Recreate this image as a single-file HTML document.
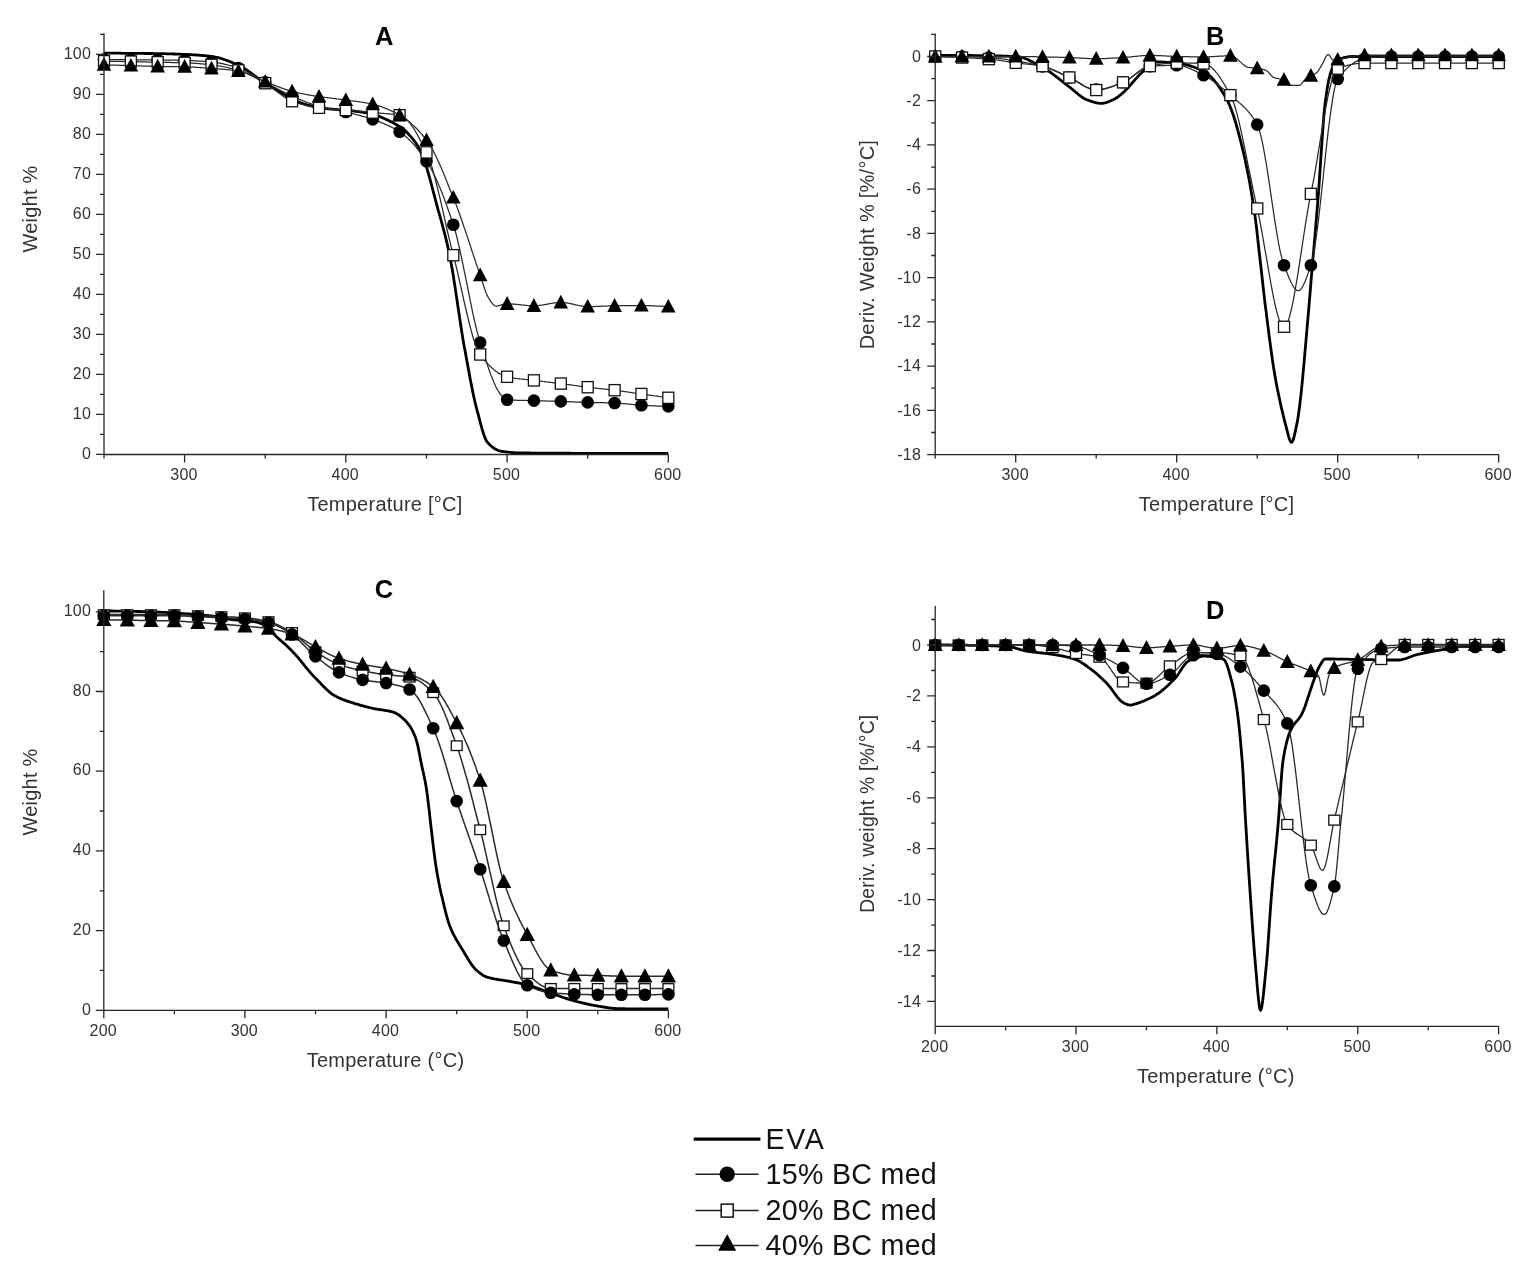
<!DOCTYPE html>
<html><head><meta charset="utf-8"><title>TGA / DTG curves</title>
<style>
html,body{margin:0;padding:0;background:#fff;}
body{width:1532px;height:1276px;overflow:hidden;}
svg{display:block;font-family:"Liberation Sans", Arial, sans-serif;}
.eva{fill:none;stroke:#000;stroke-width:2.8;stroke-linejoin:round;}
.ln{fill:none;stroke:#2a2a2a;stroke-linejoin:round;}
.mc{fill:#000;}
.ms rect{fill:#fff;stroke:#111;stroke-width:1.3;}
.mt{fill:#000;}
.ax{fill:none;stroke:#262626;stroke-width:1.3;}
.tl{font-size:16px;fill:#333;letter-spacing:0.2px;}
.tt{font-size:20px;fill:#333;letter-spacing:0.25px;}
.pl{font-size:25.5px;font-weight:bold;fill:#000;}
</style></head>
<body>
<svg width="1532" height="1276" viewBox="0 0 1532 1276">
<rect width="1532" height="1276" fill="#fff"/>
<path class="eva" d="M104 53.2L104.8 53.2L105.6 53.2L106.4 53.2L107.2 53.2L108 53.2L108.8 53.2L109.6 53.2L110.4 53.2L111.3 53.2L112.1 53.2L112.9 53.2L113.7 53.2L114.5 53.2L115.3 53.2L116.1 53.2L116.9 53.2L117.7 53.2L118.5 53.2L119.3 53.2L120.1 53.2L120.9 53.2L121.7 53.3L122.5 53.3L123.3 53.3L124.2 53.3L125 53.3L125.8 53.3L126.6 53.3L127.4 53.3L128.2 53.3L129 53.3L129.8 53.3L130.6 53.3L131.4 53.3L132.2 53.3L133 53.3L133.8 53.3L134.6 53.3L135.4 53.4L136.2 53.4L137.1 53.4L137.9 53.4L138.7 53.4L139.5 53.4L140.3 53.4L141.1 53.4L141.9 53.4L142.7 53.4L143.5 53.4L144.3 53.4L145.1 53.5L145.9 53.5L146.7 53.5L147.5 53.5L148.3 53.5L149.1 53.5L150 53.5L150.8 53.5L151.6 53.5L152.4 53.5L153.2 53.5L154 53.6L154.8 53.6L155.6 53.6L156.4 53.6L157.2 53.6L158 53.6L158.8 53.6L159.6 53.6L160.4 53.6L161.2 53.7L162 53.7L162.8 53.7L163.7 53.7L164.5 53.7L165.3 53.7L166.1 53.8L166.9 53.8L167.7 53.8L168.5 53.8L169.3 53.9L170.1 53.9L170.9 53.9L171.7 53.9L172.5 53.9L173.3 54L174.1 54L174.9 54L175.7 54.1L176.6 54.1L177.4 54.1L178.2 54.1L179 54.2L179.8 54.2L180.6 54.2L181.4 54.3L182.2 54.3L183 54.3L183.8 54.4L184.6 54.4L185.4 54.4L186.2 54.5L187 54.5L187.8 54.5L188.6 54.6L189.5 54.6L190.3 54.7L191.1 54.7L191.9 54.7L192.7 54.8L193.5 54.8L194.3 54.9L195.1 54.9L195.9 55L196.7 55L197.5 55.1L198.3 55.2L199.1 55.2L199.9 55.3L200.7 55.3L201.5 55.4L202.3 55.5L203.2 55.5L204 55.6L204.8 55.7L205.6 55.8L206.4 55.8L207.2 55.9L208 56L208.8 56.1L209.6 56.2L210.4 56.3L211.2 56.4L212 56.5L212.8 56.6L213.6 56.7L214.4 56.8L215.2 57L216.1 57.2L216.9 57.3L217.7 57.5L218.5 57.7L219.3 58L220.1 58.2L220.9 58.4L221.7 58.7L222.5 58.9L223.3 59.2L224.1 59.5L224.9 59.7L225.7 60L226.5 60.3L227.3 60.6L228.1 60.9L229 61.2L229.8 61.6L230.6 61.9L231.4 62.2L232.2 62.6L233 62.9L233.8 63.2L234.6 63.6L235.4 63.9L236.2 64.3L237 64.6L237.8 65L238.6 65.3L239.4 65.7L240.2 66.1L241 66.5L241.9 67L242.7 67.4L243.5 67.9L244.3 68.4L245.1 68.9L245.9 69.4L246.7 70L247.5 70.5L248.3 71.1L249.1 71.6L249.9 72.2L250.7 72.8L251.5 73.4L252.3 74L253.1 74.6L253.9 75.2L254.7 75.8L255.6 76.4L256.4 77L257.2 77.6L258 78.2L258.8 78.7L259.6 79.3L260.4 79.9L261.2 80.5L262 81L262.8 81.6L263.6 82.1L264.4 82.6L265.2 83.1L266 83.6L266.8 84.1L267.6 84.6L268.5 85.1L269.3 85.6L270.1 86.1L270.9 86.6L271.7 87.1L272.5 87.6L273.3 88.1L274.1 88.6L274.9 89.1L275.7 89.6L276.5 90L277.3 90.5L278.1 91L278.9 91.5L279.7 91.9L280.5 92.4L281.4 92.8L282.2 93.3L283 93.7L283.8 94.2L284.6 94.6L285.4 95L286.2 95.5L287 95.9L287.8 96.3L288.6 96.7L289.4 97.2L290.2 97.6L291 98L291.8 98.5L292.6 98.9L293.4 99.3L294.2 99.7L295.1 100.1L295.9 100.5L296.7 100.9L297.5 101.3L298.3 101.7L299.1 102.1L299.9 102.4L300.7 102.8L301.5 103.1L302.3 103.4L303.1 103.7L303.9 104L304.7 104.2L305.5 104.4L306.3 104.7L307.1 104.9L308 105.1L308.8 105.3L309.6 105.5L310.4 105.7L311.2 105.9L312 106.1L312.8 106.3L313.6 106.5L314.4 106.6L315.2 106.8L316 107L316.8 107.1L317.6 107.3L318.4 107.4L319.2 107.6L320 107.7L320.9 107.8L321.7 107.9L322.5 108.1L323.3 108.2L324.1 108.3L324.9 108.4L325.7 108.5L326.5 108.6L327.3 108.7L328.1 108.8L328.9 108.9L329.7 108.9L330.5 109L331.3 109.1L332.1 109.2L332.9 109.2L333.8 109.3L334.6 109.4L335.4 109.4L336.2 109.5L337 109.6L337.8 109.6L338.6 109.7L339.4 109.8L340.2 109.8L341 109.9L341.8 110L342.6 110L343.4 110.1L344.2 110.1L345 110.2L345.8 110.3L346.6 110.4L347.5 110.4L348.3 110.5L349.1 110.6L349.9 110.7L350.7 110.8L351.5 110.9L352.3 110.9L353.1 111L353.9 111.1L354.7 111.2L355.5 111.3L356.3 111.4L357.1 111.5L357.9 111.6L358.7 111.7L359.5 111.8L360.4 111.9L361.2 112L362 112.1L362.8 112.2L363.6 112.4L364.4 112.5L365.2 112.6L366 112.7L366.8 112.9L367.6 113L368.4 113.2L369.2 113.3L370 113.5L370.8 113.7L371.6 113.9L372.4 114.1L373.3 114.3L374.1 114.5L374.9 114.8L375.7 115L376.5 115.3L377.3 115.6L378.1 115.9L378.9 116.2L379.7 116.6L380.5 116.9L381.3 117.2L382.1 117.6L382.9 117.9L383.7 118.3L384.5 118.7L385.3 119L386.1 119.4L387 119.8L387.8 120.1L388.6 120.5L389.4 120.9L390.2 121.3L391 121.7L391.8 122.1L392.6 122.5L393.4 122.9L394.2 123.4L395 123.8L395.8 124.3L396.6 124.7L397.4 125.2L398.2 125.7L399 126.2L399.9 126.8L400.7 127.3L401.5 127.9L402.3 128.5L403.1 129.1L403.9 129.7L404.7 130.4L405.5 131.1L406.3 131.8L407.1 132.6L407.9 133.4L408.7 134.2L409.5 135.1L410.3 136L411.1 137L411.9 137.9L412.8 138.9L413.6 140L414.4 141.1L415.2 142.2L416 143.4L416.8 144.6L417.6 145.9L418.4 147.3L419.2 148.8L420 150.5L420.8 152.2L421.6 153.9L422.4 155.8L423.2 157.8L424 159.9L424.8 162.2L425.7 164.6L426.5 167.1L427.3 169.7L428.1 172.5L428.9 175.3L429.7 178.1L430.5 181.1L431.3 184.1L432.1 187.1L432.9 190.2L433.7 193.2L434.5 196.3L435.3 199.4L436.1 202.4L436.9 205.4L437.7 208.4L438.5 211.3L439.4 214.2L440.2 217.1L441 220L441.8 222.9L442.6 225.8L443.4 228.8L444.2 231.9L445 235L445.8 238.2L446.6 241.6L447.4 245L448.2 248.6L449 252.4L449.8 256.3L450.6 260.6L451.4 265.1L452.3 269.8L453.1 274.6L453.9 279.7L454.7 284.8L455.5 290.1L456.3 295.4L457.1 300.8L457.9 306.2L458.7 311.6L459.5 316.9L460.3 322.2L461.1 327.5L461.9 332.6L462.7 337.6L463.5 342.4L464.3 347L465.2 351.5L466 355.9L466.8 360.4L467.6 364.8L468.4 369.2L469.2 373.6L470 377.9L470.8 382.1L471.6 386.1L472.4 390.1L473.2 394L474 397.7L474.8 401.2L475.6 404.5L476.4 407.6L477.2 410.8L478.1 414L478.9 417.1L479.7 420.2L480.5 423.3L481.3 426.2L482.1 429.1L482.9 431.7L483.7 434.2L484.5 436.4L485.3 438.4L486.1 440.1L486.9 441.5L487.7 442.6L488.5 443.5L489.3 444.3L490.1 445.1L490.9 445.8L491.8 446.5L492.6 447.2L493.4 447.8L494.2 448.3L495 448.9L495.8 449.3L496.6 449.8L497.4 450.1L498.2 450.5L499 450.7L499.8 451L500.6 451.1L501.4 451.3L502.2 451.4L503 451.5L503.8 451.6L504.7 451.7L505.5 451.8L506.3 451.9L507.1 452L507.9 452.1L508.7 452.2L509.5 452.3L510.3 452.4L511.1 452.4L511.9 452.5L512.7 452.6L513.5 452.6L514.3 452.7L515.1 452.7L515.9 452.8L516.7 452.8L517.6 452.9L518.4 452.9L519.2 452.9L520 452.9L520.8 453L521.6 453L522.4 453L523.2 453L524 453L524.8 453L525.6 453L526.4 453L527.2 453L528 453L528.8 453L529.6 453L530.4 453L531.3 453.1L532.1 453.1L532.9 453.1L533.7 453.1L534.5 453.1L535.3 453.1L536.1 453.1L536.9 453.1L537.7 453.1L538.5 453.1L539.3 453.1L540.1 453.1L540.9 453.1L541.7 453.1L542.5 453.1L543.3 453.1L544.2 453.1L545 453.1L545.8 453.1L546.6 453.1L547.4 453.1L548.2 453.1L549 453.2L549.8 453.2L550.6 453.2L551.4 453.2L552.2 453.2L553 453.2L553.8 453.2L554.6 453.2L555.4 453.2L556.2 453.2L557.1 453.2L557.9 453.2L558.7 453.2L559.5 453.2L560.3 453.2L561.1 453.2L561.9 453.2L562.7 453.2L563.5 453.2L564.3 453.2L565.1 453.2L565.9 453.2L566.7 453.2L567.5 453.2L568.3 453.2L569.1 453.2L570 453.2L570.8 453.2L571.6 453.3L572.4 453.3L573.2 453.3L574 453.3L574.8 453.3L575.6 453.3L576.4 453.3L577.2 453.3L578 453.3L578.8 453.3L579.6 453.3L580.4 453.3L581.2 453.3L582 453.3L582.8 453.3L583.7 453.3L584.5 453.3L585.3 453.3L586.1 453.3L586.9 453.3L587.7 453.3L588.5 453.3L589.3 453.3L590.1 453.3L590.9 453.3L591.7 453.3L592.5 453.3L593.3 453.3L594.1 453.3L594.9 453.3L595.7 453.3L596.6 453.3L597.4 453.3L598.2 453.3L599 453.3L599.8 453.3L600.6 453.3L601.4 453.3L602.2 453.3L603 453.3L603.8 453.3L604.6 453.3L605.4 453.3L606.2 453.3L607 453.3L607.8 453.4L608.6 453.4L609.5 453.4L610.3 453.4L611.1 453.4L611.9 453.4L612.7 453.4L613.5 453.4L614.3 453.4L615.1 453.4L615.9 453.4L616.7 453.4L617.5 453.4L618.3 453.4L619.1 453.4L619.9 453.4L620.7 453.4L621.5 453.4L622.3 453.4L623.2 453.4L624 453.4L624.8 453.4L625.6 453.4L626.4 453.4L627.2 453.4L628 453.4L628.8 453.4L629.6 453.4L630.4 453.4L631.2 453.4L632 453.4L632.8 453.4L633.6 453.4L634.4 453.4L635.2 453.4L636.1 453.4L636.9 453.4L637.7 453.4L638.5 453.4L639.3 453.4L640.1 453.4L640.9 453.4L641.7 453.4L642.5 453.4L643.3 453.4L644.1 453.4L644.9 453.4L645.7 453.4L646.5 453.4L647.3 453.4L648.1 453.4L649 453.4L649.8 453.4L650.6 453.4L651.4 453.4L652.2 453.4L653 453.4L653.8 453.4L654.6 453.4L655.4 453.4L656.2 453.4L657 453.4L657.8 453.4L658.6 453.4L659.4 453.4L660.2 453.4L661 453.4L661.9 453.4L662.7 453.4L663.5 453.4L664.3 453.4L665.1 453.4L665.9 453.4L666.7 453.4L667.5 453.4L668.3 453.4"/>
<path class="ln" stroke-width="1.25" d="M104 59.6L104.8 59.6L105.6 59.6L106.4 59.6L107.2 59.6L108 59.6L108.8 59.6L109.6 59.6L110.4 59.6L111.3 59.7L112.1 59.7L112.9 59.7L113.7 59.7L114.5 59.7L115.3 59.7L116.1 59.7L116.9 59.7L117.7 59.7L118.5 59.7L119.3 59.7L120.1 59.7L120.9 59.7L121.7 59.7L122.5 59.7L123.3 59.7L124.2 59.7L125 59.8L125.8 59.8L126.6 59.8L127.4 59.8L128.2 59.8L129 59.8L129.8 59.8L130.6 59.8L131.4 59.8L132.2 59.8L133 59.8L133.8 59.8L134.6 59.8L135.4 59.8L136.2 59.8L137.1 59.8L137.9 59.8L138.7 59.9L139.5 59.9L140.3 59.9L141.1 59.9L141.9 59.9L142.7 59.9L143.5 59.9L144.3 59.9L145.1 59.9L145.9 59.9L146.7 59.9L147.5 59.9L148.3 59.9L149.1 59.9L150 59.9L150.8 59.9L151.6 59.9L152.4 60L153.2 60L154 60L154.8 60L155.6 60L156.4 60L157.2 60L158 60L158.8 60L159.6 60L160.4 60L161.2 60L162 60L162.8 60.1L163.7 60.1L164.5 60.1L165.3 60.1L166.1 60.1L166.9 60.1L167.7 60.1L168.5 60.1L169.3 60.1L170.1 60.1L170.9 60.1L171.7 60.2L172.5 60.2L173.3 60.2L174.1 60.2L174.9 60.2L175.7 60.2L176.6 60.2L177.4 60.3L178.2 60.3L179 60.3L179.8 60.3L180.6 60.3L181.4 60.3L182.2 60.3L183 60.4L183.8 60.4L184.6 60.4L185.4 60.4L186.2 60.4L187 60.5L187.8 60.5L188.6 60.5L189.5 60.5L190.3 60.6L191.1 60.6L191.9 60.6L192.7 60.7L193.5 60.7L194.3 60.8L195.1 60.8L195.9 60.8L196.7 60.9L197.5 60.9L198.3 61L199.1 61L199.9 61.1L200.7 61.1L201.5 61.2L202.3 61.2L203.2 61.3L204 61.4L204.8 61.4L205.6 61.5L206.4 61.6L207.2 61.6L208 61.7L208.8 61.8L209.6 61.8L210.4 61.9L211.2 62L212 62.1L212.8 62.1L213.6 62.2L214.4 62.3L215.2 62.4L216.1 62.6L216.9 62.7L217.7 62.8L218.5 62.9L219.3 63.1L220.1 63.2L220.9 63.4L221.7 63.6L222.5 63.7L223.3 63.9L224.1 64.1L224.9 64.3L225.7 64.4L226.5 64.6L227.3 64.8L228.1 65L229 65.3L229.8 65.5L230.6 65.7L231.4 65.9L232.2 66.1L233 66.4L233.8 66.6L234.6 66.8L235.4 67.1L236.2 67.3L237 67.6L237.8 67.8L238.6 68.1L239.4 68.4L240.2 68.7L241 69L241.9 69.3L242.7 69.6L243.5 70L244.3 70.4L245.1 70.8L245.9 71.2L246.7 71.6L247.5 72L248.3 72.5L249.1 72.9L249.9 73.4L250.7 73.9L251.5 74.4L252.3 74.8L253.1 75.3L253.9 75.8L254.7 76.3L255.6 76.8L256.4 77.3L257.2 77.8L258 78.3L258.8 78.7L259.6 79.2L260.4 79.7L261.2 80.2L262 80.6L262.8 81.1L263.6 81.5L264.4 82L265.2 82.4L266 82.8L266.8 83.2L267.6 83.7L268.5 84.1L269.3 84.5L270.1 84.9L270.9 85.4L271.7 85.8L272.5 86.2L273.3 86.7L274.1 87.1L274.9 87.5L275.7 87.9L276.5 88.4L277.3 88.8L278.1 89.2L278.9 89.6L279.7 90L280.5 90.4L281.4 90.9L282.2 91.3L283 91.7L283.8 92.1L284.6 92.5L285.4 92.9L286.2 93.3L287 93.7L287.8 94L288.6 94.4L289.4 94.8L290.2 95.2L291 95.5L291.8 95.9L292.6 96.2L293.4 96.6L294.2 96.9L295.1 97.3L295.9 97.7L296.7 98L297.5 98.4L298.3 98.7L299.1 99.1L299.9 99.4L300.7 99.8L301.5 100.1L302.3 100.4L303.1 100.8L303.9 101.1L304.7 101.4L305.5 101.8L306.3 102.1L307.1 102.4L308 102.7L308.8 103L309.6 103.3L310.4 103.6L311.2 103.9L312 104.2L312.8 104.5L313.6 104.8L314.4 105L315.2 105.3L316 105.5L316.8 105.8L317.6 106L318.4 106.3L319.2 106.5L320 106.7L320.9 106.9L321.7 107.1L322.5 107.3L323.3 107.5L324.1 107.7L324.9 107.8L325.7 108L326.5 108.2L327.3 108.3L328.1 108.5L328.9 108.7L329.7 108.8L330.5 109L331.3 109.1L332.1 109.3L332.9 109.4L333.8 109.6L334.6 109.7L335.4 109.9L336.2 110L337 110.2L337.8 110.3L338.6 110.5L339.4 110.6L340.2 110.8L341 110.9L341.8 111.1L342.6 111.3L343.4 111.5L344.2 111.6L345 111.8L345.8 112L346.6 112.2L347.5 112.4L348.3 112.6L349.1 112.8L349.9 113L350.7 113.2L351.5 113.4L352.3 113.6L353.1 113.8L353.9 114L354.7 114.2L355.5 114.4L356.3 114.6L357.1 114.8L357.9 115L358.7 115.2L359.5 115.4L360.4 115.6L361.2 115.8L362 116.1L362.8 116.3L363.6 116.5L364.4 116.8L365.2 117L366 117.2L366.8 117.5L367.6 117.7L368.4 118L369.2 118.2L370 118.5L370.8 118.8L371.6 119L372.4 119.3L373.3 119.6L374.1 119.9L374.9 120.2L375.7 120.4L376.5 120.7L377.3 121L378.1 121.3L378.9 121.6L379.7 121.9L380.5 122.2L381.3 122.6L382.1 122.9L382.9 123.2L383.7 123.5L384.5 123.9L385.3 124.2L386.1 124.6L387 124.9L387.8 125.3L388.6 125.7L389.4 126.1L390.2 126.5L391 126.9L391.8 127.3L392.6 127.7L393.4 128.1L394.2 128.6L395 129L395.8 129.5L396.6 130L397.4 130.4L398.2 130.9L399 131.5L399.9 132L400.7 132.5L401.5 133.1L402.3 133.7L403.1 134.3L403.9 134.9L404.7 135.6L405.5 136.3L406.3 137L407.1 137.7L407.9 138.4L408.7 139.2L409.5 140L410.3 140.8L411.1 141.6L411.9 142.5L412.8 143.4L413.6 144.3L414.4 145.2L415.2 146.1L416 147.1L416.8 148L417.6 149L418.4 150L419.2 151.1L420 152.1L420.8 153.2L421.6 154.3L422.4 155.4L423.2 156.5L424 157.7L424.8 158.8L425.7 160L426.5 161.2L427.3 162.4L428.1 163.7L428.9 165L429.7 166.4L430.5 167.8L431.3 169.3L432.1 170.8L432.9 172.4L433.7 174L434.5 175.6L435.3 177.3L436.1 179.1L436.9 180.8L437.7 182.7L438.5 184.5L439.4 186.4L440.2 188.4L441 190.3L441.8 192.3L442.6 194.4L443.4 196.5L444.2 198.6L445 200.7L445.8 202.9L446.6 205.1L447.4 207.4L448.2 209.7L449 212L449.8 214.3L450.6 216.7L451.4 219.1L452.3 221.5L453.1 224L453.9 226.5L454.7 229.2L455.5 232L456.3 235L457.1 238.2L457.9 241.5L458.7 244.9L459.5 248.4L460.3 252L461.1 255.8L461.9 259.5L462.7 263.4L463.5 267.3L464.3 271.3L465.2 275.3L466 279.3L466.8 283.4L467.6 287.4L468.4 291.4L469.2 295.4L470 299.4L470.8 303.4L471.6 307.2L472.4 311.1L473.2 314.8L474 318.5L474.8 322L475.6 325.5L476.4 328.8L477.2 332L478.1 335.1L478.9 338L479.7 340.8L480.5 343.4L481.3 345.9L482.1 348.5L482.9 351L483.7 353.6L484.5 356.1L485.3 358.6L486.1 361L486.9 363.5L487.7 365.9L488.5 368.2L489.3 370.5L490.1 372.8L490.9 374.9L491.8 377.1L492.6 379.1L493.4 381.1L494.2 383L495 384.8L495.8 386.5L496.6 388.1L497.4 389.6L498.2 391L499 392.2L499.8 393.4L500.6 394.4L501.4 395.3L502.2 396.3L503 397.1L503.8 398L504.7 398.7L505.5 399.2L506.3 399.6L507.1 399.8L507.9 399.9L508.7 399.9L509.5 400L510.3 400L511.1 400L511.9 400.1L512.7 400.1L513.5 400.1L514.3 400.2L515.1 400.2L515.9 400.2L516.7 400.3L517.6 400.3L518.4 400.3L519.2 400.3L520 400.3L520.8 400.3L521.6 400.4L522.4 400.4L523.2 400.4L524 400.4L524.8 400.4L525.6 400.4L526.4 400.4L527.2 400.5L528 400.5L528.8 400.5L529.6 400.5L530.4 400.5L531.3 400.5L532.1 400.5L532.9 400.6L533.7 400.6L534.5 400.6L535.3 400.6L536.1 400.7L536.9 400.7L537.7 400.7L538.5 400.7L539.3 400.8L540.1 400.8L540.9 400.8L541.7 400.8L542.5 400.8L543.3 400.9L544.2 400.9L545 400.9L545.8 400.9L546.6 401L547.4 401L548.2 401L549 401L549.8 401.1L550.6 401.1L551.4 401.1L552.2 401.1L553 401.2L553.8 401.2L554.6 401.2L555.4 401.2L556.2 401.3L557.1 401.3L557.9 401.3L558.7 401.3L559.5 401.4L560.3 401.4L561.1 401.4L561.9 401.4L562.7 401.5L563.5 401.5L564.3 401.5L565.1 401.6L565.9 401.6L566.7 401.6L567.5 401.6L568.3 401.7L569.1 401.7L570 401.7L570.8 401.8L571.6 401.8L572.4 401.8L573.2 401.9L574 401.9L574.8 401.9L575.6 402L576.4 402L577.2 402L578 402.1L578.8 402.1L579.6 402.1L580.4 402.2L581.2 402.2L582 402.2L582.8 402.2L583.7 402.3L584.5 402.3L585.3 402.3L586.1 402.4L586.9 402.4L587.7 402.4L588.5 402.4L589.3 402.4L590.1 402.5L590.9 402.5L591.7 402.5L592.5 402.5L593.3 402.5L594.1 402.5L594.9 402.6L595.7 402.6L596.6 402.6L597.4 402.6L598.2 402.6L599 402.6L599.8 402.7L600.6 402.7L601.4 402.7L602.2 402.7L603 402.7L603.8 402.7L604.6 402.7L605.4 402.8L606.2 402.8L607 402.8L607.8 402.8L608.6 402.8L609.5 402.8L610.3 402.9L611.1 402.9L611.9 402.9L612.7 402.9L613.5 403L614.3 403L615.1 403L615.9 403.1L616.7 403.1L617.5 403.1L618.3 403.2L619.1 403.2L619.9 403.3L620.7 403.4L621.5 403.4L622.3 403.5L623.2 403.6L624 403.6L624.8 403.7L625.6 403.8L626.4 403.9L627.2 403.9L628 404L628.8 404.1L629.6 404.2L630.4 404.3L631.2 404.3L632 404.4L632.8 404.5L633.6 404.6L634.4 404.7L635.2 404.7L636.1 404.8L636.9 404.9L637.7 404.9L638.5 405L639.3 405.1L640.1 405.1L640.9 405.2L641.7 405.2L642.5 405.3L643.3 405.3L644.1 405.4L644.9 405.4L645.7 405.4L646.5 405.5L647.3 405.5L648.1 405.6L649 405.6L649.8 405.7L650.6 405.7L651.4 405.7L652.2 405.8L653 405.8L653.8 405.9L654.6 405.9L655.4 405.9L656.2 406L657 406L657.8 406L658.6 406.1L659.4 406.1L660.2 406.1L661 406.2L661.9 406.2L662.7 406.2L663.5 406.3L664.3 406.3L665.1 406.3L665.9 406.3L666.7 406.4L667.5 406.4L668.3 406.4"/>
<g class="mc"><circle cx="104" cy="59.6" r="6.3"/><circle cx="130.9" cy="59.8" r="6.3"/><circle cx="157.7" cy="60" r="6.3"/><circle cx="184.6" cy="60.4" r="6.3"/><circle cx="211.5" cy="62" r="6.3"/><circle cx="238.4" cy="68" r="6.3"/><circle cx="265.2" cy="82.4" r="6.3"/><circle cx="292.1" cy="96" r="6.3"/><circle cx="319" cy="106.4" r="6.3"/><circle cx="345.8" cy="112" r="6.3"/><circle cx="372.7" cy="119.4" r="6.3"/><circle cx="399.6" cy="131.8" r="6.3"/><circle cx="426.5" cy="161.2" r="6.3"/><circle cx="453.3" cy="224.8" r="6.3"/><circle cx="480.2" cy="342.5" r="6.3"/><circle cx="507.1" cy="399.8" r="6.3"/><circle cx="533.9" cy="400.6" r="6.3"/><circle cx="560.8" cy="401.4" r="6.3"/><circle cx="587.7" cy="402.4" r="6.3"/><circle cx="614.6" cy="403" r="6.3"/><circle cx="641.4" cy="405.2" r="6.3"/><circle cx="668.3" cy="406.4" r="6.3"/></g>
<path class="ln" stroke-width="1.25" d="M104 61.2L104.8 61.2L105.6 61.2L106.4 61.2L107.2 61.2L108 61.2L108.8 61.3L109.6 61.3L110.4 61.3L111.3 61.3L112.1 61.3L112.9 61.3L113.7 61.3L114.5 61.3L115.3 61.3L116.1 61.4L116.9 61.4L117.7 61.4L118.5 61.4L119.3 61.4L120.1 61.4L120.9 61.4L121.7 61.4L122.5 61.5L123.3 61.5L124.2 61.5L125 61.5L125.8 61.5L126.6 61.5L127.4 61.5L128.2 61.6L129 61.6L129.8 61.6L130.6 61.6L131.4 61.6L132.2 61.6L133 61.6L133.8 61.7L134.6 61.7L135.4 61.7L136.2 61.7L137.1 61.7L137.9 61.7L138.7 61.8L139.5 61.8L140.3 61.8L141.1 61.8L141.9 61.8L142.7 61.8L143.5 61.9L144.3 61.9L145.1 61.9L145.9 61.9L146.7 61.9L147.5 62L148.3 62L149.1 62L150 62L150.8 62L151.6 62.1L152.4 62.1L153.2 62.1L154 62.1L154.8 62.1L155.6 62.2L156.4 62.2L157.2 62.2L158 62.2L158.8 62.2L159.6 62.2L160.4 62.3L161.2 62.3L162 62.3L162.8 62.3L163.7 62.3L164.5 62.3L165.3 62.3L166.1 62.4L166.9 62.4L167.7 62.4L168.5 62.4L169.3 62.4L170.1 62.4L170.9 62.5L171.7 62.5L172.5 62.5L173.3 62.5L174.1 62.5L174.9 62.5L175.7 62.6L176.6 62.6L177.4 62.6L178.2 62.6L179 62.6L179.8 62.7L180.6 62.7L181.4 62.7L182.2 62.7L183 62.7L183.8 62.8L184.6 62.8L185.4 62.8L186.2 62.9L187 62.9L187.8 62.9L188.6 63L189.5 63L190.3 63L191.1 63.1L191.9 63.1L192.7 63.2L193.5 63.2L194.3 63.3L195.1 63.3L195.9 63.4L196.7 63.4L197.5 63.5L198.3 63.6L199.1 63.6L199.9 63.7L200.7 63.8L201.5 63.8L202.3 63.9L203.2 64L204 64L204.8 64.1L205.6 64.2L206.4 64.3L207.2 64.3L208 64.4L208.8 64.5L209.6 64.6L210.4 64.7L211.2 64.8L212 64.9L212.8 65L213.6 65.1L214.4 65.2L215.2 65.3L216.1 65.4L216.9 65.5L217.7 65.6L218.5 65.8L219.3 65.9L220.1 66L220.9 66.2L221.7 66.3L222.5 66.5L223.3 66.7L224.1 66.8L224.9 67L225.7 67.2L226.5 67.3L227.3 67.5L228.1 67.7L229 67.9L229.8 68.1L230.6 68.3L231.4 68.5L232.2 68.7L233 68.9L233.8 69.1L234.6 69.3L235.4 69.6L236.2 69.8L237 70L237.8 70.2L238.6 70.5L239.4 70.7L240.2 71L241 71.3L241.9 71.5L242.7 71.8L243.5 72.1L244.3 72.5L245.1 72.8L245.9 73.1L246.7 73.5L247.5 73.8L248.3 74.2L249.1 74.6L249.9 75L250.7 75.4L251.5 75.8L252.3 76.2L253.1 76.6L253.9 77L254.7 77.4L255.6 77.9L256.4 78.3L257.2 78.7L258 79.2L258.8 79.6L259.6 80.1L260.4 80.5L261.2 81L262 81.4L262.8 81.9L263.6 82.3L264.4 82.8L265.2 83.2L266 83.7L266.8 84.1L267.6 84.7L268.5 85.2L269.3 85.7L270.1 86.3L270.9 86.9L271.7 87.5L272.5 88.1L273.3 88.7L274.1 89.3L274.9 89.9L275.7 90.6L276.5 91.2L277.3 91.8L278.1 92.4L278.9 93.1L279.7 93.7L280.5 94.3L281.4 94.9L282.2 95.5L283 96.1L283.8 96.6L284.6 97.2L285.4 97.7L286.2 98.2L287 98.7L287.8 99.2L288.6 99.6L289.4 100L290.2 100.4L291 100.8L291.8 101.1L292.6 101.4L293.4 101.7L294.2 102L295.1 102.2L295.9 102.5L296.7 102.8L297.5 103L298.3 103.3L299.1 103.5L299.9 103.8L300.7 104L301.5 104.2L302.3 104.5L303.1 104.7L303.9 104.9L304.7 105.1L305.5 105.3L306.3 105.5L307.1 105.7L308 105.9L308.8 106L309.6 106.2L310.4 106.4L311.2 106.6L312 106.7L312.8 106.9L313.6 107L314.4 107.1L315.2 107.3L316 107.4L316.8 107.5L317.6 107.6L318.4 107.7L319.2 107.8L320 107.9L320.9 108L321.7 108.1L322.5 108.2L323.3 108.3L324.1 108.3L324.9 108.4L325.7 108.5L326.5 108.6L327.3 108.6L328.1 108.7L328.9 108.8L329.7 108.8L330.5 108.9L331.3 108.9L332.1 109L332.9 109.1L333.8 109.1L334.6 109.2L335.4 109.2L336.2 109.3L337 109.3L337.8 109.4L338.6 109.4L339.4 109.5L340.2 109.6L341 109.6L341.8 109.7L342.6 109.7L343.4 109.8L344.2 109.9L345 109.9L345.8 110L346.6 110.1L347.5 110.1L348.3 110.2L349.1 110.3L349.9 110.4L350.7 110.4L351.5 110.5L352.3 110.6L353.1 110.7L353.9 110.7L354.7 110.8L355.5 110.9L356.3 111L357.1 111.1L357.9 111.1L358.7 111.2L359.5 111.3L360.4 111.4L361.2 111.5L362 111.5L362.8 111.6L363.6 111.7L364.4 111.8L365.2 111.9L366 111.9L366.8 112L367.6 112.1L368.4 112.2L369.2 112.3L370 112.3L370.8 112.4L371.6 112.5L372.4 112.6L373.3 112.7L374.1 112.7L374.9 112.8L375.7 112.9L376.5 112.9L377.3 113L378.1 113L378.9 113.1L379.7 113.2L380.5 113.2L381.3 113.3L382.1 113.3L382.9 113.4L383.7 113.4L384.5 113.5L385.3 113.6L386.1 113.6L387 113.7L387.8 113.7L388.6 113.8L389.4 113.9L390.2 114L391 114L391.8 114.1L392.6 114.2L393.4 114.3L394.2 114.4L395 114.5L395.8 114.6L396.6 114.7L397.4 114.8L398.2 115L399 115.1L399.9 115.3L400.7 115.5L401.5 115.8L402.3 116.1L403.1 116.6L403.9 117.1L404.7 117.7L405.5 118.4L406.3 119.1L407.1 119.9L407.9 120.8L408.7 121.7L409.5 122.7L410.3 123.7L411.1 124.8L411.9 126L412.8 127.2L413.6 128.4L414.4 129.7L415.2 131L416 132.4L416.8 133.8L417.6 135.2L418.4 136.6L419.2 138.1L420 139.6L420.8 141.2L421.6 142.7L422.4 144.3L423.2 145.9L424 147.5L424.8 149.1L425.7 150.8L426.5 152.4L427.3 154.1L428.1 156L428.9 158.1L429.7 160.3L430.5 162.6L431.3 165.1L432.1 167.7L432.9 170.5L433.7 173.3L434.5 176.3L435.3 179.3L436.1 182.5L436.9 185.7L437.7 189L438.5 192.3L439.4 195.7L440.2 199.2L441 202.6L441.8 206.2L442.6 209.7L443.4 213.3L444.2 216.8L445 220.4L445.8 224L446.6 227.5L447.4 231L448.2 234.5L449 237.9L449.8 241.3L450.6 244.6L451.4 247.9L452.3 251.1L453.1 254.2L453.9 257.2L454.7 260.4L455.5 263.6L456.3 267L457.1 270.3L457.9 273.8L458.7 277.3L459.5 280.8L460.3 284.4L461.1 288L461.9 291.6L462.7 295.2L463.5 298.8L464.3 302.4L465.2 306L466 309.5L466.8 312.9L467.6 316.3L468.4 319.7L469.2 322.9L470 326.1L470.8 329.2L471.6 332.2L472.4 335L473.2 337.7L474 340.3L474.8 342.8L475.6 345L476.4 347.2L477.2 349.1L478.1 350.8L478.9 352.4L479.7 353.7L480.5 354.9L481.3 356L482.1 357L482.9 358L483.7 359L484.5 360L485.3 361L486.1 361.9L486.9 362.8L487.7 363.7L488.5 364.6L489.3 365.4L490.1 366.2L490.9 367L491.8 367.8L492.6 368.5L493.4 369.2L494.2 369.9L495 370.5L495.8 371.2L496.6 371.8L497.4 372.3L498.2 372.9L499 373.4L499.8 373.8L500.6 374.3L501.4 374.7L502.2 375.1L503 375.5L503.8 375.8L504.7 376.1L505.5 376.4L506.3 376.6L507.1 376.8L507.9 377L508.7 377.2L509.5 377.3L510.3 377.5L511.1 377.6L511.9 377.8L512.7 377.9L513.5 378L514.3 378.2L515.1 378.3L515.9 378.4L516.7 378.5L517.6 378.6L518.4 378.7L519.2 378.8L520 378.9L520.8 379L521.6 379.1L522.4 379.2L523.2 379.2L524 379.3L524.8 379.4L525.6 379.5L526.4 379.6L527.2 379.7L528 379.7L528.8 379.8L529.6 379.9L530.4 380L531.3 380.1L532.1 380.2L532.9 380.3L533.7 380.4L534.5 380.5L535.3 380.6L536.1 380.7L536.9 380.8L537.7 380.9L538.5 381L539.3 381.1L540.1 381.2L540.9 381.2L541.7 381.3L542.5 381.4L543.3 381.5L544.2 381.6L545 381.7L545.8 381.8L546.6 381.9L547.4 382L548.2 382.1L549 382.2L549.8 382.3L550.6 382.4L551.4 382.5L552.2 382.6L553 382.7L553.8 382.8L554.6 382.8L555.4 382.9L556.2 383L557.1 383.1L557.9 383.2L558.7 383.3L559.5 383.4L560.3 383.5L561.1 383.6L561.9 383.7L562.7 383.8L563.5 383.9L564.3 384.1L565.1 384.2L565.9 384.3L566.7 384.4L567.5 384.5L568.3 384.6L569.1 384.7L570 384.8L570.8 384.9L571.6 385L572.4 385.2L573.2 385.3L574 385.4L574.8 385.5L575.6 385.6L576.4 385.7L577.2 385.8L578 385.9L578.8 386L579.6 386.2L580.4 386.3L581.2 386.4L582 386.5L582.8 386.6L583.7 386.7L584.5 386.8L585.3 386.9L586.1 387L586.9 387.1L587.7 387.2L588.5 387.3L589.3 387.4L590.1 387.5L590.9 387.6L591.7 387.7L592.5 387.8L593.3 387.9L594.1 387.9L594.9 388L595.7 388.1L596.6 388.2L597.4 388.3L598.2 388.4L599 388.5L599.8 388.5L600.6 388.6L601.4 388.7L602.2 388.8L603 388.9L603.8 389L604.6 389.1L605.4 389.1L606.2 389.2L607 389.3L607.8 389.4L608.6 389.5L609.5 389.6L610.3 389.7L611.1 389.8L611.9 389.9L612.7 390L613.5 390.1L614.3 390.2L615.1 390.3L615.9 390.4L616.7 390.5L617.5 390.6L618.3 390.7L619.1 390.8L619.9 390.9L620.7 391L621.5 391.1L622.3 391.2L623.2 391.3L624 391.5L624.8 391.6L625.6 391.7L626.4 391.8L627.2 391.9L628 392L628.8 392.2L629.6 392.3L630.4 392.4L631.2 392.5L632 392.6L632.8 392.8L633.6 392.9L634.4 393L635.2 393.1L636.1 393.2L636.9 393.3L637.7 393.5L638.5 393.6L639.3 393.7L640.1 393.8L640.9 393.9L641.7 394L642.5 394.2L643.3 394.3L644.1 394.4L644.9 394.5L645.7 394.6L646.5 394.7L647.3 394.8L648.1 394.9L649 395.1L649.8 395.2L650.6 395.3L651.4 395.4L652.2 395.5L653 395.6L653.8 395.7L654.6 395.9L655.4 396L656.2 396.1L657 396.2L657.8 396.3L658.6 396.4L659.4 396.5L660.2 396.7L661 396.8L661.9 396.9L662.7 397L663.5 397.1L664.3 397.2L665.1 397.3L665.9 397.5L666.7 397.6L667.5 397.7L668.3 397.8"/>
<g class="ms"><rect x="98.5" y="55.6" width="11" height="11.2"/><rect x="125.4" y="56" width="11" height="11.2"/><rect x="152.2" y="56.6" width="11" height="11.2"/><rect x="179.1" y="57.2" width="11" height="11.2"/><rect x="206" y="59.2" width="11" height="11.2"/><rect x="232.9" y="64.8" width="11" height="11.2"/><rect x="259.7" y="77.6" width="11" height="11.2"/><rect x="286.6" y="95.6" width="11" height="11.2"/><rect x="313.5" y="102.2" width="11" height="11.2"/><rect x="340.3" y="104.4" width="11" height="11.2"/><rect x="367.2" y="107" width="11" height="11.2"/><rect x="394.1" y="109.6" width="11" height="11.2"/><rect x="421" y="146.8" width="11" height="11.2"/><rect x="447.8" y="249.6" width="11" height="11.2"/><rect x="474.7" y="348.9" width="11" height="11.2"/><rect x="501.6" y="371.2" width="11" height="11.2"/><rect x="528.4" y="374.8" width="11" height="11.2"/><rect x="555.3" y="378" width="11" height="11.2"/><rect x="582.2" y="381.6" width="11" height="11.2"/><rect x="609.1" y="384.6" width="11" height="11.2"/><rect x="635.9" y="388.4" width="11" height="11.2"/><rect x="662.8" y="392.2" width="11" height="11.2"/></g>
<path class="ln" stroke-width="1.25" d="M104 64.8L104.8 64.8L105.6 64.8L106.4 64.9L107.2 64.9L108 64.9L108.8 64.9L109.6 65L110.4 65L111.3 65L112.1 65L112.9 65.1L113.7 65.1L114.5 65.1L115.3 65.1L116.1 65.2L116.9 65.2L117.7 65.2L118.5 65.2L119.3 65.3L120.1 65.3L120.9 65.3L121.7 65.3L122.5 65.4L123.3 65.4L124.2 65.4L125 65.4L125.8 65.4L126.6 65.5L127.4 65.5L128.2 65.5L129 65.5L129.8 65.6L130.6 65.6L131.4 65.6L132.2 65.6L133 65.7L133.8 65.7L134.6 65.7L135.4 65.7L136.2 65.8L137.1 65.8L137.9 65.8L138.7 65.8L139.5 65.9L140.3 65.9L141.1 65.9L141.9 66L142.7 66L143.5 66L144.3 66L145.1 66.1L145.9 66.1L146.7 66.1L147.5 66.1L148.3 66.2L149.1 66.2L150 66.2L150.8 66.2L151.6 66.3L152.4 66.3L153.2 66.3L154 66.3L154.8 66.3L155.6 66.4L156.4 66.4L157.2 66.4L158 66.4L158.8 66.4L159.6 66.4L160.4 66.4L161.2 66.5L162 66.5L162.8 66.5L163.7 66.5L164.5 66.5L165.3 66.5L166.1 66.5L166.9 66.5L167.7 66.5L168.5 66.6L169.3 66.6L170.1 66.6L170.9 66.6L171.7 66.6L172.5 66.6L173.3 66.6L174.1 66.6L174.9 66.6L175.7 66.6L176.6 66.7L177.4 66.7L178.2 66.7L179 66.7L179.8 66.7L180.6 66.7L181.4 66.7L182.2 66.7L183 66.8L183.8 66.8L184.6 66.8L185.4 66.8L186.2 66.8L187 66.9L187.8 66.9L188.6 66.9L189.5 67L190.3 67L191.1 67L191.9 67.1L192.7 67.1L193.5 67.2L194.3 67.2L195.1 67.2L195.9 67.3L196.7 67.3L197.5 67.4L198.3 67.4L199.1 67.5L199.9 67.6L200.7 67.6L201.5 67.7L202.3 67.7L203.2 67.8L204 67.8L204.8 67.9L205.6 68L206.4 68L207.2 68.1L208 68.1L208.8 68.2L209.6 68.3L210.4 68.3L211.2 68.4L212 68.4L212.8 68.5L213.6 68.6L214.4 68.6L215.2 68.7L216.1 68.7L216.9 68.8L217.7 68.8L218.5 68.9L219.3 69L220.1 69L220.9 69.1L221.7 69.2L222.5 69.2L223.3 69.3L224.1 69.4L224.9 69.4L225.7 69.5L226.5 69.6L227.3 69.6L228.1 69.7L229 69.8L229.8 69.9L230.6 70L231.4 70.1L232.2 70.2L233 70.3L233.8 70.4L234.6 70.5L235.4 70.6L236.2 70.7L237 70.8L237.8 70.9L238.6 71L239.4 71.2L240.2 71.4L241 71.5L241.9 71.8L242.7 72L243.5 72.2L244.3 72.5L245.1 72.8L245.9 73.1L246.7 73.4L247.5 73.7L248.3 74L249.1 74.4L249.9 74.7L250.7 75.1L251.5 75.4L252.3 75.8L253.1 76.2L253.9 76.5L254.7 76.9L255.6 77.3L256.4 77.7L257.2 78.1L258 78.5L258.8 78.8L259.6 79.2L260.4 79.6L261.2 79.9L262 80.3L262.8 80.6L263.6 81L264.4 81.3L265.2 81.6L266 81.9L266.8 82.2L267.6 82.5L268.5 82.8L269.3 83.2L270.1 83.5L270.9 83.8L271.7 84.1L272.5 84.5L273.3 84.8L274.1 85.1L274.9 85.4L275.7 85.8L276.5 86.1L277.3 86.4L278.1 86.7L278.9 87L279.7 87.3L280.5 87.6L281.4 87.9L282.2 88.2L283 88.5L283.8 88.8L284.6 89.1L285.4 89.4L286.2 89.7L287 89.9L287.8 90.2L288.6 90.4L289.4 90.7L290.2 90.9L291 91.1L291.8 91.3L292.6 91.5L293.4 91.7L294.2 91.9L295.1 92.1L295.9 92.3L296.7 92.5L297.5 92.7L298.3 92.9L299.1 93L299.9 93.2L300.7 93.4L301.5 93.5L302.3 93.7L303.1 93.9L303.9 94L304.7 94.2L305.5 94.3L306.3 94.5L307.1 94.6L308 94.8L308.8 94.9L309.6 95.1L310.4 95.2L311.2 95.3L312 95.5L312.8 95.6L313.6 95.8L314.4 95.9L315.2 96L316 96.1L316.8 96.3L317.6 96.4L318.4 96.5L319.2 96.6L320 96.8L320.9 96.9L321.7 97L322.5 97.1L323.3 97.2L324.1 97.3L324.9 97.4L325.7 97.5L326.5 97.6L327.3 97.7L328.1 97.8L328.9 97.9L329.7 98L330.5 98.1L331.3 98.2L332.1 98.3L332.9 98.4L333.8 98.5L334.6 98.6L335.4 98.7L336.2 98.8L337 98.9L337.8 99L338.6 99.1L339.4 99.2L340.2 99.3L341 99.4L341.8 99.5L342.6 99.6L343.4 99.7L344.2 99.8L345 99.9L345.8 100L346.6 100.1L347.5 100.2L348.3 100.3L349.1 100.4L349.9 100.5L350.7 100.7L351.5 100.8L352.3 100.9L353.1 101L353.9 101.1L354.7 101.2L355.5 101.3L356.3 101.4L357.1 101.5L357.9 101.6L358.7 101.7L359.5 101.8L360.4 102L361.2 102.1L362 102.2L362.8 102.3L363.6 102.5L364.4 102.6L365.2 102.7L366 102.9L366.8 103L367.6 103.2L368.4 103.3L369.2 103.5L370 103.6L370.8 103.8L371.6 104L372.4 104.1L373.3 104.3L374.1 104.5L374.9 104.7L375.7 104.9L376.5 105.2L377.3 105.4L378.1 105.6L378.9 105.9L379.7 106.1L380.5 106.4L381.3 106.7L382.1 107L382.9 107.3L383.7 107.6L384.5 107.9L385.3 108.2L386.1 108.6L387 108.9L387.8 109.2L388.6 109.6L389.4 110L390.2 110.3L391 110.7L391.8 111.1L392.6 111.5L393.4 111.9L394.2 112.3L395 112.7L395.8 113.1L396.6 113.6L397.4 114L398.2 114.4L399 114.9L399.9 115.4L400.7 115.8L401.5 116.3L402.3 116.8L403.1 117.3L403.9 117.9L404.7 118.4L405.5 119L406.3 119.6L407.1 120.2L407.9 120.8L408.7 121.5L409.5 122.1L410.3 122.8L411.1 123.5L411.9 124.2L412.8 124.9L413.6 125.7L414.4 126.4L415.2 127.2L416 128L416.8 128.8L417.6 129.7L418.4 130.5L419.2 131.4L420 132.3L420.8 133.2L421.6 134.1L422.4 135L423.2 136L424 137L424.8 138L425.7 139L426.5 140L427.3 141.1L428.1 142.2L428.9 143.4L429.7 144.7L430.5 146L431.3 147.4L432.1 148.8L432.9 150.3L433.7 151.8L434.5 153.4L435.3 155L436.1 156.6L436.9 158.3L437.7 160.1L438.5 161.8L439.4 163.7L440.2 165.5L441 167.3L441.8 169.2L442.6 171.1L443.4 173.1L444.2 175L445 177L445.8 178.9L446.6 180.9L447.4 182.9L448.2 184.9L449 186.9L449.8 188.9L450.6 190.9L451.4 192.9L452.3 194.9L453.1 196.9L453.9 198.9L454.7 201L455.5 203L456.3 205.1L457.1 207.3L457.9 209.5L458.7 211.7L459.5 213.9L460.3 216.2L461.1 218.5L461.9 220.8L462.7 223.2L463.5 225.5L464.3 227.9L465.2 230.3L466 232.7L466.8 235.1L467.6 237.5L468.4 240L469.2 242.4L470 244.8L470.8 247.3L471.6 249.7L472.4 252.2L473.2 254.6L474 257L474.8 259.5L475.6 261.9L476.4 264.3L477.2 266.6L478.1 269L478.9 271.3L479.7 273.7L480.5 276L481.3 278.4L482.1 280.9L482.9 283.5L483.7 286.1L484.5 288.6L485.3 290.9L486.1 293L486.9 294.9L487.7 296.4L488.5 297.7L489.3 299.1L490.1 300.4L490.9 301.7L491.8 302.8L492.6 303.8L493.4 304.7L494.2 305.4L495 305.8L495.8 306L496.6 306L497.4 305.9L498.2 305.8L499 305.6L499.8 305.4L500.6 305.2L501.4 304.9L502.2 304.7L503 304.5L503.8 304.2L504.7 304.1L505.5 303.9L506.3 303.8L507.1 303.8L507.9 303.8L508.7 303.8L509.5 303.8L510.3 303.9L511.1 303.9L511.9 304L512.7 304L513.5 304.1L514.3 304.2L515.1 304.2L515.9 304.3L516.7 304.4L517.6 304.5L518.4 304.6L519.2 304.7L520 304.7L520.8 304.8L521.6 304.9L522.4 305L523.2 305.1L524 305.2L524.8 305.3L525.6 305.3L526.4 305.4L527.2 305.5L528 305.6L528.8 305.6L529.6 305.7L530.4 305.7L531.3 305.7L532.1 305.8L532.9 305.8L533.7 305.8L534.5 305.8L535.3 305.8L536.1 305.7L536.9 305.7L537.7 305.6L538.5 305.5L539.3 305.4L540.1 305.3L540.9 305.2L541.7 305.1L542.5 305L543.3 304.8L544.2 304.7L545 304.6L545.8 304.4L546.6 304.3L547.4 304.1L548.2 303.9L549 303.8L549.8 303.6L550.6 303.5L551.4 303.4L552.2 303.2L553 303.1L553.8 303L554.6 302.9L555.4 302.8L556.2 302.7L557.1 302.6L557.9 302.5L558.7 302.5L559.5 302.4L560.3 302.4L561.1 302.4L561.9 302.4L562.7 302.5L563.5 302.5L564.3 302.6L565.1 302.7L565.9 302.8L566.7 302.9L567.5 303.1L568.3 303.2L569.1 303.4L570 303.5L570.8 303.7L571.6 303.9L572.4 304.1L573.2 304.2L574 304.4L574.8 304.6L575.6 304.8L576.4 305L577.2 305.2L578 305.4L578.8 305.5L579.6 305.7L580.4 305.8L581.2 306L582 306.1L582.8 306.2L583.7 306.3L584.5 306.4L585.3 306.5L586.1 306.6L586.9 306.6L587.7 306.6L588.5 306.6L589.3 306.6L590.1 306.6L590.9 306.6L591.7 306.6L592.5 306.5L593.3 306.5L594.1 306.5L594.9 306.5L595.7 306.4L596.6 306.4L597.4 306.4L598.2 306.4L599 306.3L599.8 306.3L600.6 306.3L601.4 306.2L602.2 306.2L603 306.2L603.8 306.1L604.6 306.1L605.4 306.1L606.2 306L607 306L607.8 306L608.6 305.9L609.5 305.9L610.3 305.9L611.1 305.9L611.9 305.8L612.7 305.8L613.5 305.8L614.3 305.8L615.1 305.8L615.9 305.8L616.7 305.8L617.5 305.8L618.3 305.8L619.1 305.7L619.9 305.7L620.7 305.7L621.5 305.7L622.3 305.7L623.2 305.7L624 305.7L624.8 305.7L625.6 305.7L626.4 305.7L627.2 305.7L628 305.7L628.8 305.7L629.6 305.6L630.4 305.6L631.2 305.6L632 305.6L632.8 305.6L633.6 305.6L634.4 305.6L635.2 305.6L636.1 305.6L636.9 305.6L637.7 305.6L638.5 305.6L639.3 305.6L640.1 305.6L640.9 305.6L641.7 305.6L642.5 305.6L643.3 305.6L644.1 305.6L644.9 305.6L645.7 305.6L646.5 305.6L647.3 305.7L648.1 305.7L649 305.7L649.8 305.7L650.6 305.7L651.4 305.8L652.2 305.8L653 305.8L653.8 305.9L654.6 305.9L655.4 305.9L656.2 306L657 306L657.8 306L658.6 306.1L659.4 306.1L660.2 306.1L661 306.2L661.9 306.2L662.7 306.3L663.5 306.3L664.3 306.4L665.1 306.4L665.9 306.5L666.7 306.5L667.5 306.6L668.3 306.6"/>
<g class="mt"><path d="M104 57.1L111.3 70.8L96.7 70.8Z"/><path d="M130.9 57.9L138.2 71.6L123.6 71.6Z"/><path d="M157.7 58.8L165 72.5L150.4 72.5Z"/><path d="M184.6 59.1L191.9 72.8L177.3 72.8Z"/><path d="M211.5 60.8L218.8 74.5L204.2 74.5Z"/><path d="M238.4 63.4L245.7 77.1L231.1 77.1Z"/><path d="M265.2 74L272.5 87.6L257.9 87.6Z"/><path d="M292.1 83.8L299.4 97.5L284.8 97.5Z"/><path d="M319 89L326.3 102.6L311.7 102.6Z"/><path d="M345.8 92.4L353.1 106.1L338.5 106.1Z"/><path d="M372.7 96.6L380 110.3L365.4 110.3Z"/><path d="M399.6 107.6L406.9 121.3L392.3 121.3Z"/><path d="M426.5 132.4L433.8 146.1L419.2 146.1Z"/><path d="M453.3 189.9L460.6 203.6L446 203.6Z"/><path d="M480.2 267.5L487.5 281.2L472.9 281.2Z"/><path d="M507.1 296.1L514.4 309.9L499.8 309.9Z"/><path d="M533.9 298.1L541.2 311.9L526.6 311.9Z"/><path d="M560.8 294.7L568.1 308.4L553.5 308.4Z"/><path d="M587.7 298.9L595 312.6L580.4 312.6Z"/><path d="M614.6 298.1L621.9 311.9L607.3 311.9Z"/><path d="M641.4 297.9L648.7 311.6L634.1 311.6Z"/><path d="M668.3 298.9L675.6 312.6L661 312.6Z"/></g>
<path class="ax" d="M104 33.3V454.5M104 454.5H668.3M96 454.4H104M96 414.4H104M96 374.4H104M96 334.4H104M96 294.4H104M96 254.4H104M96 214.4H104M96 174.4H104M96 134.4H104M96 94.4H104M96 54.4H104M100 434.4H104M100 394.4H104M100 354.4H104M100 314.4H104M100 274.4H104M100 234.4H104M100 194.4H104M100 154.4H104M100 114.4H104M100 74.4H104M100 34.4H104M184.6 454.5V462.5M345.8 454.5V462.5M507.1 454.5V462.5M668.3 454.5V462.5M104 454.5V458.5M265.2 454.5V458.5M426.5 454.5V458.5M587.7 454.5V458.5"/>
<g class="tl"><text x="91" y="459.2" text-anchor="end">0</text><text x="91" y="419.2" text-anchor="end">10</text><text x="91" y="379.2" text-anchor="end">20</text><text x="91" y="339.2" text-anchor="end">30</text><text x="91" y="299.2" text-anchor="end">40</text><text x="91" y="259.2" text-anchor="end">50</text><text x="91" y="219.2" text-anchor="end">60</text><text x="91" y="179.2" text-anchor="end">70</text><text x="91" y="139.2" text-anchor="end">80</text><text x="91" y="99.2" text-anchor="end">90</text><text x="91" y="59.2" text-anchor="end">100</text><text x="184" y="480.3" text-anchor="middle">300</text><text x="345.2" y="480.3" text-anchor="middle">400</text><text x="506.5" y="480.3" text-anchor="middle">500</text><text x="667.7" y="480.3" text-anchor="middle">600</text></g>
<path class="eva" d="M935.2 55.3L936 55.3L936.8 55.3L937.6 55.3L938.4 55.3L939.2 55.3L940 55.3L940.8 55.3L941.6 55.3L942.4 55.4L943.2 55.4L944.1 55.4L944.9 55.4L945.7 55.4L946.5 55.4L947.3 55.4L948.1 55.4L948.9 55.4L949.7 55.4L950.5 55.4L951.3 55.4L952.1 55.4L952.9 55.4L953.7 55.4L954.5 55.4L955.3 55.4L956.1 55.4L956.9 55.4L957.7 55.4L958.5 55.4L959.4 55.4L960.2 55.4L961 55.4L961.8 55.4L962.6 55.4L963.4 55.5L964.2 55.5L965 55.5L965.8 55.5L966.6 55.5L967.4 55.5L968.2 55.5L969 55.5L969.8 55.5L970.6 55.5L971.4 55.5L972.2 55.5L973 55.6L973.8 55.6L974.6 55.6L975.5 55.6L976.3 55.6L977.1 55.6L977.9 55.6L978.7 55.6L979.5 55.6L980.3 55.6L981.1 55.7L981.9 55.7L982.7 55.7L983.5 55.7L984.3 55.7L985.1 55.7L985.9 55.7L986.7 55.7L987.5 55.8L988.3 55.8L989.1 55.8L989.9 55.8L990.7 55.8L991.6 55.8L992.4 55.9L993.2 55.9L994 55.9L994.8 55.9L995.6 55.9L996.4 55.9L997.2 56L998 56L998.8 56L999.6 56L1000.4 56L1001.2 56L1002 56.1L1002.8 56.1L1003.6 56.1L1004.4 56.1L1005.2 56.1L1006 56.2L1006.8 56.2L1007.7 56.2L1008.5 56.2L1009.3 56.3L1010.1 56.3L1010.9 56.3L1011.7 56.3L1012.5 56.4L1013.3 56.4L1014.1 56.4L1014.9 56.4L1015.7 56.5L1016.5 56.5L1017.3 56.6L1018.1 56.7L1018.9 56.8L1019.7 56.9L1020.5 57.1L1021.3 57.3L1022.1 57.5L1022.9 57.8L1023.8 58L1024.6 58.3L1025.4 58.6L1026.2 59L1027 59.3L1027.8 59.6L1028.6 60L1029.4 60.4L1030.2 60.8L1031 61.2L1031.8 61.6L1032.6 62L1033.4 62.4L1034.2 62.9L1035 63.3L1035.8 63.7L1036.6 64.2L1037.4 64.6L1038.2 65L1039 65.5L1039.9 65.9L1040.7 66.4L1041.5 66.8L1042.3 67.2L1043.1 67.6L1043.9 68.1L1044.7 68.5L1045.5 69L1046.3 69.5L1047.1 70L1047.9 70.6L1048.7 71.1L1049.5 71.6L1050.3 72.2L1051.1 72.8L1051.9 73.4L1052.7 74L1053.5 74.6L1054.3 75.2L1055.1 75.8L1056 76.4L1056.8 77.1L1057.6 77.7L1058.4 78.3L1059.2 79L1060 79.6L1060.8 80.3L1061.6 80.9L1062.4 81.5L1063.2 82.2L1064 82.8L1064.8 83.5L1065.6 84.1L1066.4 84.7L1067.2 85.3L1068 85.9L1068.8 86.5L1069.6 87.1L1070.4 87.7L1071.2 88.4L1072 89L1072.9 89.7L1073.7 90.4L1074.5 91.1L1075.3 91.8L1076.1 92.4L1076.9 93.1L1077.7 93.8L1078.5 94.5L1079.3 95.1L1080.1 95.7L1080.9 96.3L1081.7 96.9L1082.5 97.5L1083.3 98L1084.1 98.4L1084.9 98.9L1085.7 99.3L1086.5 99.6L1087.3 99.9L1088.2 100.2L1089 100.5L1089.8 100.8L1090.6 101.1L1091.4 101.4L1092.2 101.6L1093 101.9L1093.8 102.1L1094.6 102.4L1095.4 102.6L1096.2 102.8L1097 102.9L1097.8 103.1L1098.6 103.2L1099.4 103.3L1100.2 103.3L1101 103.3L1101.8 103.3L1102.6 103.3L1103.4 103.1L1104.2 103L1105.1 102.8L1105.9 102.6L1106.7 102.4L1107.5 102.1L1108.3 101.8L1109.1 101.5L1109.9 101.1L1110.7 100.8L1111.5 100.4L1112.3 100L1113.1 99.7L1113.9 99.3L1114.7 98.9L1115.5 98.5L1116.3 98L1117.1 97.5L1117.9 97L1118.7 96.3L1119.5 95.7L1120.4 95L1121.2 94.3L1122 93.6L1122.8 92.9L1123.6 92.2L1124.4 91.4L1125.2 90.6L1126 89.8L1126.8 89L1127.6 88.2L1128.4 87.3L1129.2 86.4L1130 85.5L1130.8 84.6L1131.6 83.7L1132.4 82.7L1133.2 81.8L1134 80.9L1134.8 79.9L1135.6 79L1136.5 78.1L1137.3 77.2L1138.1 76.3L1138.9 75.4L1139.7 74.6L1140.5 73.7L1141.3 72.9L1142.1 72.2L1142.9 71.4L1143.7 70.7L1144.5 70L1145.3 69.4L1146.1 68.8L1146.9 68.1L1147.7 67.5L1148.5 66.8L1149.3 66.1L1150.1 65.5L1150.9 64.9L1151.7 64.3L1152.5 63.7L1153.4 63.2L1154.2 62.8L1155 62.5L1155.8 62.2L1156.6 62L1157.4 62L1158.2 62L1159 62L1159.8 62L1160.6 62L1161.4 62L1162.2 62.1L1163 62.1L1163.8 62.1L1164.6 62.2L1165.4 62.2L1166.2 62.3L1167 62.3L1167.8 62.4L1168.7 62.4L1169.5 62.5L1170.3 62.5L1171.1 62.6L1171.9 62.7L1172.7 62.7L1173.5 62.8L1174.3 62.9L1175.1 62.9L1175.9 63L1176.7 63.1L1177.5 63.2L1178.3 63.3L1179.1 63.4L1179.9 63.5L1180.7 63.6L1181.5 63.7L1182.3 63.9L1183.1 64L1183.9 64.2L1184.8 64.4L1185.6 64.6L1186.4 64.8L1187.2 65L1188 65.2L1188.8 65.4L1189.6 65.7L1190.4 65.9L1191.2 66.2L1192 66.5L1192.8 66.7L1193.6 67L1194.4 67.3L1195.2 67.6L1196 68L1196.8 68.3L1197.6 68.6L1198.4 69L1199.2 69.3L1200 69.7L1200.8 70L1201.7 70.4L1202.5 70.8L1203.3 71.2L1204.1 71.6L1204.9 72.1L1205.7 72.6L1206.5 73.1L1207.3 73.7L1208.1 74.3L1208.9 75L1209.7 75.7L1210.5 76.5L1211.3 77.3L1212.1 78.1L1212.9 79L1213.7 79.9L1214.5 80.8L1215.3 81.8L1216.1 82.8L1217 83.9L1217.8 85L1218.6 86.1L1219.4 87.2L1220.2 88.4L1221 89.6L1221.8 90.9L1222.6 92.2L1223.4 93.5L1224.2 94.8L1225 96.2L1225.8 97.6L1226.6 99L1227.4 100.5L1228.2 102.1L1229 103.8L1229.8 105.7L1230.6 107.7L1231.4 109.9L1232.2 112.1L1233.1 114.5L1233.9 117L1234.7 119.5L1235.5 122.2L1236.3 124.9L1237.1 127.8L1237.9 130.7L1238.7 133.7L1239.5 136.7L1240.3 139.8L1241.1 142.9L1241.9 146.1L1242.7 149.4L1243.5 152.7L1244.3 156.1L1245.1 159.7L1245.9 163.5L1246.7 167.4L1247.5 171.4L1248.3 175.6L1249.2 180L1250 184.5L1250.8 189.1L1251.6 193.9L1252.4 198.8L1253.2 203.9L1254 209.2L1254.8 214.6L1255.6 220.4L1256.4 226.9L1257.2 233.9L1258 241.2L1258.8 248.5L1259.6 255.5L1260.4 262.5L1261.2 269.5L1262 276.6L1262.8 283.8L1263.6 290.8L1264.4 297.9L1265.2 304.8L1266.1 311.5L1266.9 318.1L1267.7 324.4L1268.5 330.7L1269.3 336.9L1270.1 343L1270.9 349L1271.7 354.8L1272.5 360.4L1273.3 365.8L1274.1 370.8L1274.9 375.6L1275.7 380.1L1276.5 384.4L1277.3 388.5L1278.1 392.4L1278.9 396.3L1279.7 400L1280.5 403.7L1281.3 407.4L1282.2 411L1283 414.5L1283.8 417.9L1284.6 421.1L1285.4 424.1L1286.2 427L1287 430.1L1287.8 433.2L1288.6 436.3L1289.4 439L1290.2 441L1291 442.2L1291.8 442.3L1292.6 441.2L1293.4 439.1L1294.2 436.2L1295 432.7L1295.8 428.9L1296.6 425.1L1297.5 420.9L1298.3 415.8L1299.1 410L1299.9 403.7L1300.7 397L1301.5 389.6L1302.3 381.6L1303.1 373.2L1303.9 364.4L1304.7 355.4L1305.5 346.2L1306.3 337L1307.1 327.8L1307.9 318.7L1308.7 309.4L1309.5 299.9L1310.3 290.2L1311.1 280.4L1311.9 270.7L1312.7 261.1L1313.6 251.6L1314.4 242.2L1315.2 232.8L1316 223.3L1316.8 213.7L1317.6 204L1318.4 193.8L1319.2 182.7L1320 170.9L1320.8 158.7L1321.6 146.7L1322.4 135L1323.2 124.1L1324 114.3L1324.8 106L1325.6 99.5L1326.4 94L1327.2 88.8L1328 84.1L1328.8 79.9L1329.7 76.3L1330.5 73.2L1331.3 70.8L1332.1 68.8L1332.9 66.9L1333.7 65.1L1334.5 63.5L1335.3 62.2L1336.1 61.1L1336.9 60.3L1337.7 59.8L1338.5 59.4L1339.3 59.1L1340.1 58.8L1340.9 58.6L1341.7 58.3L1342.5 58.1L1343.3 57.8L1344.1 57.6L1344.9 57.4L1345.8 57.3L1346.6 57.1L1347.4 57L1348.2 56.9L1349 56.7L1349.8 56.7L1350.6 56.6L1351.4 56.5L1352.2 56.5L1353 56.5L1353.8 56.5L1354.6 56.5L1355.4 56.5L1356.2 56.5L1357 56.5L1357.8 56.5L1358.6 56.5L1359.4 56.5L1360.2 56.5L1361 56.5L1361.8 56.5L1362.7 56.5L1363.5 56.5L1364.3 56.5L1365.1 56.5L1365.9 56.5L1366.7 56.5L1367.5 56.5L1368.3 56.5L1369.1 56.5L1369.9 56.5L1370.7 56.5L1371.5 56.5L1372.3 56.5L1373.1 56.5L1373.9 56.5L1374.7 56.5L1375.5 56.5L1376.3 56.5L1377.1 56.5L1378 56.5L1378.8 56.5L1379.6 56.5L1380.4 56.5L1381.2 56.5L1382 56.5L1382.8 56.5L1383.6 56.5L1384.4 56.5L1385.2 56.5L1386 56.5L1386.8 56.5L1387.6 56.5L1388.4 56.5L1389.2 56.5L1390 56.5L1390.8 56.5L1391.6 56.5L1392.4 56.5L1393.2 56.5L1394.1 56.5L1394.9 56.5L1395.7 56.5L1396.5 56.5L1397.3 56.5L1398.1 56.5L1398.9 56.5L1399.7 56.5L1400.5 56.5L1401.3 56.5L1402.1 56.5L1402.9 56.5L1403.7 56.5L1404.5 56.5L1405.3 56.5L1406.1 56.5L1406.9 56.5L1407.7 56.5L1408.5 56.5L1409.3 56.5L1410.2 56.5L1411 56.5L1411.8 56.5L1412.6 56.5L1413.4 56.5L1414.2 56.5L1415 56.5L1415.8 56.5L1416.6 56.5L1417.4 56.5L1418.2 56.5L1419 56.5L1419.8 56.5L1420.6 56.5L1421.4 56.5L1422.2 56.5L1423 56.5L1423.8 56.5L1424.6 56.5L1425.4 56.5L1426.2 56.5L1427.1 56.5L1427.9 56.5L1428.7 56.5L1429.5 56.5L1430.3 56.5L1431.1 56.5L1431.9 56.5L1432.7 56.5L1433.5 56.5L1434.3 56.5L1435.1 56.5L1435.9 56.5L1436.7 56.5L1437.5 56.5L1438.3 56.5L1439.1 56.5L1439.9 56.5L1440.7 56.5L1441.5 56.5L1442.3 56.5L1443.2 56.5L1444 56.5L1444.8 56.5L1445.6 56.5L1446.4 56.5L1447.2 56.5L1448 56.5L1448.8 56.5L1449.6 56.5L1450.4 56.5L1451.2 56.5L1452 56.5L1452.8 56.5L1453.6 56.5L1454.4 56.5L1455.2 56.5L1456 56.5L1456.8 56.5L1457.6 56.5L1458.5 56.5L1459.3 56.5L1460.1 56.5L1460.9 56.5L1461.7 56.5L1462.5 56.5L1463.3 56.5L1464.1 56.5L1464.9 56.5L1465.7 56.5L1466.5 56.5L1467.3 56.5L1468.1 56.5L1468.9 56.5L1469.7 56.5L1470.5 56.5L1471.3 56.5L1472.1 56.5L1472.9 56.5L1473.7 56.5L1474.6 56.5L1475.4 56.5L1476.2 56.5L1477 56.5L1477.8 56.5L1478.6 56.5L1479.4 56.5L1480.2 56.5L1481 56.5L1481.8 56.5L1482.6 56.5L1483.4 56.5L1484.2 56.5L1485 56.5L1485.8 56.5L1486.6 56.5L1487.4 56.5L1488.2 56.5L1489 56.5L1489.8 56.5L1490.7 56.5L1491.5 56.5L1492.3 56.5L1493.1 56.5L1493.9 56.5L1494.7 56.5L1495.5 56.5L1496.3 56.5L1497.1 56.5L1497.9 56.5L1498.7 56.5"/>
<path class="ln" stroke-width="1.25" d="M935.2 56.5L936 56.5L936.8 56.5L937.6 56.5L938.4 56.5L939.2 56.5L940 56.5L940.8 56.5L941.6 56.5L942.4 56.5L943.2 56.5L944.1 56.5L944.9 56.5L945.7 56.5L946.5 56.5L947.3 56.5L948.1 56.5L948.9 56.5L949.7 56.5L950.5 56.5L951.3 56.5L952.1 56.5L952.9 56.5L953.7 56.5L954.5 56.5L955.3 56.5L956.1 56.5L956.9 56.5L957.7 56.5L958.5 56.5L959.4 56.5L960.2 56.5L961 56.5L961.8 56.5L962.6 56.5L963.4 56.5L964.2 56.5L965 56.5L965.8 56.5L966.6 56.5L967.4 56.5L968.2 56.5L969 56.6L969.8 56.6L970.6 56.6L971.4 56.6L972.2 56.7L973 56.7L973.8 56.7L974.6 56.8L975.5 56.8L976.3 56.8L977.1 56.9L977.9 56.9L978.7 57L979.5 57L980.3 57L981.1 57.1L981.9 57.1L982.7 57.2L983.5 57.2L984.3 57.3L985.1 57.3L985.9 57.4L986.7 57.4L987.5 57.5L988.3 57.5L989.1 57.6L989.9 57.6L990.7 57.7L991.6 57.7L992.4 57.8L993.2 57.9L994 58L994.8 58L995.6 58.1L996.4 58.2L997.2 58.3L998 58.4L998.8 58.5L999.6 58.6L1000.4 58.7L1001.2 58.8L1002 58.9L1002.8 59L1003.6 59.1L1004.4 59.2L1005.2 59.3L1006 59.4L1006.8 59.5L1007.7 59.7L1008.5 59.8L1009.3 59.9L1010.1 60L1010.9 60.1L1011.7 60.3L1012.5 60.4L1013.3 60.5L1014.1 60.6L1014.9 60.7L1015.7 60.9L1016.5 61L1017.3 61.1L1018.1 61.3L1018.9 61.4L1019.7 61.5L1020.5 61.7L1021.3 61.8L1022.1 61.9L1022.9 62.1L1023.8 62.2L1024.6 62.4L1025.4 62.5L1026.2 62.7L1027 62.8L1027.8 63L1028.6 63.1L1029.4 63.3L1030.2 63.5L1031 63.6L1031.8 63.8L1032.6 64L1033.4 64.1L1034.2 64.3L1035 64.5L1035.8 64.7L1036.6 64.9L1037.4 65.1L1038.2 65.3L1039 65.5L1039.9 65.7L1040.7 65.9L1041.5 66.1L1042.3 66.3L1043.1 66.6L1043.9 66.8L1044.7 67L1045.5 67.3L1046.3 67.6L1047.1 67.8L1047.9 68.1L1048.7 68.4L1049.5 68.7L1050.3 69L1051.1 69.4L1051.9 69.7L1052.7 70L1053.5 70.4L1054.3 70.7L1055.1 71.1L1056 71.4L1056.8 71.8L1057.6 72.1L1058.4 72.5L1059.2 72.9L1060 73.2L1060.8 73.6L1061.6 74L1062.4 74.3L1063.2 74.7L1064 75.1L1064.8 75.4L1065.6 75.8L1066.4 76.2L1067.2 76.5L1068 76.9L1068.8 77.2L1069.6 77.6L1070.4 77.9L1071.2 78.3L1072 78.7L1072.9 79.2L1073.7 79.6L1074.5 80.1L1075.3 80.5L1076.1 81L1076.9 81.5L1077.7 82L1078.5 82.4L1079.3 82.9L1080.1 83.4L1080.9 83.9L1081.7 84.4L1082.5 84.8L1083.3 85.3L1084.1 85.7L1084.9 86.2L1085.7 86.6L1086.5 87L1087.3 87.4L1088.2 87.7L1089 88.1L1089.8 88.4L1090.6 88.6L1091.4 88.9L1092.2 89.1L1093 89.3L1093.8 89.4L1094.6 89.5L1095.4 89.6L1096.2 89.6L1097 89.6L1097.8 89.6L1098.6 89.5L1099.4 89.5L1100.2 89.4L1101 89.3L1101.8 89.1L1102.6 89L1103.4 88.9L1104.2 88.7L1105.1 88.5L1105.9 88.3L1106.7 88.1L1107.5 87.9L1108.3 87.6L1109.1 87.4L1109.9 87.2L1110.7 86.9L1111.5 86.6L1112.3 86.3L1113.1 86.1L1113.9 85.8L1114.7 85.5L1115.5 85.2L1116.3 84.9L1117.1 84.6L1117.9 84.3L1118.7 84L1119.5 83.7L1120.4 83.3L1121.2 83L1122 82.7L1122.8 82.4L1123.6 82.1L1124.4 81.8L1125.2 81.4L1126 80.9L1126.8 80.5L1127.6 80L1128.4 79.4L1129.2 78.9L1130 78.3L1130.8 77.7L1131.6 77.1L1132.4 76.4L1133.2 75.8L1134 75.1L1134.8 74.5L1135.6 73.9L1136.5 73.2L1137.3 72.6L1138.1 72L1138.9 71.3L1139.7 70.8L1140.5 70.2L1141.3 69.6L1142.1 69.1L1142.9 68.6L1143.7 68.2L1144.5 67.8L1145.3 67.4L1146.1 67L1146.9 66.8L1147.7 66.5L1148.5 66.4L1149.3 66.2L1150.1 66.2L1150.9 66.1L1151.7 66.1L1152.5 66L1153.4 66L1154.2 65.9L1155 65.9L1155.8 65.8L1156.6 65.8L1157.4 65.8L1158.2 65.7L1159 65.7L1159.8 65.7L1160.6 65.6L1161.4 65.6L1162.2 65.6L1163 65.5L1163.8 65.5L1164.6 65.5L1165.4 65.5L1166.2 65.4L1167 65.4L1167.8 65.4L1168.7 65.4L1169.5 65.4L1170.3 65.4L1171.1 65.3L1171.9 65.3L1172.7 65.3L1173.5 65.3L1174.3 65.3L1175.1 65.3L1175.9 65.3L1176.7 65.3L1177.5 65.3L1178.3 65.4L1179.1 65.4L1179.9 65.5L1180.7 65.6L1181.5 65.8L1182.3 66L1183.1 66.2L1183.9 66.4L1184.8 66.6L1185.6 66.9L1186.4 67.1L1187.2 67.4L1188 67.7L1188.8 68.1L1189.6 68.4L1190.4 68.7L1191.2 69.1L1192 69.5L1192.8 69.8L1193.6 70.2L1194.4 70.6L1195.2 71L1196 71.4L1196.8 71.8L1197.6 72.2L1198.4 72.7L1199.2 73.1L1200 73.5L1200.8 73.9L1201.7 74.3L1202.5 74.7L1203.3 75.1L1204.1 75.5L1204.9 75.9L1205.7 76.4L1206.5 76.8L1207.3 77.3L1208.1 77.8L1208.9 78.3L1209.7 78.8L1210.5 79.3L1211.3 79.8L1212.1 80.4L1212.9 80.9L1213.7 81.5L1214.5 82.1L1215.3 82.7L1216.1 83.3L1217 83.9L1217.8 84.5L1218.6 85.2L1219.4 85.8L1220.2 86.4L1221 87.1L1221.8 87.8L1222.6 88.4L1223.4 89.1L1224.2 89.8L1225 90.5L1225.8 91.2L1226.6 91.9L1227.4 92.6L1228.2 93.3L1229 94L1229.8 94.7L1230.6 95.4L1231.4 96.1L1232.2 96.8L1233.1 97.5L1233.9 98.1L1234.7 98.8L1235.5 99.5L1236.3 100.1L1237.1 100.8L1237.9 101.5L1238.7 102.2L1239.5 102.9L1240.3 103.6L1241.1 104.3L1241.9 105L1242.7 105.7L1243.5 106.5L1244.3 107.3L1245.1 108.1L1245.9 108.9L1246.7 109.8L1247.5 110.7L1248.3 111.6L1249.2 112.6L1250 113.6L1250.8 114.6L1251.6 115.7L1252.4 116.8L1253.2 118L1254 119.2L1254.8 120.5L1255.6 121.8L1256.4 123.1L1257.2 124.6L1258 126.3L1258.8 128.4L1259.6 130.9L1260.4 133.8L1261.2 137.1L1262 140.7L1262.8 144.6L1263.6 148.8L1264.4 153.2L1265.2 157.8L1266.1 162.7L1266.9 167.7L1267.7 172.8L1268.5 178.1L1269.3 183.4L1270.1 188.9L1270.9 194.3L1271.7 199.8L1272.5 205.2L1273.3 210.6L1274.1 215.9L1274.9 221.2L1275.7 226.3L1276.5 231.2L1277.3 236L1278.1 240.5L1278.9 244.9L1279.7 249L1280.5 252.8L1281.3 256.2L1282.2 259.4L1283 262.2L1283.8 264.6L1284.6 266.6L1285.4 268.7L1286.2 270.8L1287 272.8L1287.8 274.8L1288.6 276.8L1289.4 278.7L1290.2 280.5L1291 282.2L1291.8 283.8L1292.6 285.3L1293.4 286.6L1294.2 287.8L1295 288.8L1295.8 289.6L1296.6 290.2L1297.5 290.6L1298.3 290.7L1299.1 290.5L1299.9 290.1L1300.7 289.4L1301.5 288.4L1302.3 287.1L1303.1 285.7L1303.9 284.1L1304.7 282.3L1305.5 280.4L1306.3 278.3L1307.1 276.1L1307.9 273.9L1308.7 271.6L1309.5 269.2L1310.3 266.8L1311.1 264.4L1311.9 261.5L1312.7 258.1L1313.6 254L1314.4 249.4L1315.2 244.4L1316 238.9L1316.8 233L1317.6 226.8L1318.4 220.3L1319.2 213.5L1320 206.5L1320.8 199.2L1321.6 191.9L1322.4 184.4L1323.2 176.9L1324 169.4L1324.8 161.9L1325.6 154.4L1326.4 147.1L1327.2 139.9L1328 132.9L1328.8 126.2L1329.7 119.7L1330.5 113.5L1331.3 107.7L1332.1 102.3L1332.9 97.3L1333.7 92.8L1334.5 88.8L1335.3 85.4L1336.1 82.6L1336.9 80.5L1337.7 79L1338.5 77.9L1339.3 76.9L1340.1 75.8L1340.9 74.8L1341.7 73.9L1342.5 72.9L1343.3 72L1344.1 71.1L1344.9 70.3L1345.8 69.5L1346.6 68.7L1347.4 67.9L1348.2 67.2L1349 66.5L1349.8 65.8L1350.6 65.2L1351.4 64.5L1352.2 64L1353 63.4L1353.8 62.9L1354.6 62.4L1355.4 61.9L1356.2 61.5L1357 61.1L1357.8 60.7L1358.6 60.3L1359.4 60L1360.2 59.7L1361 59.5L1361.8 59.2L1362.7 59L1363.5 58.8L1364.3 58.7L1365.1 58.6L1365.9 58.5L1366.7 58.4L1367.5 58.2L1368.3 58.1L1369.1 58L1369.9 57.9L1370.7 57.8L1371.5 57.7L1372.3 57.6L1373.1 57.5L1373.9 57.4L1374.7 57.4L1375.5 57.3L1376.3 57.2L1377.1 57.1L1378 57.1L1378.8 57L1379.6 56.9L1380.4 56.9L1381.2 56.8L1382 56.8L1382.8 56.7L1383.6 56.7L1384.4 56.6L1385.2 56.6L1386 56.6L1386.8 56.5L1387.6 56.5L1388.4 56.5L1389.2 56.5L1390 56.5L1390.8 56.5L1391.6 56.5L1392.4 56.5L1393.2 56.5L1394.1 56.5L1394.9 56.5L1395.7 56.5L1396.5 56.5L1397.3 56.5L1398.1 56.5L1398.9 56.5L1399.7 56.5L1400.5 56.5L1401.3 56.5L1402.1 56.5L1402.9 56.5L1403.7 56.5L1404.5 56.5L1405.3 56.5L1406.1 56.5L1406.9 56.5L1407.7 56.5L1408.5 56.5L1409.3 56.5L1410.2 56.5L1411 56.5L1411.8 56.5L1412.6 56.5L1413.4 56.5L1414.2 56.5L1415 56.5L1415.8 56.5L1416.6 56.5L1417.4 56.5L1418.2 56.5L1419 56.5L1419.8 56.5L1420.6 56.5L1421.4 56.5L1422.2 56.5L1423 56.5L1423.8 56.5L1424.6 56.5L1425.4 56.5L1426.2 56.5L1427.1 56.5L1427.9 56.5L1428.7 56.5L1429.5 56.5L1430.3 56.5L1431.1 56.5L1431.9 56.5L1432.7 56.5L1433.5 56.5L1434.3 56.5L1435.1 56.5L1435.9 56.5L1436.7 56.5L1437.5 56.5L1438.3 56.5L1439.1 56.5L1439.9 56.5L1440.7 56.5L1441.5 56.5L1442.3 56.5L1443.2 56.5L1444 56.5L1444.8 56.5L1445.6 56.5L1446.4 56.5L1447.2 56.5L1448 56.5L1448.8 56.5L1449.6 56.5L1450.4 56.5L1451.2 56.5L1452 56.5L1452.8 56.5L1453.6 56.5L1454.4 56.5L1455.2 56.5L1456 56.5L1456.8 56.5L1457.6 56.5L1458.5 56.5L1459.3 56.5L1460.1 56.5L1460.9 56.5L1461.7 56.5L1462.5 56.5L1463.3 56.5L1464.1 56.5L1464.9 56.5L1465.7 56.5L1466.5 56.5L1467.3 56.5L1468.1 56.5L1468.9 56.5L1469.7 56.5L1470.5 56.5L1471.3 56.5L1472.1 56.5L1472.9 56.5L1473.7 56.5L1474.6 56.5L1475.4 56.5L1476.2 56.5L1477 56.5L1477.8 56.5L1478.6 56.5L1479.4 56.5L1480.2 56.5L1481 56.5L1481.8 56.5L1482.6 56.5L1483.4 56.5L1484.2 56.5L1485 56.5L1485.8 56.5L1486.6 56.5L1487.4 56.5L1488.2 56.5L1489 56.5L1489.8 56.5L1490.7 56.5L1491.5 56.5L1492.3 56.5L1493.1 56.5L1493.9 56.5L1494.7 56.5L1495.5 56.5L1496.3 56.5L1497.1 56.5L1497.9 56.5L1498.7 56.5"/>
<g class="mc"><circle cx="935.2" cy="56.5" r="6.3"/><circle cx="962" cy="56.5" r="6.3"/><circle cx="988.9" cy="57.6" r="6.3"/><circle cx="1015.7" cy="60.9" r="6.3"/><circle cx="1042.5" cy="66.4" r="6.3"/><circle cx="1069.4" cy="77.5" r="6.3"/><circle cx="1096.2" cy="89.6" r="6.3"/><circle cx="1123" cy="82.3" r="6.3"/><circle cx="1149.9" cy="66.2" r="6.3"/><circle cx="1176.7" cy="65.3" r="6.3"/><circle cx="1203.5" cy="75.3" r="6.3"/><circle cx="1230.4" cy="95.2" r="6.3"/><circle cx="1257.2" cy="124.6" r="6.3"/><circle cx="1284" cy="265.3" r="6.3"/><circle cx="1310.9" cy="265.3" r="6.3"/><circle cx="1337.7" cy="79" r="6.3"/><circle cx="1364.5" cy="58.7" r="6.3"/><circle cx="1391.4" cy="56.5" r="6.3"/><circle cx="1418.2" cy="56.5" r="6.3"/><circle cx="1445" cy="56.5" r="6.3"/><circle cx="1471.9" cy="56.5" r="6.3"/><circle cx="1498.7" cy="56.5" r="6.3"/></g>
<path class="ln" stroke-width="1.25" d="M935.2 56.5L936 56.5L936.8 56.5L937.6 56.5L938.4 56.6L939.2 56.6L940 56.6L940.8 56.6L941.6 56.7L942.4 56.7L943.2 56.7L944.1 56.8L944.9 56.8L945.7 56.8L946.5 56.9L947.3 56.9L948.1 56.9L948.9 57L949.7 57L950.5 57L951.3 57.1L952.1 57.1L952.9 57.1L953.7 57.2L954.5 57.2L955.3 57.2L956.1 57.3L956.9 57.3L957.7 57.4L958.5 57.4L959.4 57.4L960.2 57.5L961 57.5L961.8 57.5L962.6 57.6L963.4 57.6L964.2 57.7L965 57.7L965.8 57.7L966.6 57.8L967.4 57.8L968.2 57.9L969 57.9L969.8 57.9L970.6 58L971.4 58L972.2 58L973 58.1L973.8 58.1L974.6 58.2L975.5 58.2L976.3 58.3L977.1 58.3L977.9 58.4L978.7 58.4L979.5 58.4L980.3 58.5L981.1 58.5L981.9 58.6L982.7 58.6L983.5 58.7L984.3 58.8L985.1 58.8L985.9 58.9L986.7 58.9L987.5 59L988.3 59.1L989.1 59.1L989.9 59.2L990.7 59.3L991.6 59.4L992.4 59.4L993.2 59.5L994 59.6L994.8 59.7L995.6 59.8L996.4 59.9L997.2 60.1L998 60.2L998.8 60.3L999.6 60.4L1000.4 60.5L1001.2 60.7L1002 60.8L1002.8 60.9L1003.6 61L1004.4 61.2L1005.2 61.3L1006 61.4L1006.8 61.5L1007.7 61.7L1008.5 61.8L1009.3 61.9L1010.1 62.1L1010.9 62.2L1011.7 62.3L1012.5 62.4L1013.3 62.5L1014.1 62.6L1014.9 62.8L1015.7 62.9L1016.5 63L1017.3 63.1L1018.1 63.2L1018.9 63.3L1019.7 63.4L1020.5 63.4L1021.3 63.5L1022.1 63.6L1022.9 63.7L1023.8 63.8L1024.6 63.9L1025.4 63.9L1026.2 64L1027 64.1L1027.8 64.2L1028.6 64.3L1029.4 64.4L1030.2 64.4L1031 64.5L1031.8 64.6L1032.6 64.7L1033.4 64.8L1034.2 64.9L1035 65L1035.8 65.1L1036.6 65.2L1037.4 65.3L1038.2 65.5L1039 65.6L1039.9 65.7L1040.7 65.8L1041.5 66L1042.3 66.1L1043.1 66.3L1043.9 66.5L1044.7 66.7L1045.5 66.9L1046.3 67.1L1047.1 67.4L1047.9 67.6L1048.7 67.9L1049.5 68.2L1050.3 68.5L1051.1 68.8L1051.9 69.2L1052.7 69.5L1053.5 69.9L1054.3 70.2L1055.1 70.6L1056 71L1056.8 71.4L1057.6 71.7L1058.4 72.1L1059.2 72.5L1060 72.9L1060.8 73.3L1061.6 73.7L1062.4 74.1L1063.2 74.5L1064 74.9L1064.8 75.3L1065.6 75.7L1066.4 76.1L1067.2 76.5L1068 76.9L1068.8 77.2L1069.6 77.6L1070.4 78L1071.2 78.4L1072 78.8L1072.9 79.2L1073.7 79.7L1074.5 80.1L1075.3 80.6L1076.1 81.1L1076.9 81.6L1077.7 82.1L1078.5 82.6L1079.3 83.1L1080.1 83.6L1080.9 84.1L1081.7 84.6L1082.5 85.1L1083.3 85.6L1084.1 86L1084.9 86.5L1085.7 86.9L1086.5 87.3L1087.3 87.7L1088.2 88.1L1089 88.4L1089.8 88.8L1090.6 89.1L1091.4 89.3L1092.2 89.5L1093 89.7L1093.8 89.9L1094.6 90L1095.4 90L1096.2 90.1L1097 90.1L1097.8 90L1098.6 90L1099.4 89.9L1100.2 89.8L1101 89.7L1101.8 89.6L1102.6 89.4L1103.4 89.2L1104.2 89.1L1105.1 88.9L1105.9 88.7L1106.7 88.4L1107.5 88.2L1108.3 87.9L1109.1 87.7L1109.9 87.4L1110.7 87.1L1111.5 86.9L1112.3 86.6L1113.1 86.3L1113.9 86L1114.7 85.6L1115.5 85.3L1116.3 85L1117.1 84.7L1117.9 84.4L1118.7 84L1119.5 83.7L1120.4 83.4L1121.2 83.1L1122 82.8L1122.8 82.4L1123.6 82.1L1124.4 81.8L1125.2 81.4L1126 80.9L1126.8 80.5L1127.6 80L1128.4 79.5L1129.2 79L1130 78.4L1130.8 77.8L1131.6 77.3L1132.4 76.7L1133.2 76.1L1134 75.5L1134.8 74.9L1135.6 74.2L1136.5 73.6L1137.3 73L1138.1 72.4L1138.9 71.8L1139.7 71.3L1140.5 70.7L1141.3 70.2L1142.1 69.6L1142.9 69.2L1143.7 68.7L1144.5 68.2L1145.3 67.8L1146.1 67.4L1146.9 67.1L1147.7 66.8L1148.5 66.5L1149.3 66.3L1150.1 66.1L1150.9 66L1151.7 65.8L1152.5 65.6L1153.4 65.5L1154.2 65.3L1155 65.2L1155.8 65L1156.6 64.9L1157.4 64.7L1158.2 64.6L1159 64.5L1159.8 64.3L1160.6 64.2L1161.4 64.1L1162.2 64L1163 63.9L1163.8 63.8L1164.6 63.7L1165.4 63.6L1166.2 63.5L1167 63.4L1167.8 63.3L1168.7 63.2L1169.5 63.2L1170.3 63.1L1171.1 63.1L1171.9 63L1172.7 63L1173.5 62.9L1174.3 62.9L1175.1 62.9L1175.9 62.9L1176.7 62.9L1177.5 62.9L1178.3 62.9L1179.1 62.9L1179.9 62.9L1180.7 62.9L1181.5 62.9L1182.3 62.9L1183.1 62.9L1183.9 62.9L1184.8 62.9L1185.6 62.9L1186.4 63L1187.2 63L1188 63L1188.8 63L1189.6 63L1190.4 63L1191.2 63.1L1192 63.1L1192.8 63.1L1193.6 63.1L1194.4 63.2L1195.2 63.2L1196 63.2L1196.8 63.2L1197.6 63.3L1198.4 63.3L1199.2 63.3L1200 63.4L1200.8 63.4L1201.7 63.4L1202.5 63.5L1203.3 63.5L1204.1 63.6L1204.9 63.7L1205.7 63.9L1206.5 64.2L1207.3 64.5L1208.1 64.9L1208.9 65.4L1209.7 65.9L1210.5 66.5L1211.3 67.2L1212.1 67.9L1212.9 68.7L1213.7 69.5L1214.5 70.4L1215.3 71.3L1216.1 72.3L1217 73.3L1217.8 74.4L1218.6 75.5L1219.4 76.6L1220.2 77.8L1221 79L1221.8 80.3L1222.6 81.6L1223.4 82.9L1224.2 84.2L1225 85.6L1225.8 87L1226.6 88.4L1227.4 89.8L1228.2 91.2L1229 92.7L1229.8 94.2L1230.6 95.7L1231.4 97.3L1232.2 99.2L1233.1 101.3L1233.9 103.6L1234.7 106L1235.5 108.7L1236.3 111.4L1237.1 114.4L1237.9 117.5L1238.7 120.7L1239.5 124L1240.3 127.5L1241.1 131L1241.9 134.7L1242.7 138.4L1243.5 142.2L1244.3 146.1L1245.1 150L1245.9 154L1246.7 158L1247.5 162L1248.3 166L1249.2 170.1L1250 174.1L1250.8 178.1L1251.6 182.1L1252.4 186L1253.2 189.9L1254 193.8L1254.8 197.6L1255.6 201.3L1256.4 204.9L1257.2 208.4L1258 212L1258.8 215.8L1259.6 219.7L1260.4 223.9L1261.2 228.1L1262 232.5L1262.8 237L1263.6 241.6L1264.4 246.3L1265.2 251L1266.1 255.7L1266.9 260.4L1267.7 265.2L1268.5 269.9L1269.3 274.5L1270.1 279.1L1270.9 283.5L1271.7 287.9L1272.5 292.1L1273.3 296.2L1274.1 300.1L1274.9 303.8L1275.7 307.4L1276.5 310.7L1277.3 313.7L1278.1 316.5L1278.9 318.9L1279.7 321.1L1280.5 323L1281.3 324.5L1282.2 325.6L1283 326.4L1283.8 326.7L1284.6 326.6L1285.4 326.1L1286.2 325.1L1287 323.7L1287.8 321.8L1288.6 319.6L1289.4 317.1L1290.2 314.1L1291 310.9L1291.8 307.4L1292.6 303.6L1293.4 299.6L1294.2 295.3L1295 290.8L1295.8 286.2L1296.6 281.4L1297.5 276.4L1298.3 271.3L1299.1 266.2L1299.9 260.9L1300.7 255.7L1301.5 250.3L1302.3 245L1303.1 239.7L1303.9 234.5L1304.7 229.3L1305.5 224.1L1306.3 219.1L1307.1 214.3L1307.9 209.5L1308.7 205L1309.5 200.6L1310.3 196.4L1311.1 192.5L1311.9 188.5L1312.7 184.3L1313.6 180L1314.4 175.5L1315.2 170.9L1316 166.2L1316.8 161.4L1317.6 156.6L1318.4 151.7L1319.2 146.8L1320 141.9L1320.8 137.1L1321.6 132.2L1322.4 127.4L1323.2 122.6L1324 118L1324.8 113.4L1325.6 108.9L1326.4 104.6L1327.2 100.5L1328 96.5L1328.8 92.7L1329.7 89.1L1330.5 85.7L1331.3 82.6L1332.1 79.8L1332.9 77.2L1333.7 74.9L1334.5 72.9L1335.3 71.3L1336.1 70L1336.9 69.1L1337.7 68.6L1338.5 68.3L1339.3 68L1340.1 67.7L1340.9 67.4L1341.7 67.1L1342.5 66.9L1343.3 66.6L1344.1 66.3L1344.9 66.1L1345.8 65.9L1346.6 65.6L1347.4 65.4L1348.2 65.2L1349 65L1349.8 64.8L1350.6 64.6L1351.4 64.5L1352.2 64.3L1353 64.2L1353.8 64L1354.6 63.9L1355.4 63.8L1356.2 63.6L1357 63.5L1357.8 63.5L1358.6 63.4L1359.4 63.3L1360.2 63.2L1361 63.2L1361.8 63.1L1362.7 63.1L1363.5 63.1L1364.3 63.1L1365.1 63.1L1365.9 63.1L1366.7 63.1L1367.5 63.1L1368.3 63.1L1369.1 63.1L1369.9 63.1L1370.7 63.1L1371.5 63.1L1372.3 63.1L1373.1 63.1L1373.9 63.1L1374.7 63.1L1375.5 63.1L1376.3 63.1L1377.1 63.1L1378 63.1L1378.8 63.1L1379.6 63.1L1380.4 63.1L1381.2 63.1L1382 63.1L1382.8 63.1L1383.6 63.1L1384.4 63.1L1385.2 63.1L1386 63.1L1386.8 63.1L1387.6 63.1L1388.4 63.1L1389.2 63.1L1390 63.1L1390.8 63.1L1391.6 63.1L1392.4 63.1L1393.2 63.1L1394.1 63.1L1394.9 63.1L1395.7 63.1L1396.5 63.1L1397.3 63.1L1398.1 63.1L1398.9 63.1L1399.7 63.1L1400.5 63.1L1401.3 63.1L1402.1 63.1L1402.9 63.1L1403.7 63.1L1404.5 63.1L1405.3 63.1L1406.1 63.1L1406.9 63.1L1407.7 63.1L1408.5 63.1L1409.3 63.1L1410.2 63.1L1411 63.1L1411.8 63.1L1412.6 63.1L1413.4 63.1L1414.2 63.1L1415 63.1L1415.8 63.1L1416.6 63.1L1417.4 63.1L1418.2 63.1L1419 63.1L1419.8 63.1L1420.6 63.1L1421.4 63.1L1422.2 63.1L1423 63.1L1423.8 63.1L1424.6 63.1L1425.4 63.1L1426.2 63.1L1427.1 63.1L1427.9 63.1L1428.7 63.1L1429.5 63.1L1430.3 63.1L1431.1 63.1L1431.9 63.1L1432.7 63.1L1433.5 63.1L1434.3 63.1L1435.1 63.1L1435.9 63.1L1436.7 63.1L1437.5 63.1L1438.3 63.1L1439.1 63.1L1439.9 63.1L1440.7 63.1L1441.5 63.1L1442.3 63.1L1443.2 63.1L1444 63.1L1444.8 63.1L1445.6 63.1L1446.4 63.1L1447.2 63.1L1448 63.1L1448.8 63.1L1449.6 63.1L1450.4 63.1L1451.2 63.1L1452 63.1L1452.8 63.1L1453.6 63.1L1454.4 63.1L1455.2 63.1L1456 63.1L1456.8 63.1L1457.6 63.1L1458.5 63.1L1459.3 63.1L1460.1 63.1L1460.9 63.1L1461.7 63.1L1462.5 63.1L1463.3 63.1L1464.1 63.1L1464.9 63.1L1465.7 63.1L1466.5 63.1L1467.3 63.1L1468.1 63.1L1468.9 63.1L1469.7 63.1L1470.5 63.1L1471.3 63.1L1472.1 63.1L1472.9 63.1L1473.7 63.1L1474.6 63.1L1475.4 63.1L1476.2 63.1L1477 63.1L1477.8 63.1L1478.6 63.1L1479.4 63.1L1480.2 63.1L1481 63.1L1481.8 63.1L1482.6 63.1L1483.4 63.1L1484.2 63.1L1485 63.1L1485.8 63.1L1486.6 63.1L1487.4 63.1L1488.2 63.1L1489 63.1L1489.8 63.1L1490.7 63.1L1491.5 63.1L1492.3 63.1L1493.1 63.1L1493.9 63.1L1494.7 63.1L1495.5 63.1L1496.3 63.1L1497.1 63.1L1497.9 63.1L1498.7 63.1"/>
<g class="ms"><rect x="929.7" y="50.9" width="11.1" height="11.1"/><rect x="956.5" y="52" width="11.1" height="11.1"/><rect x="983.3" y="53.6" width="11.1" height="11.1"/><rect x="1010.2" y="57.3" width="11.1" height="11.1"/><rect x="1037" y="60.6" width="11.1" height="11.1"/><rect x="1063.8" y="71.9" width="11.1" height="11.1"/><rect x="1090.7" y="84.5" width="11.1" height="11.1"/><rect x="1117.5" y="76.8" width="11.1" height="11.1"/><rect x="1144.3" y="60.6" width="11.1" height="11.1"/><rect x="1171.2" y="57.3" width="11.1" height="11.1"/><rect x="1198" y="58" width="11.1" height="11.1"/><rect x="1224.8" y="89.6" width="11.1" height="11.1"/><rect x="1251.7" y="202.9" width="11.1" height="11.1"/><rect x="1278.5" y="321.2" width="11.1" height="11.1"/><rect x="1305.3" y="188.3" width="11.1" height="11.1"/><rect x="1332.2" y="63.1" width="11.1" height="11.1"/><rect x="1359" y="57.5" width="11.1" height="11.1"/><rect x="1385.8" y="57.5" width="11.1" height="11.1"/><rect x="1412.7" y="57.5" width="11.1" height="11.1"/><rect x="1439.5" y="57.5" width="11.1" height="11.1"/><rect x="1466.3" y="57.5" width="11.1" height="11.1"/><rect x="1493.2" y="57.5" width="11.1" height="11.1"/></g>
<path class="ln" stroke-width="1.25" d="M935.2 56.5L936 56.5L936.8 56.5L937.6 56.5L938.4 56.5L939.2 56.5L940 56.5L940.8 56.5L941.6 56.5L942.4 56.5L943.2 56.5L944.1 56.5L944.9 56.5L945.7 56.5L946.5 56.5L947.3 56.5L948.1 56.5L948.9 56.5L949.7 56.5L950.5 56.5L951.3 56.5L952.1 56.5L952.9 56.5L953.7 56.5L954.5 56.5L955.3 56.5L956.1 56.5L956.9 56.5L957.7 56.5L958.5 56.5L959.4 56.5L960.2 56.5L961 56.5L961.8 56.5L962.6 56.5L963.4 56.5L964.2 56.5L965 56.5L965.8 56.5L966.6 56.5L967.4 56.5L968.2 56.5L969 56.5L969.8 56.5L970.6 56.5L971.4 56.5L972.2 56.5L973 56.5L973.8 56.5L974.6 56.5L975.5 56.5L976.3 56.5L977.1 56.5L977.9 56.5L978.7 56.5L979.5 56.5L980.3 56.5L981.1 56.5L981.9 56.5L982.7 56.5L983.5 56.5L984.3 56.5L985.1 56.5L985.9 56.5L986.7 56.5L987.5 56.5L988.3 56.5L989.1 56.5L989.9 56.5L990.7 56.5L991.6 56.5L992.4 56.5L993.2 56.5L994 56.5L994.8 56.5L995.6 56.5L996.4 56.5L997.2 56.5L998 56.5L998.8 56.5L999.6 56.5L1000.4 56.5L1001.2 56.5L1002 56.5L1002.8 56.5L1003.6 56.5L1004.4 56.5L1005.2 56.5L1006 56.5L1006.8 56.5L1007.7 56.5L1008.5 56.5L1009.3 56.5L1010.1 56.5L1010.9 56.5L1011.7 56.5L1012.5 56.5L1013.3 56.5L1014.1 56.5L1014.9 56.5L1015.7 56.5L1016.5 56.5L1017.3 56.5L1018.1 56.5L1018.9 56.5L1019.7 56.5L1020.5 56.5L1021.3 56.5L1022.1 56.5L1022.9 56.5L1023.8 56.5L1024.6 56.5L1025.4 56.5L1026.2 56.6L1027 56.6L1027.8 56.6L1028.6 56.6L1029.4 56.6L1030.2 56.6L1031 56.6L1031.8 56.7L1032.6 56.7L1033.4 56.7L1034.2 56.7L1035 56.7L1035.8 56.7L1036.6 56.8L1037.4 56.8L1038.2 56.8L1039 56.8L1039.9 56.8L1040.7 56.9L1041.5 56.9L1042.3 56.9L1043.1 56.9L1043.9 56.9L1044.7 56.9L1045.5 57L1046.3 57L1047.1 57L1047.9 57L1048.7 57L1049.5 57L1050.3 57.1L1051.1 57.1L1051.9 57.1L1052.7 57.1L1053.5 57.1L1054.3 57.1L1055.1 57.2L1056 57.2L1056.8 57.2L1057.6 57.2L1058.4 57.2L1059.2 57.3L1060 57.3L1060.8 57.3L1061.6 57.3L1062.4 57.4L1063.2 57.4L1064 57.4L1064.8 57.4L1065.6 57.4L1066.4 57.5L1067.2 57.5L1068 57.5L1068.8 57.5L1069.6 57.6L1070.4 57.6L1071.2 57.6L1072 57.7L1072.9 57.7L1073.7 57.7L1074.5 57.8L1075.3 57.8L1076.1 57.8L1076.9 57.9L1077.7 57.9L1078.5 58L1079.3 58L1080.1 58.1L1080.9 58.1L1081.7 58.2L1082.5 58.2L1083.3 58.2L1084.1 58.3L1084.9 58.3L1085.7 58.4L1086.5 58.4L1087.3 58.4L1088.2 58.5L1089 58.5L1089.8 58.5L1090.6 58.6L1091.4 58.6L1092.2 58.6L1093 58.6L1093.8 58.6L1094.6 58.7L1095.4 58.7L1096.2 58.7L1097 58.7L1097.8 58.7L1098.6 58.6L1099.4 58.6L1100.2 58.6L1101 58.6L1101.8 58.6L1102.6 58.6L1103.4 58.5L1104.2 58.5L1105.1 58.5L1105.9 58.5L1106.7 58.4L1107.5 58.4L1108.3 58.4L1109.1 58.3L1109.9 58.3L1110.7 58.2L1111.5 58.2L1112.3 58.2L1113.1 58.1L1113.9 58.1L1114.7 58L1115.5 58L1116.3 57.9L1117.1 57.9L1117.9 57.8L1118.7 57.8L1119.5 57.8L1120.4 57.7L1121.2 57.7L1122 57.6L1122.8 57.6L1123.6 57.5L1124.4 57.5L1125.2 57.4L1126 57.4L1126.8 57.3L1127.6 57.2L1128.4 57.1L1129.2 57.1L1130 57L1130.8 56.9L1131.6 56.8L1132.4 56.7L1133.2 56.6L1134 56.5L1134.8 56.4L1135.6 56.4L1136.5 56.3L1137.3 56.2L1138.1 56.1L1138.9 56L1139.7 55.9L1140.5 55.8L1141.3 55.8L1142.1 55.7L1142.9 55.6L1143.7 55.6L1144.5 55.5L1145.3 55.5L1146.1 55.4L1146.9 55.4L1147.7 55.4L1148.5 55.4L1149.3 55.3L1150.1 55.3L1150.9 55.3L1151.7 55.4L1152.5 55.4L1153.4 55.4L1154.2 55.4L1155 55.4L1155.8 55.5L1156.6 55.5L1157.4 55.5L1158.2 55.6L1159 55.6L1159.8 55.6L1160.6 55.7L1161.4 55.7L1162.2 55.8L1163 55.8L1163.8 55.8L1164.6 55.9L1165.4 55.9L1166.2 56L1167 56L1167.8 56.1L1168.7 56.1L1169.5 56.2L1170.3 56.2L1171.1 56.2L1171.9 56.3L1172.7 56.3L1173.5 56.3L1174.3 56.4L1175.1 56.4L1175.9 56.4L1176.7 56.5L1177.5 56.5L1178.3 56.5L1179.1 56.5L1179.9 56.5L1180.7 56.5L1181.5 56.6L1182.3 56.6L1183.1 56.6L1183.9 56.6L1184.8 56.6L1185.6 56.7L1186.4 56.7L1187.2 56.7L1188 56.7L1188.8 56.7L1189.6 56.7L1190.4 56.8L1191.2 56.8L1192 56.8L1192.8 56.8L1193.6 56.8L1194.4 56.8L1195.2 56.8L1196 56.8L1196.8 56.9L1197.6 56.9L1198.4 56.9L1199.2 56.9L1200 56.9L1200.8 56.9L1201.7 56.9L1202.5 56.9L1203.3 56.9L1204.1 56.9L1204.9 56.9L1205.7 56.9L1206.5 56.9L1207.3 56.8L1208.1 56.8L1208.9 56.8L1209.7 56.7L1210.5 56.7L1211.3 56.7L1212.1 56.6L1212.9 56.6L1213.7 56.5L1214.5 56.5L1215.3 56.4L1216.1 56.4L1217 56.3L1217.8 56.3L1218.6 56.2L1219.4 56.2L1220.2 56.1L1221 56.1L1221.8 56.1L1222.6 56L1223.4 56L1224.2 55.9L1225 55.9L1225.8 55.9L1226.6 55.8L1227.4 55.8L1228.2 55.8L1229 55.8L1229.8 55.8L1230.6 55.8L1231.4 55.9L1232.2 56.1L1233.1 56.4L1233.9 56.8L1234.7 57.3L1235.5 57.8L1236.3 58.4L1237.1 59.1L1237.9 59.7L1238.7 60.4L1239.5 61.2L1240.3 61.9L1241.1 62.6L1241.9 63.4L1242.7 64.1L1243.5 64.7L1244.3 65.3L1245.1 65.9L1245.9 66.4L1246.7 66.8L1247.5 67.1L1248.3 67.4L1249.2 67.5L1250 67.6L1250.8 67.7L1251.6 67.8L1252.4 67.8L1253.2 67.9L1254 67.9L1254.8 68L1255.6 68L1256.4 68.1L1257.2 68.2L1258 68.3L1258.8 68.4L1259.6 68.6L1260.4 68.7L1261.2 68.9L1262 69.1L1262.8 69.4L1263.6 69.6L1264.4 69.9L1265.2 70.2L1266.1 70.5L1266.9 71L1267.7 71.6L1268.5 72.4L1269.3 73.3L1270.1 74.2L1270.9 75.2L1271.7 76L1272.5 76.8L1273.3 77.4L1274.1 77.7L1274.9 78L1275.7 78.2L1276.5 78.3L1277.3 78.4L1278.1 78.5L1278.9 78.7L1279.7 78.8L1280.5 78.9L1281.3 79L1282.2 79.2L1283 79.3L1283.8 79.6L1284.6 80L1285.4 80.8L1286.2 81.8L1287 83L1287.8 84L1288.6 84.9L1289.4 85.4L1290.2 85.4L1291 85.4L1291.8 85.4L1292.6 85.4L1293.4 85.4L1294.2 85.4L1295 85.4L1295.8 85.4L1296.6 85.4L1297.5 85.4L1298.3 85.4L1299.1 85.4L1299.9 85.2L1300.7 84.7L1301.5 83.8L1302.3 82.8L1303.1 81.8L1303.9 80.7L1304.7 79.8L1305.5 79.1L1306.3 78.5L1307.1 78L1307.9 77.4L1308.7 76.9L1309.5 76.5L1310.3 76L1311.1 75.5L1311.9 75.1L1312.7 74.8L1313.6 74.4L1314.4 74.1L1315.2 73.7L1316 73.2L1316.8 72.5L1317.6 71.7L1318.4 70.6L1319.2 69.3L1320 68L1320.8 66.6L1321.6 65.1L1322.4 63.8L1323.2 62.4L1324 60.7L1324.8 58.9L1325.6 57.3L1326.4 55.8L1327.2 54.8L1328 54.5L1328.8 54.8L1329.7 55.6L1330.5 56.8L1331.3 58.1L1332.1 59.2L1332.9 60.1L1333.7 60.4L1334.5 60.4L1335.3 60.2L1336.1 60L1336.9 59.7L1337.7 59.5L1338.5 59.4L1339.3 59.2L1340.1 59.1L1340.9 58.9L1341.7 58.7L1342.5 58.5L1343.3 58.4L1344.1 58.2L1344.9 58L1345.8 57.8L1346.6 57.6L1347.4 57.5L1348.2 57.3L1349 57.1L1349.8 57L1350.6 56.8L1351.4 56.6L1352.2 56.5L1353 56.3L1353.8 56.2L1354.6 56L1355.4 55.9L1356.2 55.8L1357 55.7L1357.8 55.6L1358.6 55.5L1359.4 55.4L1360.2 55.3L1361 55.3L1361.8 55.2L1362.7 55.2L1363.5 55.1L1364.3 55.1L1365.1 55.1L1365.9 55.1L1366.7 55.1L1367.5 55.1L1368.3 55.1L1369.1 55.1L1369.9 55.1L1370.7 55.1L1371.5 55.1L1372.3 55.1L1373.1 55.1L1373.9 55.1L1374.7 55.1L1375.5 55.1L1376.3 55.1L1377.1 55.1L1378 55.1L1378.8 55.1L1379.6 55.1L1380.4 55.1L1381.2 55.1L1382 55.1L1382.8 55.1L1383.6 55.1L1384.4 55.1L1385.2 55.1L1386 55.1L1386.8 55.1L1387.6 55.1L1388.4 55.1L1389.2 55.1L1390 55.1L1390.8 55.1L1391.6 55.1L1392.4 55.1L1393.2 55.1L1394.1 55.1L1394.9 55.1L1395.7 55.1L1396.5 55.1L1397.3 55.1L1398.1 55.1L1398.9 55.1L1399.7 55.1L1400.5 55.1L1401.3 55.1L1402.1 55.1L1402.9 55.1L1403.7 55.1L1404.5 55.1L1405.3 55.1L1406.1 55.1L1406.9 55.1L1407.7 55.1L1408.5 55.1L1409.3 55.1L1410.2 55.1L1411 55.1L1411.8 55.1L1412.6 55.1L1413.4 55.1L1414.2 55.1L1415 55.1L1415.8 55.1L1416.6 55.1L1417.4 55.1L1418.2 55.1L1419 55.1L1419.8 55.1L1420.6 55.1L1421.4 55.1L1422.2 55.1L1423 55.1L1423.8 55.1L1424.6 55.1L1425.4 55.1L1426.2 55.1L1427.1 55.1L1427.9 55.1L1428.7 55.1L1429.5 55.1L1430.3 55.1L1431.1 55.1L1431.9 55.1L1432.7 55.1L1433.5 55.1L1434.3 55.1L1435.1 55.1L1435.9 55.1L1436.7 55.1L1437.5 55.1L1438.3 55.1L1439.1 55.1L1439.9 55.1L1440.7 55.1L1441.5 55.1L1442.3 55.1L1443.2 55.1L1444 55.1L1444.8 55.1L1445.6 55.1L1446.4 55.1L1447.2 55.1L1448 55.1L1448.8 55.1L1449.6 55.1L1450.4 55.1L1451.2 55.1L1452 55.1L1452.8 55.1L1453.6 55.1L1454.4 55.1L1455.2 55.1L1456 55.1L1456.8 55.1L1457.6 55.1L1458.5 55.1L1459.3 55.1L1460.1 55.1L1460.9 55.1L1461.7 55.1L1462.5 55.1L1463.3 55.1L1464.1 55.1L1464.9 55.1L1465.7 55.1L1466.5 55.1L1467.3 55.1L1468.1 55.1L1468.9 55.1L1469.7 55.1L1470.5 55.1L1471.3 55.1L1472.1 55.1L1472.9 55.1L1473.7 55.1L1474.6 55.1L1475.4 55.1L1476.2 55.1L1477 55.1L1477.8 55.1L1478.6 55.1L1479.4 55.1L1480.2 55.1L1481 55.1L1481.8 55.1L1482.6 55.1L1483.4 55.1L1484.2 55.1L1485 55.1L1485.8 55.1L1486.6 55.1L1487.4 55.1L1488.2 55.1L1489 55.1L1489.8 55.1L1490.7 55.1L1491.5 55.1L1492.3 55.1L1493.1 55.1L1493.9 55.1L1494.7 55.1L1495.5 55.1L1496.3 55.1L1497.1 55.1L1497.9 55.1L1498.7 55.1"/>
<g class="mt"><path d="M935.2 48.8L942.5 62.5L927.9 62.5Z"/><path d="M962 48.8L969.3 62.5L954.7 62.5Z"/><path d="M988.9 48.8L996.2 62.5L981.6 62.5Z"/><path d="M1015.7 48.8L1023 62.5L1008.4 62.5Z"/><path d="M1042.5 49.2L1049.8 62.9L1035.2 62.9Z"/><path d="M1069.4 49.9L1076.7 63.6L1062.1 63.6Z"/><path d="M1096.2 51L1103.5 64.7L1088.9 64.7Z"/><path d="M1123 49.9L1130.3 63.6L1115.7 63.6Z"/><path d="M1149.9 47.7L1157.2 61.4L1142.6 61.4Z"/><path d="M1176.7 48.8L1184 62.5L1169.4 62.5Z"/><path d="M1203.5 49.2L1210.8 62.9L1196.2 62.9Z"/><path d="M1230.4 48.1L1237.7 61.8L1223.1 61.8Z"/><path d="M1257.2 60.5L1264.5 74.2L1249.9 74.2Z"/><path d="M1284 72L1291.3 85.7L1276.7 85.7Z"/><path d="M1310.9 68L1318.2 81.7L1303.6 81.7Z"/><path d="M1337.7 51.9L1345 65.6L1330.4 65.6Z"/><path d="M1364.5 47.5L1371.8 61.2L1357.2 61.2Z"/><path d="M1391.4 47.5L1398.7 61.2L1384.1 61.2Z"/><path d="M1418.2 47.5L1425.5 61.2L1410.9 61.2Z"/><path d="M1445 47.5L1452.3 61.2L1437.7 61.2Z"/><path d="M1471.9 47.5L1479.2 61.2L1464.6 61.2Z"/><path d="M1498.7 47.5L1506 61.2L1491.4 61.2Z"/></g>
<path class="ax" d="M935.2 33.4V454.6M935.2 454.6H1498.7M927.2 454.6H935.2M927.2 410.4H935.2M927.2 366.1H935.2M927.2 321.9H935.2M927.2 277.7H935.2M927.2 233.4H935.2M927.2 189.2H935.2M927.2 144.9H935.2M927.2 100.7H935.2M927.2 56.5H935.2M931.2 432.5H935.2M931.2 388.2H935.2M931.2 344H935.2M931.2 299.8H935.2M931.2 255.5H935.2M931.2 211.3H935.2M931.2 167.1H935.2M931.2 122.8H935.2M931.2 78.6H935.2M931.2 34.3H935.2M1015.7 454.6V462.6M1176.7 454.6V462.6M1337.7 454.6V462.6M1498.7 454.6V462.6M935.2 454.6V458.6M1096.2 454.6V458.6M1257.2 454.6V458.6M1418.2 454.6V458.6"/>
<g class="tl"><text x="921" y="459.7" text-anchor="end">-18</text><text x="921" y="415.5" text-anchor="end">-16</text><text x="921" y="371.2" text-anchor="end">-14</text><text x="921" y="327" text-anchor="end">-12</text><text x="921" y="282.8" text-anchor="end">-10</text><text x="921" y="238.5" text-anchor="end">-8</text><text x="921" y="194.3" text-anchor="end">-6</text><text x="921" y="150" text-anchor="end">-4</text><text x="921" y="105.8" text-anchor="end">-2</text><text x="921" y="61.6" text-anchor="end">0</text><text x="1015.1" y="480.4" text-anchor="middle">300</text><text x="1176.1" y="480.4" text-anchor="middle">400</text><text x="1337.1" y="480.4" text-anchor="middle">500</text><text x="1498.1" y="480.4" text-anchor="middle">600</text></g>
<path class="eva" d="M103.8 611L104.5 611L105.2 611L105.9 611L106.6 611L107.3 611L108 611L108.7 611L109.4 611L110.2 611L110.9 611L111.6 611L112.3 611L113 611L113.7 611.1L114.4 611.1L115.1 611.1L115.8 611.1L116.5 611.1L117.2 611.1L117.9 611.1L118.6 611.1L119.3 611.1L120 611.1L120.7 611.1L121.4 611.1L122.1 611.2L122.9 611.2L123.6 611.2L124.3 611.2L125 611.2L125.7 611.2L126.4 611.2L127.1 611.2L127.8 611.3L128.5 611.3L129.2 611.3L129.9 611.3L130.6 611.3L131.3 611.3L132 611.3L132.7 611.4L133.4 611.4L134.1 611.4L134.9 611.4L135.6 611.4L136.3 611.4L137 611.5L137.7 611.5L138.4 611.5L139.1 611.5L139.8 611.5L140.5 611.5L141.2 611.6L141.9 611.6L142.6 611.6L143.3 611.6L144 611.6L144.7 611.7L145.4 611.7L146.1 611.7L146.9 611.7L147.6 611.7L148.3 611.7L149 611.8L149.7 611.8L150.4 611.8L151.1 611.8L151.8 611.8L152.5 611.9L153.2 611.9L153.9 611.9L154.6 611.9L155.3 612L156 612L156.7 612L157.4 612.1L158.1 612.1L158.8 612.1L159.6 612.1L160.3 612.2L161 612.2L161.7 612.3L162.4 612.3L163.1 612.3L163.8 612.4L164.5 612.4L165.2 612.4L165.9 612.5L166.6 612.5L167.3 612.6L168 612.6L168.7 612.7L169.4 612.7L170.1 612.7L170.8 612.8L171.6 612.8L172.3 612.9L173 612.9L173.7 613L174.4 613L175.1 613.1L175.8 613.1L176.5 613.2L177.2 613.2L177.9 613.3L178.6 613.3L179.3 613.4L180 613.4L180.7 613.5L181.4 613.5L182.1 613.6L182.8 613.6L183.5 613.6L184.3 613.7L185 613.7L185.7 613.8L186.4 613.8L187.1 613.9L187.8 613.9L188.5 614L189.2 614L189.9 614.1L190.6 614.1L191.3 614.2L192 614.2L192.7 614.3L193.4 614.3L194.1 614.4L194.8 614.4L195.5 614.5L196.3 614.5L197 614.6L197.7 614.7L198.4 614.7L199.1 614.8L199.8 614.8L200.5 614.9L201.2 615L201.9 615L202.6 615.1L203.3 615.1L204 615.2L204.7 615.3L205.4 615.3L206.1 615.4L206.8 615.5L207.5 615.6L208.3 615.6L209 615.7L209.7 615.8L210.4 615.9L211.1 616L211.8 616L212.5 616.1L213.2 616.2L213.9 616.4L214.6 616.5L215.3 616.6L216 616.7L216.7 616.8L217.4 617L218.1 617.1L218.8 617.2L219.5 617.3L220.2 617.5L221 617.6L221.7 617.8L222.4 617.9L223.1 618L223.8 618.2L224.5 618.3L225.2 618.4L225.9 618.6L226.6 618.7L227.3 618.8L228 618.9L228.7 619.1L229.4 619.2L230.1 619.3L230.8 619.4L231.5 619.5L232.2 619.6L233 619.7L233.7 619.8L234.4 619.9L235.1 619.9L235.8 620L236.5 620.1L237.2 620.1L237.9 620.2L238.6 620.3L239.3 620.3L240 620.4L240.7 620.4L241.4 620.5L242.1 620.5L242.8 620.6L243.5 620.6L244.2 620.7L244.9 620.7L245.7 620.8L246.4 620.8L247.1 620.9L247.8 620.9L248.5 621L249.2 621.1L249.9 621.1L250.6 621.2L251.3 621.3L252 621.4L252.7 621.5L253.4 621.6L254.1 621.7L254.8 621.8L255.5 621.9L256.2 622L256.9 622.2L257.7 622.4L258.4 622.6L259.1 622.8L259.8 623.1L260.5 623.3L261.2 623.6L261.9 623.9L262.6 624.2L263.3 624.6L264 624.9L264.7 625.4L265.4 625.9L266.1 626.5L266.8 627.2L267.5 627.8L268.2 628.5L268.9 629.2L269.7 629.9L270.4 630.5L271.1 631.2L271.8 631.9L272.5 632.6L273.2 633.4L273.9 634.1L274.6 634.8L275.3 635.5L276 636.2L276.7 636.9L277.4 637.6L278.1 638.2L278.8 638.8L279.5 639.4L280.2 640L280.9 640.6L281.6 641.3L282.4 641.9L283.1 642.5L283.8 643.1L284.5 643.7L285.2 644.4L285.9 645L286.6 645.7L287.3 646.4L288 647L288.7 647.7L289.4 648.4L290.1 649.1L290.8 649.8L291.5 650.6L292.2 651.3L292.9 652L293.6 652.8L294.4 653.5L295.1 654.3L295.8 655L296.5 655.8L297.2 656.6L297.9 657.4L298.6 658.2L299.3 659.1L300 659.9L300.7 660.8L301.4 661.7L302.1 662.6L302.8 663.4L303.5 664.3L304.2 665.2L304.9 666.1L305.6 667L306.4 667.9L307.1 668.7L307.8 669.6L308.5 670.4L309.2 671.2L309.9 672L310.6 672.8L311.3 673.6L312 674.4L312.7 675.1L313.4 675.9L314.1 676.6L314.8 677.4L315.5 678.1L316.2 678.8L316.9 679.5L317.6 680.3L318.3 681L319.1 681.7L319.8 682.5L320.5 683.2L321.2 684L321.9 684.7L322.6 685.4L323.3 686.2L324 686.9L324.7 687.6L325.4 688.3L326.1 689L326.8 689.6L327.5 690.3L328.2 690.9L328.9 691.5L329.6 692.1L330.3 692.7L331.1 693.3L331.8 693.8L332.5 694.3L333.2 694.8L333.9 695.2L334.6 695.6L335.3 696L336 696.4L336.7 696.8L337.4 697.1L338.1 697.5L338.8 697.8L339.5 698.1L340.2 698.4L340.9 698.7L341.6 699L342.3 699.3L343 699.6L343.8 699.8L344.5 700.1L345.2 700.4L345.9 700.6L346.6 700.9L347.3 701.1L348 701.3L348.7 701.6L349.4 701.8L350.1 702L350.8 702.3L351.5 702.5L352.2 702.7L352.9 702.9L353.6 703.1L354.3 703.4L355 703.6L355.8 703.8L356.5 704L357.2 704.2L357.9 704.4L358.6 704.7L359.3 704.9L360 705.1L360.7 705.3L361.4 705.5L362.1 705.7L362.8 705.9L363.5 706.1L364.2 706.2L364.9 706.4L365.6 706.6L366.3 706.8L367 707L367.8 707.2L368.5 707.3L369.2 707.5L369.9 707.7L370.6 707.8L371.3 708L372 708.2L372.7 708.3L373.4 708.5L374.1 708.6L374.8 708.8L375.5 708.9L376.2 709.1L376.9 709.2L377.6 709.3L378.3 709.4L379 709.5L379.7 709.6L380.5 709.7L381.2 709.8L381.9 709.9L382.6 710L383.3 710.1L384 710.2L384.7 710.3L385.4 710.5L386.1 710.6L386.8 710.7L387.5 710.8L388.2 710.9L388.9 711.1L389.6 711.2L390.3 711.4L391 711.6L391.7 711.7L392.5 711.9L393.2 712.1L393.9 712.4L394.6 712.6L395.3 712.9L396 713.3L396.7 713.6L397.4 714.1L398.1 714.5L398.8 715L399.5 715.5L400.2 716L400.9 716.6L401.6 717.2L402.3 717.8L403 718.5L403.7 719.1L404.4 719.8L405.2 720.5L405.9 721.2L406.6 722L407.3 722.8L408 723.6L408.7 724.6L409.4 725.5L410.1 726.6L410.8 727.7L411.5 728.9L412.2 730.2L412.9 731.6L413.6 733L414.3 734.6L415 736.3L415.7 738.1L416.4 740.4L417.2 743.1L417.9 746.2L418.6 749.6L419.3 753.1L420 756.8L420.7 760.4L421.4 763.9L422.1 767.2L422.8 770.4L423.5 773.5L424.2 776.7L424.9 780.1L425.6 783.8L426.3 787.9L427 792.6L427.7 798.1L428.4 804.2L429.2 810.6L429.9 817.1L430.6 823.4L431.3 829.3L432 835.2L432.7 841.1L433.4 847L434.1 852.7L434.8 858.1L435.5 863.2L436.2 867.7L436.9 871.9L437.6 875.9L438.3 879.7L439 883.4L439.7 886.9L440.4 890.2L441.1 893.4L441.9 896.5L442.6 899.5L443.3 902.5L444 905.5L444.7 908.4L445.4 911.2L446.1 913.9L446.8 916.5L447.5 919L448.2 921.3L448.9 923.5L449.6 925.5L450.3 927.3L451 929L451.7 930.6L452.4 932.2L453.1 933.7L453.9 935.1L454.6 936.4L455.3 937.7L456 939L456.7 940.2L457.4 941.4L458.1 942.6L458.8 943.7L459.5 944.9L460.2 946L460.9 947.1L461.6 948.3L462.3 949.4L463 950.6L463.7 951.8L464.4 953L465.1 954.2L465.8 955.4L466.6 956.6L467.3 957.8L468 959L468.7 960.1L469.4 961.2L470.1 962.3L470.8 963.4L471.5 964.4L472.2 965.4L472.9 966.3L473.6 967.2L474.3 968L475 968.7L475.7 969.4L476.4 970.1L477.1 970.7L477.8 971.4L478.6 972L479.3 972.6L480 973.2L480.7 973.7L481.4 974.2L482.1 974.7L482.8 975.2L483.5 975.6L484.2 976L484.9 976.3L485.6 976.6L486.3 976.9L487 977.1L487.7 977.3L488.4 977.5L489.1 977.7L489.8 977.9L490.6 978.1L491.3 978.2L492 978.4L492.7 978.6L493.4 978.7L494.1 978.8L494.8 979L495.5 979.1L496.2 979.2L496.9 979.3L497.6 979.5L498.3 979.6L499 979.7L499.7 979.8L500.4 979.9L501.1 980L501.8 980.1L502.5 980.2L503.3 980.3L504 980.4L504.7 980.5L505.4 980.7L506.1 980.8L506.8 980.9L507.5 981L508.2 981.1L508.9 981.2L509.6 981.4L510.3 981.5L511 981.6L511.7 981.8L512.4 981.9L513.1 982L513.8 982.2L514.5 982.3L515.3 982.4L516 982.5L516.7 982.6L517.4 982.8L518.1 982.9L518.8 983L519.5 983.2L520.2 983.3L520.9 983.4L521.6 983.6L522.3 983.7L523 983.9L523.7 984L524.4 984.2L525.1 984.3L525.8 984.5L526.5 984.7L527.2 984.9L528 985.1L528.7 985.3L529.4 985.5L530.1 985.7L530.8 985.9L531.5 986.1L532.2 986.4L532.9 986.6L533.6 986.8L534.3 987.1L535 987.3L535.7 987.6L536.4 987.8L537.1 988.1L537.8 988.4L538.5 988.6L539.2 988.9L540 989.1L540.7 989.4L541.4 989.7L542.1 989.9L542.8 990.2L543.5 990.5L544.2 990.7L544.9 991L545.6 991.2L546.3 991.5L547 991.7L547.7 992L548.4 992.2L549.1 992.5L549.8 992.7L550.5 992.9L551.2 993.2L552 993.4L552.7 993.7L553.4 993.9L554.1 994.2L554.8 994.4L555.5 994.7L556.2 995L556.9 995.2L557.6 995.5L558.3 995.7L559 996L559.7 996.2L560.4 996.5L561.1 996.7L561.8 997L562.5 997.2L563.2 997.5L563.9 997.7L564.7 997.9L565.4 998.2L566.1 998.4L566.8 998.6L567.5 998.9L568.2 999.1L568.9 999.3L569.6 999.5L570.3 999.7L571 999.9L571.7 1000.1L572.4 1000.3L573.1 1000.5L573.8 1000.7L574.5 1000.9L575.2 1001.1L575.9 1001.3L576.7 1001.5L577.4 1001.7L578.1 1001.8L578.8 1002L579.5 1002.2L580.2 1002.4L580.9 1002.6L581.6 1002.7L582.3 1002.9L583 1003.1L583.7 1003.2L584.4 1003.4L585.1 1003.6L585.8 1003.7L586.5 1003.9L587.2 1004.1L587.9 1004.2L588.7 1004.4L589.4 1004.5L590.1 1004.7L590.8 1004.8L591.5 1004.9L592.2 1005.1L592.9 1005.2L593.6 1005.3L594.3 1005.5L595 1005.6L595.7 1005.7L596.4 1005.8L597.1 1005.9L597.8 1006L598.5 1006.2L599.2 1006.3L599.9 1006.4L600.6 1006.5L601.4 1006.6L602.1 1006.8L602.8 1006.9L603.5 1007L604.2 1007.1L604.9 1007.2L605.6 1007.4L606.3 1007.5L607 1007.6L607.7 1007.7L608.4 1007.8L609.1 1007.9L609.8 1008L610.5 1008.1L611.2 1008.1L611.9 1008.2L612.6 1008.3L613.4 1008.4L614.1 1008.4L614.8 1008.5L615.5 1008.5L616.2 1008.6L616.9 1008.6L617.6 1008.7L618.3 1008.7L619 1008.7L619.7 1008.7L620.4 1008.7L621.1 1008.7L621.8 1008.7L622.5 1008.7L623.2 1008.7L623.9 1008.7L624.6 1008.7L625.3 1008.8L626.1 1008.8L626.8 1008.8L627.5 1008.8L628.2 1008.8L628.9 1008.8L629.6 1008.8L630.3 1008.8L631 1008.8L631.7 1008.8L632.4 1008.8L633.1 1008.8L633.8 1008.8L634.5 1008.8L635.2 1008.8L635.9 1008.8L636.6 1008.8L637.3 1008.8L638.1 1008.8L638.8 1008.8L639.5 1008.8L640.2 1008.8L640.9 1008.8L641.6 1008.9L642.3 1008.9L643 1008.9L643.7 1008.9L644.4 1008.9L645.1 1008.9L645.8 1008.9L646.5 1008.9L647.2 1008.9L647.9 1008.9L648.6 1008.9L649.3 1008.9L650.1 1008.9L650.8 1008.9L651.5 1008.9L652.2 1008.9L652.9 1008.9L653.6 1008.9L654.3 1008.9L655 1008.9L655.7 1008.9L656.4 1008.9L657.1 1008.9L657.8 1008.9L658.5 1008.9L659.2 1008.9L659.9 1008.9L660.6 1008.9L661.3 1008.9L662 1008.9L662.8 1008.9L663.5 1008.9L664.2 1008.9L664.9 1008.9L665.6 1008.9L666.3 1008.9L667 1008.9L667.7 1008.9L668.4 1008.9"/>
<path class="ln" stroke-width="1.5" d="M103.8 614.6L104.5 614.6L105.2 614.6L105.9 614.6L106.6 614.6L107.3 614.6L108 614.6L108.7 614.6L109.4 614.6L110.2 614.6L110.9 614.6L111.6 614.6L112.3 614.6L113 614.6L113.7 614.6L114.4 614.6L115.1 614.6L115.8 614.6L116.5 614.6L117.2 614.6L117.9 614.6L118.6 614.6L119.3 614.6L120 614.6L120.7 614.6L121.4 614.6L122.1 614.6L122.9 614.6L123.6 614.6L124.3 614.6L125 614.6L125.7 614.6L126.4 614.6L127.1 614.6L127.8 614.6L128.5 614.6L129.2 614.6L129.9 614.6L130.6 614.6L131.3 614.6L132 614.6L132.7 614.6L133.4 614.6L134.1 614.6L134.9 614.6L135.6 614.6L136.3 614.6L137 614.6L137.7 614.6L138.4 614.6L139.1 614.6L139.8 614.6L140.5 614.6L141.2 614.6L141.9 614.6L142.6 614.6L143.3 614.6L144 614.6L144.7 614.6L145.4 614.6L146.1 614.6L146.9 614.6L147.6 614.6L148.3 614.6L149 614.6L149.7 614.6L150.4 614.6L151.1 614.6L151.8 614.6L152.5 614.6L153.2 614.6L153.9 614.6L154.6 614.6L155.3 614.6L156 614.6L156.7 614.6L157.4 614.6L158.1 614.6L158.8 614.6L159.6 614.6L160.3 614.6L161 614.6L161.7 614.6L162.4 614.6L163.1 614.6L163.8 614.6L164.5 614.6L165.2 614.6L165.9 614.6L166.6 614.6L167.3 614.6L168 614.6L168.7 614.6L169.4 614.6L170.1 614.6L170.8 614.6L171.6 614.6L172.3 614.6L173 614.6L173.7 614.6L174.4 614.6L175.1 614.6L175.8 614.6L176.5 614.6L177.2 614.6L177.9 614.6L178.6 614.6L179.3 614.7L180 614.7L180.7 614.7L181.4 614.7L182.1 614.8L182.8 614.8L183.5 614.8L184.3 614.9L185 614.9L185.7 614.9L186.4 615L187.1 615L187.8 615.1L188.5 615.1L189.2 615.1L189.9 615.2L190.6 615.2L191.3 615.3L192 615.3L192.7 615.3L193.4 615.4L194.1 615.4L194.8 615.4L195.5 615.5L196.3 615.5L197 615.5L197.7 615.6L198.4 615.6L199.1 615.6L199.8 615.7L200.5 615.7L201.2 615.7L201.9 615.8L202.6 615.8L203.3 615.8L204 615.8L204.7 615.9L205.4 615.9L206.1 615.9L206.8 616L207.5 616L208.3 616L209 616L209.7 616.1L210.4 616.1L211.1 616.1L211.8 616.2L212.5 616.2L213.2 616.2L213.9 616.2L214.6 616.3L215.3 616.3L216 616.3L216.7 616.4L217.4 616.4L218.1 616.4L218.8 616.5L219.5 616.5L220.2 616.5L221 616.6L221.7 616.6L222.4 616.6L223.1 616.7L223.8 616.7L224.5 616.7L225.2 616.7L225.9 616.8L226.6 616.8L227.3 616.8L228 616.9L228.7 616.9L229.4 616.9L230.1 617L230.8 617L231.5 617L232.2 617L233 617.1L233.7 617.1L234.4 617.1L235.1 617.2L235.8 617.2L236.5 617.2L237.2 617.3L237.9 617.3L238.6 617.4L239.3 617.4L240 617.4L240.7 617.5L241.4 617.5L242.1 617.6L242.8 617.6L243.5 617.7L244.2 617.7L244.9 617.8L245.7 617.8L246.4 617.9L247.1 618L247.8 618L248.5 618.1L249.2 618.2L249.9 618.3L250.6 618.3L251.3 618.4L252 618.5L252.7 618.6L253.4 618.7L254.1 618.8L254.8 618.9L255.5 619L256.2 619.1L256.9 619.2L257.7 619.3L258.4 619.5L259.1 619.6L259.8 619.7L260.5 619.9L261.2 620L261.9 620.1L262.6 620.3L263.3 620.4L264 620.6L264.7 620.7L265.4 620.9L266.1 621L266.8 621.2L267.5 621.3L268.2 621.5L268.9 621.7L269.7 621.9L270.4 622.1L271.1 622.3L271.8 622.5L272.5 622.7L273.2 623L273.9 623.2L274.6 623.5L275.3 623.8L276 624.1L276.7 624.4L277.4 624.7L278.1 625L278.8 625.3L279.5 625.7L280.2 626L280.9 626.4L281.6 626.7L282.4 627.1L283.1 627.4L283.8 627.8L284.5 628.2L285.2 628.6L285.9 629L286.6 629.4L287.3 629.8L288 630.2L288.7 630.6L289.4 631L290.1 631.4L290.8 631.8L291.5 632.2L292.2 632.7L292.9 633.1L293.6 633.6L294.4 634L295.1 634.6L295.8 635.1L296.5 635.6L297.2 636.2L297.9 636.8L298.6 637.3L299.3 637.9L300 638.5L300.7 639.2L301.4 639.8L302.1 640.4L302.8 641.1L303.5 641.7L304.2 642.3L304.9 643L305.6 643.6L306.4 644.3L307.1 644.9L307.8 645.5L308.5 646.1L309.2 646.8L309.9 647.4L310.6 648L311.3 648.5L312 649.1L312.7 649.6L313.4 650.2L314.1 650.7L314.8 651.2L315.5 651.6L316.2 652.1L316.9 652.6L317.6 653L318.3 653.5L319.1 653.9L319.8 654.4L320.5 654.8L321.2 655.3L321.9 655.7L322.6 656.1L323.3 656.5L324 657L324.7 657.4L325.4 657.8L326.1 658.2L326.8 658.6L327.5 659L328.2 659.4L328.9 659.8L329.6 660.2L330.3 660.5L331.1 660.9L331.8 661.2L332.5 661.6L333.2 661.9L333.9 662.3L334.6 662.6L335.3 662.9L336 663.2L336.7 663.5L337.4 663.8L338.1 664.1L338.8 664.3L339.5 664.6L340.2 664.8L340.9 665.1L341.6 665.3L342.3 665.5L343 665.8L343.8 666L344.5 666.2L345.2 666.4L345.9 666.6L346.6 666.9L347.3 667.1L348 667.3L348.7 667.5L349.4 667.7L350.1 667.9L350.8 668L351.5 668.2L352.2 668.4L352.9 668.6L353.6 668.8L354.3 668.9L355 669.1L355.8 669.3L356.5 669.4L357.2 669.6L357.9 669.8L358.6 669.9L359.3 670.1L360 670.2L360.7 670.4L361.4 670.5L362.1 670.7L362.8 670.8L363.5 671L364.2 671.1L364.9 671.3L365.6 671.4L366.3 671.5L367 671.7L367.8 671.8L368.5 672L369.2 672.1L369.9 672.2L370.6 672.3L371.3 672.5L372 672.6L372.7 672.7L373.4 672.8L374.1 673L374.8 673.1L375.5 673.2L376.2 673.3L376.9 673.4L377.6 673.6L378.3 673.7L379 673.8L379.7 673.9L380.5 674L381.2 674.1L381.9 674.2L382.6 674.3L383.3 674.4L384 674.5L384.7 674.6L385.4 674.7L386.1 674.8L386.8 674.9L387.5 674.9L388.2 675L388.9 675.1L389.6 675.2L390.3 675.2L391 675.3L391.7 675.3L392.5 675.4L393.2 675.5L393.9 675.5L394.6 675.6L395.3 675.6L396 675.7L396.7 675.7L397.4 675.8L398.1 675.8L398.8 675.9L399.5 675.9L400.2 676L400.9 676.1L401.6 676.1L402.3 676.2L403 676.3L403.7 676.3L404.4 676.4L405.2 676.5L405.9 676.6L406.6 676.7L407.3 676.8L408 676.9L408.7 677L409.4 677.1L410.1 677.2L410.8 677.4L411.5 677.6L412.2 677.8L412.9 678L413.6 678.3L414.3 678.5L415 678.8L415.7 679.1L416.4 679.5L417.2 679.8L417.9 680.2L418.6 680.6L419.3 681.1L420 681.5L420.7 682L421.4 682.4L422.1 682.9L422.8 683.4L423.5 684L424.2 684.5L424.9 685.1L425.6 685.7L426.3 686.3L427 686.9L427.7 687.5L428.4 688.1L429.2 688.8L429.9 689.4L430.6 690.1L431.3 690.8L432 691.5L432.7 692.2L433.4 692.9L434.1 693.7L434.8 694.6L435.5 695.5L436.2 696.6L436.9 697.6L437.6 698.8L438.3 700L439 701.3L439.7 702.7L440.4 704.1L441.1 705.5L441.9 707L442.6 708.6L443.3 710.2L444 711.8L444.7 713.5L445.4 715.2L446.1 717L446.8 718.8L447.5 720.6L448.2 722.4L448.9 724.3L449.6 726.2L450.3 728.1L451 730L451.7 732L452.4 733.9L453.1 735.9L453.9 737.9L454.6 739.8L455.3 741.8L456 743.7L456.7 745.7L457.4 747.7L458.1 749.7L458.8 751.8L459.5 753.9L460.2 756.1L460.9 758.4L461.6 760.7L462.3 763L463 765.4L463.7 767.8L464.4 770.2L465.1 772.7L465.8 775.2L466.6 777.7L467.3 780.3L468 782.9L468.7 785.5L469.4 788.2L470.1 790.8L470.8 793.5L471.5 796.2L472.2 798.9L472.9 801.6L473.6 804.3L474.3 807.1L475 809.8L475.7 812.6L476.4 815.3L477.1 818L477.8 820.7L478.6 823.5L479.3 826.2L480 828.9L480.7 831.6L481.4 834.4L482.1 837.2L482.8 840.1L483.5 843.1L484.2 846.1L484.9 849.2L485.6 852.3L486.3 855.5L487 858.6L487.7 861.8L488.4 865L489.1 868.2L489.8 871.4L490.6 874.6L491.3 877.8L492 881L492.7 884.2L493.4 887.3L494.1 890.4L494.8 893.5L495.5 896.5L496.2 899.4L496.9 902.3L497.6 905.1L498.3 907.9L499 910.5L499.7 913.1L500.4 915.6L501.1 918L501.8 920.3L502.5 922.5L503.3 924.5L504 926.5L504.7 928.4L505.4 930.3L506.1 932.1L506.8 934L507.5 935.8L508.2 937.6L508.9 939.4L509.6 941.2L510.3 943L511 944.7L511.7 946.4L512.4 948L513.1 949.7L513.8 951.3L514.5 952.9L515.3 954.4L516 955.9L516.7 957.3L517.4 958.8L518.1 960.1L518.8 961.5L519.5 962.8L520.2 964L520.9 965.2L521.6 966.4L522.3 967.5L523 968.5L523.7 969.5L524.4 970.5L525.1 971.3L525.8 972.2L526.5 972.9L527.2 973.6L528 974.3L528.7 975L529.4 975.7L530.1 976.3L530.8 977L531.5 977.6L532.2 978.3L532.9 978.9L533.6 979.5L534.3 980.1L535 980.7L535.7 981.3L536.4 981.9L537.1 982.4L537.8 983L538.5 983.5L539.2 984L540 984.5L540.7 984.9L541.4 985.4L542.1 985.8L542.8 986.1L543.5 986.5L544.2 986.8L544.9 987.1L545.6 987.4L546.3 987.6L547 987.9L547.7 988L548.4 988.2L549.1 988.3L549.8 988.3L550.5 988.4L551.2 988.4L552 988.4L552.7 988.4L553.4 988.4L554.1 988.4L554.8 988.4L555.5 988.4L556.2 988.4L556.9 988.4L557.6 988.4L558.3 988.4L559 988.4L559.7 988.4L560.4 988.4L561.1 988.4L561.8 988.4L562.5 988.4L563.2 988.4L563.9 988.4L564.7 988.4L565.4 988.4L566.1 988.4L566.8 988.4L567.5 988.4L568.2 988.4L568.9 988.4L569.6 988.4L570.3 988.4L571 988.4L571.7 988.4L572.4 988.4L573.1 988.4L573.8 988.4L574.5 988.4L575.2 988.4L575.9 988.4L576.7 988.4L577.4 988.4L578.1 988.4L578.8 988.4L579.5 988.4L580.2 988.4L580.9 988.4L581.6 988.4L582.3 988.4L583 988.4L583.7 988.4L584.4 988.4L585.1 988.4L585.8 988.4L586.5 988.4L587.2 988.4L587.9 988.4L588.7 988.4L589.4 988.4L590.1 988.4L590.8 988.4L591.5 988.4L592.2 988.4L592.9 988.4L593.6 988.4L594.3 988.4L595 988.4L595.7 988.4L596.4 988.4L597.1 988.4L597.8 988.4L598.5 988.4L599.2 988.4L599.9 988.4L600.6 988.4L601.4 988.4L602.1 988.4L602.8 988.4L603.5 988.4L604.2 988.4L604.9 988.4L605.6 988.4L606.3 988.4L607 988.4L607.7 988.4L608.4 988.4L609.1 988.4L609.8 988.4L610.5 988.4L611.2 988.5L611.9 988.5L612.6 988.5L613.4 988.5L614.1 988.5L614.8 988.5L615.5 988.5L616.2 988.5L616.9 988.5L617.6 988.5L618.3 988.5L619 988.5L619.7 988.5L620.4 988.5L621.1 988.5L621.8 988.5L622.5 988.5L623.2 988.5L623.9 988.5L624.6 988.5L625.3 988.5L626.1 988.5L626.8 988.5L627.5 988.5L628.2 988.5L628.9 988.5L629.6 988.5L630.3 988.5L631 988.5L631.7 988.5L632.4 988.5L633.1 988.5L633.8 988.5L634.5 988.5L635.2 988.5L635.9 988.5L636.6 988.5L637.3 988.5L638.1 988.5L638.8 988.5L639.5 988.5L640.2 988.5L640.9 988.5L641.6 988.5L642.3 988.5L643 988.5L643.7 988.5L644.4 988.5L645.1 988.5L645.8 988.5L646.5 988.5L647.2 988.5L647.9 988.5L648.6 988.5L649.3 988.5L650.1 988.5L650.8 988.5L651.5 988.5L652.2 988.5L652.9 988.5L653.6 988.5L654.3 988.5L655 988.5L655.7 988.5L656.4 988.5L657.1 988.5L657.8 988.5L658.5 988.5L659.2 988.5L659.9 988.5L660.6 988.5L661.3 988.5L662 988.5L662.8 988.5L663.5 988.5L664.2 988.5L664.9 988.5L665.6 988.5L666.3 988.5L667 988.5L667.7 988.5L668.4 988.5"/>
<g class="ms"><rect x="98.4" y="609.8" width="10.8" height="9.6"/><rect x="121.9" y="609.8" width="10.8" height="9.6"/><rect x="145.5" y="609.8" width="10.8" height="9.6"/><rect x="169" y="609.8" width="10.8" height="9.6"/><rect x="192.5" y="610.8" width="10.8" height="9.6"/><rect x="216" y="611.8" width="10.8" height="9.6"/><rect x="239.5" y="613" width="10.8" height="9.6"/><rect x="263.1" y="616.8" width="10.8" height="9.6"/><rect x="286.6" y="627.7" width="10.8" height="9.6"/><rect x="310.1" y="646.9" width="10.8" height="9.6"/><rect x="333.6" y="659.6" width="10.8" height="9.6"/><rect x="357.2" y="666" width="10.8" height="9.6"/><rect x="380.7" y="670" width="10.8" height="9.6"/><rect x="404.2" y="672.4" width="10.8" height="9.6"/><rect x="427.8" y="687.9" width="10.8" height="9.6"/><rect x="451.3" y="740.9" width="10.8" height="9.6"/><rect x="474.8" y="825" width="10.8" height="9.6"/><rect x="498.3" y="921" width="10.8" height="9.6"/><rect x="521.9" y="968.8" width="10.8" height="9.6"/><rect x="545.4" y="983.6" width="10.8" height="9.6"/><rect x="568.9" y="983.6" width="10.8" height="9.6"/><rect x="592.4" y="983.6" width="10.8" height="9.6"/><rect x="616" y="983.7" width="10.8" height="9.6"/><rect x="639.5" y="983.7" width="10.8" height="9.6"/><rect x="663" y="983.7" width="10.8" height="9.6"/></g>
<path class="ln" stroke-width="1.5" d="M103.8 615.8L104.5 615.8L105.2 615.8L105.9 615.8L106.6 615.8L107.3 615.8L108 615.8L108.7 615.8L109.4 615.8L110.2 615.8L110.9 615.8L111.6 615.8L112.3 615.8L113 615.8L113.7 615.8L114.4 615.8L115.1 615.8L115.8 615.8L116.5 615.8L117.2 615.8L117.9 615.8L118.6 615.8L119.3 615.8L120 615.8L120.7 615.8L121.4 615.8L122.1 615.8L122.9 615.8L123.6 615.8L124.3 615.8L125 615.8L125.7 615.8L126.4 615.8L127.1 615.8L127.8 615.8L128.5 615.8L129.2 615.8L129.9 615.8L130.6 615.8L131.3 615.8L132 615.8L132.7 615.8L133.4 615.8L134.1 615.8L134.9 615.8L135.6 615.8L136.3 615.8L137 615.8L137.7 615.8L138.4 615.8L139.1 615.8L139.8 615.8L140.5 615.8L141.2 615.8L141.9 615.8L142.6 615.8L143.3 615.8L144 615.8L144.7 615.8L145.4 615.8L146.1 615.8L146.9 615.8L147.6 615.8L148.3 615.8L149 615.8L149.7 615.8L150.4 615.8L151.1 615.8L151.8 615.8L152.5 615.8L153.2 615.8L153.9 615.8L154.6 615.8L155.3 615.8L156 615.8L156.7 615.8L157.4 615.8L158.1 615.8L158.8 615.8L159.6 615.8L160.3 615.8L161 615.8L161.7 615.8L162.4 615.8L163.1 615.8L163.8 615.8L164.5 615.8L165.2 615.8L165.9 615.8L166.6 615.8L167.3 615.8L168 615.8L168.7 615.8L169.4 615.8L170.1 615.8L170.8 615.8L171.6 615.8L172.3 615.8L173 615.8L173.7 615.8L174.4 615.8L175.1 615.8L175.8 615.8L176.5 615.8L177.2 615.8L177.9 615.8L178.6 615.8L179.3 615.9L180 615.9L180.7 615.9L181.4 615.9L182.1 616L182.8 616L183.5 616L184.3 616.1L185 616.1L185.7 616.1L186.4 616.2L187.1 616.2L187.8 616.2L188.5 616.3L189.2 616.3L189.9 616.4L190.6 616.4L191.3 616.4L192 616.5L192.7 616.5L193.4 616.6L194.1 616.6L194.8 616.6L195.5 616.7L196.3 616.7L197 616.7L197.7 616.8L198.4 616.8L199.1 616.8L199.8 616.9L200.5 616.9L201.2 616.9L201.9 616.9L202.6 617L203.3 617L204 617L204.7 617.1L205.4 617.1L206.1 617.1L206.8 617.2L207.5 617.2L208.3 617.2L209 617.2L209.7 617.3L210.4 617.3L211.1 617.3L211.8 617.4L212.5 617.4L213.2 617.4L213.9 617.4L214.6 617.5L215.3 617.5L216 617.5L216.7 617.6L217.4 617.6L218.1 617.6L218.8 617.7L219.5 617.7L220.2 617.7L221 617.8L221.7 617.8L222.4 617.8L223.1 617.9L223.8 617.9L224.5 617.9L225.2 617.9L225.9 618L226.6 618L227.3 618L228 618.1L228.7 618.1L229.4 618.1L230.1 618.2L230.8 618.2L231.5 618.2L232.2 618.2L233 618.3L233.7 618.3L234.4 618.3L235.1 618.4L235.8 618.4L236.5 618.4L237.2 618.5L237.9 618.5L238.6 618.6L239.3 618.6L240 618.6L240.7 618.7L241.4 618.7L242.1 618.8L242.8 618.8L243.5 618.9L244.2 618.9L244.9 619L245.7 619L246.4 619.1L247.1 619.2L247.8 619.2L248.5 619.3L249.2 619.4L249.9 619.4L250.6 619.5L251.3 619.6L252 619.7L252.7 619.8L253.4 619.9L254.1 620L254.8 620.1L255.5 620.2L256.2 620.3L256.9 620.4L257.7 620.5L258.4 620.7L259.1 620.8L259.8 620.9L260.5 621L261.2 621.2L261.9 621.3L262.6 621.4L263.3 621.6L264 621.7L264.7 621.9L265.4 622L266.1 622.2L266.8 622.4L267.5 622.5L268.2 622.7L268.9 622.9L269.7 623.1L270.4 623.3L271.1 623.5L271.8 623.7L272.5 624L273.2 624.2L273.9 624.5L274.6 624.8L275.3 625.1L276 625.4L276.7 625.7L277.4 626L278.1 626.4L278.8 626.7L279.5 627.1L280.2 627.4L280.9 627.8L281.6 628.2L282.4 628.6L283.1 629L283.8 629.4L284.5 629.8L285.2 630.2L285.9 630.7L286.6 631.1L287.3 631.5L288 632L288.7 632.4L289.4 632.8L290.1 633.3L290.8 633.8L291.5 634.2L292.2 634.7L292.9 635.2L293.6 635.7L294.4 636.2L295.1 636.8L295.8 637.3L296.5 638L297.2 638.6L297.9 639.2L298.6 639.9L299.3 640.6L300 641.3L300.7 642L301.4 642.7L302.1 643.4L302.8 644.1L303.5 644.8L304.2 645.6L304.9 646.3L305.6 647L306.4 647.8L307.1 648.5L307.8 649.2L308.5 649.9L309.2 650.7L309.9 651.4L310.6 652.1L311.3 652.7L312 653.4L312.7 654L313.4 654.7L314.1 655.3L314.8 655.9L315.5 656.4L316.2 657L316.9 657.5L317.6 658.1L318.3 658.7L319.1 659.2L319.8 659.8L320.5 660.3L321.2 660.9L321.9 661.4L322.6 661.9L323.3 662.5L324 663L324.7 663.5L325.4 664.1L326.1 664.6L326.8 665.1L327.5 665.6L328.2 666.1L328.9 666.6L329.6 667.1L330.3 667.5L331.1 668L331.8 668.4L332.5 668.9L333.2 669.3L333.9 669.7L334.6 670.1L335.3 670.5L336 670.9L336.7 671.3L337.4 671.6L338.1 671.9L338.8 672.3L339.5 672.6L340.2 672.9L340.9 673.2L341.6 673.5L342.3 673.8L343 674L343.8 674.3L344.5 674.6L345.2 674.9L345.9 675.1L346.6 675.4L347.3 675.7L348 675.9L348.7 676.2L349.4 676.4L350.1 676.6L350.8 676.9L351.5 677.1L352.2 677.3L352.9 677.5L353.6 677.8L354.3 678L355 678.2L355.8 678.4L356.5 678.5L357.2 678.7L357.9 678.9L358.6 679.1L359.3 679.2L360 679.4L360.7 679.6L361.4 679.7L362.1 679.9L362.8 680L363.5 680.1L364.2 680.2L364.9 680.4L365.6 680.5L366.3 680.6L367 680.7L367.8 680.8L368.5 680.9L369.2 681L369.9 681.1L370.6 681.1L371.3 681.2L372 681.3L372.7 681.4L373.4 681.5L374.1 681.5L374.8 681.6L375.5 681.7L376.2 681.8L376.9 681.9L377.6 681.9L378.3 682L379 682.1L379.7 682.2L380.5 682.3L381.2 682.4L381.9 682.5L382.6 682.6L383.3 682.7L384 682.8L384.7 682.9L385.4 683L386.1 683.1L386.8 683.3L387.5 683.4L388.2 683.5L388.9 683.6L389.6 683.8L390.3 683.9L391 684L391.7 684.2L392.5 684.3L393.2 684.4L393.9 684.6L394.6 684.7L395.3 684.9L396 685L396.7 685.2L397.4 685.4L398.1 685.5L398.8 685.7L399.5 685.9L400.2 686.1L400.9 686.3L401.6 686.5L402.3 686.7L403 686.9L403.7 687.2L404.4 687.4L405.2 687.7L405.9 687.9L406.6 688.2L407.3 688.5L408 688.8L408.7 689.1L409.4 689.4L410.1 689.7L410.8 690.2L411.5 690.7L412.2 691.2L412.9 691.9L413.6 692.5L414.3 693.3L415 694.1L415.7 695L416.4 696L417.2 697L417.9 698L418.6 699.1L419.3 700.2L420 701.4L420.7 702.6L421.4 703.9L422.1 705.2L422.8 706.5L423.5 707.9L424.2 709.3L424.9 710.7L425.6 712.1L426.3 713.6L427 715L427.7 716.5L428.4 718L429.2 719.5L429.9 721.1L430.6 722.6L431.3 724.1L432 725.6L432.7 727.2L433.4 728.7L434.1 730.3L434.8 731.9L435.5 733.7L436.2 735.5L436.9 737.4L437.6 739.3L438.3 741.3L439 743.4L439.7 745.5L440.4 747.6L441.1 749.8L441.9 752.1L442.6 754.3L443.3 756.7L444 759L444.7 761.3L445.4 763.7L446.1 766.1L446.8 768.5L447.5 770.9L448.2 773.3L448.9 775.8L449.6 778.2L450.3 780.6L451 782.9L451.7 785.3L452.4 787.7L453.1 790L453.9 792.3L454.6 794.5L455.3 796.8L456 798.9L456.7 801.1L457.4 803.2L458.1 805.3L458.8 807.4L459.5 809.5L460.2 811.5L460.9 813.6L461.6 815.6L462.3 817.7L463 819.7L463.7 821.8L464.4 823.8L465.1 825.8L465.8 827.9L466.6 829.9L467.3 831.9L468 833.9L468.7 835.9L469.4 837.9L470.1 840L470.8 842L471.5 844L472.2 846L472.9 848L473.6 850.1L474.3 852.1L475 854.1L475.7 856.2L476.4 858.2L477.1 860.3L477.8 862.3L478.6 864.4L479.3 866.5L480 868.5L480.7 870.6L481.4 872.8L482.1 874.9L482.8 877.1L483.5 879.3L484.2 881.6L484.9 883.8L485.6 886.1L486.3 888.4L487 890.7L487.7 893L488.4 895.3L489.1 897.6L489.8 899.9L490.6 902.2L491.3 904.5L492 906.7L492.7 909L493.4 911.3L494.1 913.5L494.8 915.7L495.5 917.9L496.2 920.1L496.9 922.2L497.6 924.3L498.3 926.3L499 928.3L499.7 930.3L500.4 932.2L501.1 934.1L501.8 936L502.5 937.7L503.3 939.5L504 941.1L504.7 942.8L505.4 944.5L506.1 946.1L506.8 947.8L507.5 949.5L508.2 951.3L508.9 953L509.6 954.7L510.3 956.3L511 958L511.7 959.7L512.4 961.3L513.1 962.9L513.8 964.5L514.5 966.1L515.3 967.6L516 969.1L516.7 970.6L517.4 972L518.1 973.3L518.8 974.7L519.5 975.9L520.2 977.1L520.9 978.2L521.6 979.3L522.3 980.3L523 981.3L523.7 982.1L524.4 982.9L525.1 983.6L525.8 984.2L526.5 984.8L527.2 985.2L528 985.6L528.7 986L529.4 986.3L530.1 986.7L530.8 987L531.5 987.3L532.2 987.7L532.9 988L533.6 988.3L534.3 988.6L535 988.9L535.7 989.1L536.4 989.4L537.1 989.7L537.8 989.9L538.5 990.2L539.2 990.4L540 990.6L540.7 990.8L541.4 991L542.1 991.2L542.8 991.4L543.5 991.5L544.2 991.7L544.9 991.9L545.6 992L546.3 992.1L547 992.3L547.7 992.4L548.4 992.5L549.1 992.6L549.8 992.7L550.5 992.7L551.2 992.8L552 992.9L552.7 992.9L553.4 993L554.1 993.1L554.8 993.1L555.5 993.2L556.2 993.2L556.9 993.3L557.6 993.3L558.3 993.4L559 993.4L559.7 993.5L560.4 993.5L561.1 993.6L561.8 993.6L562.5 993.7L563.2 993.7L563.9 993.7L564.7 993.8L565.4 993.8L566.1 993.8L566.8 993.9L567.5 993.9L568.2 993.9L568.9 994L569.6 994L570.3 994L571 994L571.7 994.1L572.4 994.1L573.1 994.1L573.8 994.1L574.5 994.2L575.2 994.2L575.9 994.2L576.7 994.2L577.4 994.3L578.1 994.3L578.8 994.3L579.5 994.3L580.2 994.4L580.9 994.4L581.6 994.4L582.3 994.4L583 994.5L583.7 994.5L584.4 994.5L585.1 994.5L585.8 994.6L586.5 994.6L587.2 994.6L587.9 994.6L588.7 994.6L589.4 994.7L590.1 994.7L590.8 994.7L591.5 994.7L592.2 994.7L592.9 994.7L593.6 994.7L594.3 994.7L595 994.7L595.7 994.8L596.4 994.8L597.1 994.8L597.8 994.8L598.5 994.8L599.2 994.8L599.9 994.8L600.6 994.8L601.4 994.8L602.1 994.8L602.8 994.8L603.5 994.8L604.2 994.8L604.9 994.8L605.6 994.8L606.3 994.8L607 994.8L607.7 994.8L608.4 994.8L609.1 994.8L609.8 994.8L610.5 994.8L611.2 994.8L611.9 994.8L612.6 994.8L613.4 994.8L614.1 994.8L614.8 994.8L615.5 994.8L616.2 994.8L616.9 994.8L617.6 994.8L618.3 994.8L619 994.8L619.7 994.8L620.4 994.8L621.1 994.8L621.8 994.8L622.5 994.8L623.2 994.8L623.9 994.8L624.6 994.8L625.3 994.8L626.1 994.8L626.8 994.8L627.5 994.8L628.2 994.8L628.9 994.8L629.6 994.8L630.3 994.8L631 994.8L631.7 994.8L632.4 994.8L633.1 994.8L633.8 994.8L634.5 994.8L635.2 994.8L635.9 994.8L636.6 994.8L637.3 994.8L638.1 994.8L638.8 994.8L639.5 994.8L640.2 994.8L640.9 994.8L641.6 994.8L642.3 994.8L643 994.8L643.7 994.8L644.4 994.8L645.1 994.8L645.8 994.8L646.5 994.8L647.2 994.8L647.9 994.7L648.6 994.7L649.3 994.7L650.1 994.7L650.8 994.7L651.5 994.7L652.2 994.7L652.9 994.7L653.6 994.7L654.3 994.7L655 994.7L655.7 994.7L656.4 994.6L657.1 994.6L657.8 994.6L658.5 994.6L659.2 994.6L659.9 994.6L660.6 994.6L661.3 994.5L662 994.5L662.8 994.5L663.5 994.5L664.2 994.5L664.9 994.4L665.6 994.4L666.3 994.4L667 994.4L667.7 994.4L668.4 994.4"/>
<g class="mc"><circle cx="103.8" cy="615.8" r="6.3"/><circle cx="127.3" cy="615.8" r="6.3"/><circle cx="150.9" cy="615.8" r="6.3"/><circle cx="174.4" cy="615.8" r="6.3"/><circle cx="197.9" cy="616.8" r="6.3"/><circle cx="221.4" cy="617.8" r="6.3"/><circle cx="244.9" cy="619" r="6.3"/><circle cx="268.5" cy="622.8" r="6.3"/><circle cx="292" cy="634.5" r="6.3"/><circle cx="315.5" cy="656.4" r="6.3"/><circle cx="339" cy="672.4" r="6.3"/><circle cx="362.6" cy="679.9" r="6.3"/><circle cx="386.1" cy="683.1" r="6.3"/><circle cx="409.6" cy="689.5" r="6.3"/><circle cx="433.2" cy="728.2" r="6.3"/><circle cx="456.7" cy="801.1" r="6.3"/><circle cx="480.2" cy="869.2" r="6.3"/><circle cx="503.7" cy="940.6" r="6.3"/><circle cx="527.2" cy="985.2" r="6.3"/><circle cx="550.8" cy="992.8" r="6.3"/><circle cx="574.3" cy="994.2" r="6.3"/><circle cx="597.8" cy="994.8" r="6.3"/><circle cx="621.4" cy="994.8" r="6.3"/><circle cx="644.9" cy="994.8" r="6.3"/><circle cx="668.4" cy="994.4" r="6.3"/></g>
<path class="ln" stroke-width="1.5" d="M103.8 619.8L104.5 619.8L105.2 619.8L105.9 619.8L106.6 619.8L107.3 619.8L108 619.8L108.7 619.9L109.4 619.9L110.2 619.9L110.9 619.9L111.6 619.9L112.3 619.9L113 619.9L113.7 619.9L114.4 619.9L115.1 620L115.8 620L116.5 620L117.2 620L117.9 620L118.6 620L119.3 620L120 620L120.7 620.1L121.4 620.1L122.1 620.1L122.9 620.1L123.6 620.1L124.3 620.1L125 620.1L125.7 620.1L126.4 620.2L127.1 620.2L127.8 620.2L128.5 620.2L129.2 620.2L129.9 620.2L130.6 620.2L131.3 620.2L132 620.2L132.7 620.3L133.4 620.3L134.1 620.3L134.9 620.3L135.6 620.3L136.3 620.3L137 620.3L137.7 620.3L138.4 620.4L139.1 620.4L139.8 620.4L140.5 620.4L141.2 620.4L141.9 620.4L142.6 620.4L143.3 620.4L144 620.5L144.7 620.5L145.4 620.5L146.1 620.5L146.9 620.5L147.6 620.5L148.3 620.5L149 620.5L149.7 620.5L150.4 620.6L151.1 620.6L151.8 620.6L152.5 620.6L153.2 620.6L153.9 620.6L154.6 620.6L155.3 620.6L156 620.6L156.7 620.7L157.4 620.7L158.1 620.7L158.8 620.7L159.6 620.7L160.3 620.7L161 620.7L161.7 620.7L162.4 620.7L163.1 620.7L163.8 620.8L164.5 620.8L165.2 620.8L165.9 620.8L166.6 620.8L167.3 620.8L168 620.8L168.7 620.8L169.4 620.9L170.1 620.9L170.8 620.9L171.6 620.9L172.3 620.9L173 620.9L173.7 620.9L174.4 621L175.1 621L175.8 621L176.5 621L177.2 621.1L177.9 621.1L178.6 621.1L179.3 621.2L180 621.2L180.7 621.3L181.4 621.3L182.1 621.3L182.8 621.4L183.5 621.4L184.3 621.5L185 621.6L185.7 621.6L186.4 621.7L187.1 621.7L187.8 621.8L188.5 621.8L189.2 621.9L189.9 621.9L190.6 622L191.3 622.1L192 622.1L192.7 622.2L193.4 622.2L194.1 622.3L194.8 622.3L195.5 622.4L196.3 622.4L197 622.5L197.7 622.5L198.4 622.6L199.1 622.6L199.8 622.7L200.5 622.7L201.2 622.8L201.9 622.8L202.6 622.9L203.3 622.9L204 623L204.7 623L205.4 623.1L206.1 623.1L206.8 623.1L207.5 623.2L208.3 623.2L209 623.3L209.7 623.3L210.4 623.4L211.1 623.4L211.8 623.5L212.5 623.5L213.2 623.6L213.9 623.6L214.6 623.7L215.3 623.7L216 623.8L216.7 623.8L217.4 623.9L218.1 623.9L218.8 624L219.5 624L220.2 624.1L221 624.1L221.7 624.2L222.4 624.2L223.1 624.3L223.8 624.3L224.5 624.4L225.2 624.4L225.9 624.5L226.6 624.6L227.3 624.6L228 624.7L228.7 624.7L229.4 624.8L230.1 624.8L230.8 624.9L231.5 625L232.2 625L233 625.1L233.7 625.1L234.4 625.2L235.1 625.3L235.8 625.3L236.5 625.4L237.2 625.4L237.9 625.5L238.6 625.6L239.3 625.6L240 625.7L240.7 625.8L241.4 625.8L242.1 625.9L242.8 626L243.5 626L244.2 626.1L244.9 626.1L245.7 626.2L246.4 626.3L247.1 626.3L247.8 626.4L248.5 626.5L249.2 626.5L249.9 626.6L250.6 626.6L251.3 626.7L252 626.8L252.7 626.8L253.4 626.9L254.1 627L254.8 627L255.5 627.1L256.2 627.2L256.9 627.2L257.7 627.3L258.4 627.4L259.1 627.4L259.8 627.5L260.5 627.6L261.2 627.6L261.9 627.7L262.6 627.8L263.3 627.9L264 628L264.7 628L265.4 628.1L266.1 628.2L266.8 628.3L267.5 628.4L268.2 628.5L268.9 628.6L269.7 628.7L270.4 628.8L271.1 628.9L271.8 629.1L272.5 629.2L273.2 629.3L273.9 629.4L274.6 629.6L275.3 629.7L276 629.8L276.7 630L277.4 630.1L278.1 630.3L278.8 630.4L279.5 630.6L280.2 630.8L280.9 630.9L281.6 631.1L282.4 631.3L283.1 631.5L283.8 631.7L284.5 631.9L285.2 632L285.9 632.2L286.6 632.4L287.3 632.6L288 632.9L288.7 633.1L289.4 633.3L290.1 633.5L290.8 633.7L291.5 634L292.2 634.2L292.9 634.4L293.6 634.7L294.4 635L295.1 635.3L295.8 635.6L296.5 635.9L297.2 636.3L297.9 636.6L298.6 637L299.3 637.4L300 637.8L300.7 638.2L301.4 638.6L302.1 639L302.8 639.4L303.5 639.8L304.2 640.2L304.9 640.7L305.6 641.1L306.4 641.5L307.1 642L307.8 642.4L308.5 642.8L309.2 643.2L309.9 643.7L310.6 644.1L311.3 644.5L312 644.9L312.7 645.3L313.4 645.7L314.1 646.1L314.8 646.5L315.5 646.9L316.2 647.2L316.9 647.6L317.6 648L318.3 648.4L319.1 648.7L319.8 649.1L320.5 649.5L321.2 649.9L321.9 650.3L322.6 650.7L323.3 651L324 651.4L324.7 651.8L325.4 652.2L326.1 652.6L326.8 652.9L327.5 653.3L328.2 653.7L328.9 654L329.6 654.4L330.3 654.7L331.1 655.1L331.8 655.4L332.5 655.8L333.2 656.1L333.9 656.4L334.6 656.7L335.3 657L336 657.3L336.7 657.6L337.4 657.8L338.1 658.1L338.8 658.3L339.5 658.6L340.2 658.8L340.9 659L341.6 659.3L342.3 659.5L343 659.7L343.8 659.9L344.5 660.1L345.2 660.3L345.9 660.5L346.6 660.7L347.3 660.9L348 661.1L348.7 661.3L349.4 661.4L350.1 661.6L350.8 661.8L351.5 662L352.2 662.1L352.9 662.3L353.6 662.5L354.3 662.6L355 662.8L355.8 663L356.5 663.1L357.2 663.3L357.9 663.4L358.6 663.6L359.3 663.7L360 663.9L360.7 664L361.4 664.2L362.1 664.3L362.8 664.4L363.5 664.6L364.2 664.7L364.9 664.9L365.6 665L366.3 665.1L367 665.2L367.8 665.4L368.5 665.5L369.2 665.6L369.9 665.7L370.6 665.8L371.3 665.9L372 666L372.7 666.1L373.4 666.3L374.1 666.4L374.8 666.5L375.5 666.6L376.2 666.7L376.9 666.8L377.6 666.9L378.3 667L379 667.1L379.7 667.2L380.5 667.4L381.2 667.5L381.9 667.6L382.6 667.7L383.3 667.8L384 668L384.7 668.1L385.4 668.2L386.1 668.4L386.8 668.5L387.5 668.7L388.2 668.8L388.9 669L389.6 669.1L390.3 669.3L391 669.4L391.7 669.6L392.5 669.7L393.2 669.9L393.9 670L394.6 670.2L395.3 670.4L396 670.5L396.7 670.7L397.4 670.9L398.1 671L398.8 671.2L399.5 671.4L400.2 671.6L400.9 671.7L401.6 671.9L402.3 672.1L403 672.3L403.7 672.5L404.4 672.7L405.2 672.9L405.9 673.1L406.6 673.4L407.3 673.6L408 673.8L408.7 674L409.4 674.3L410.1 674.5L410.8 674.8L411.5 675L412.2 675.3L412.9 675.5L413.6 675.8L414.3 676.1L415 676.4L415.7 676.7L416.4 677L417.2 677.3L417.9 677.6L418.6 677.9L419.3 678.2L420 678.5L420.7 678.9L421.4 679.2L422.1 679.6L422.8 680L423.5 680.4L424.2 680.8L424.9 681.2L425.6 681.6L426.3 682L427 682.4L427.7 682.9L428.4 683.3L429.2 683.8L429.9 684.3L430.6 684.8L431.3 685.3L432 685.8L432.7 686.4L433.4 686.9L434.1 687.5L434.8 688.1L435.5 688.8L436.2 689.6L436.9 690.3L437.6 691.1L438.3 692L439 692.9L439.7 693.8L440.4 694.8L441.1 695.8L441.9 696.8L442.6 697.9L443.3 699L444 700.1L444.7 701.2L445.4 702.4L446.1 703.6L446.8 704.8L447.5 706L448.2 707.2L448.9 708.5L449.6 709.8L450.3 711.1L451 712.4L451.7 713.7L452.4 715L453.1 716.3L453.9 717.6L454.6 719L455.3 720.3L456 721.6L456.7 723L457.4 724.3L458.1 725.7L458.8 727.1L459.5 728.5L460.2 729.9L460.9 731.3L461.6 732.8L462.3 734.3L463 735.8L463.7 737.3L464.4 738.8L465.1 740.4L465.8 742L466.6 743.6L467.3 745.3L468 746.9L468.7 748.6L469.4 750.4L470.1 752.1L470.8 753.9L471.5 755.7L472.2 757.5L472.9 759.4L473.6 761.3L474.3 763.2L475 765.1L475.7 767.1L476.4 769.1L477.1 771.2L477.8 773.2L478.6 775.3L479.3 777.5L480 779.6L480.7 781.9L481.4 784.2L482.1 786.8L482.8 789.4L483.5 792.2L484.2 795.1L484.9 798L485.6 801.1L486.3 804.3L487 807.5L487.7 810.8L488.4 814.2L489.1 817.6L489.8 821L490.6 824.5L491.3 828L492 831.4L492.7 834.9L493.4 838.4L494.1 841.8L494.8 845.2L495.5 848.6L496.2 851.9L496.9 855.2L497.6 858.4L498.3 861.5L499 864.5L499.7 867.4L500.4 870.2L501.1 872.9L501.8 875.5L502.5 877.9L503.3 880.2L504 882.3L504.7 884.3L505.4 886.3L506.1 888.3L506.8 890.3L507.5 892.2L508.2 894L508.9 895.9L509.6 897.7L510.3 899.4L511 901.2L511.7 902.9L512.4 904.5L513.1 906.2L513.8 907.8L514.5 909.4L515.3 911L516 912.5L516.7 914L517.4 915.5L518.1 917L518.8 918.4L519.5 919.9L520.2 921.3L520.9 922.7L521.6 924L522.3 925.4L523 926.8L523.7 928.1L524.4 929.4L525.1 930.7L525.8 932L526.5 933.3L527.2 934.6L528 935.9L528.7 937.2L529.4 938.5L530.1 939.8L530.8 941.2L531.5 942.5L532.2 943.9L532.9 945.2L533.6 946.6L534.3 947.9L535 949.3L535.7 950.6L536.4 951.9L537.1 953.2L537.8 954.4L538.5 955.7L539.2 956.9L540 958.1L540.7 959.2L541.4 960.3L542.1 961.4L542.8 962.4L543.5 963.4L544.2 964.4L544.9 965.2L545.6 966.1L546.3 966.8L547 967.5L547.7 968.1L548.4 968.7L549.1 969.2L549.8 969.6L550.5 970L551.2 970.2L552 970.5L552.7 970.8L553.4 971L554.1 971.3L554.8 971.5L555.5 971.7L556.2 972L556.9 972.2L557.6 972.4L558.3 972.6L559 972.8L559.7 973L560.4 973.2L561.1 973.4L561.8 973.6L562.5 973.7L563.2 973.9L563.9 974L564.7 974.2L565.4 974.3L566.1 974.4L566.8 974.6L567.5 974.7L568.2 974.8L568.9 974.9L569.6 974.9L570.3 975L571 975.1L571.7 975.1L572.4 975.2L573.1 975.2L573.8 975.2L574.5 975.2L575.2 975.2L575.9 975.3L576.7 975.3L577.4 975.3L578.1 975.3L578.8 975.3L579.5 975.3L580.2 975.3L580.9 975.3L581.6 975.3L582.3 975.3L583 975.3L583.7 975.3L584.4 975.3L585.1 975.3L585.8 975.3L586.5 975.3L587.2 975.3L587.9 975.3L588.7 975.4L589.4 975.4L590.1 975.4L590.8 975.4L591.5 975.4L592.2 975.4L592.9 975.4L593.6 975.4L594.3 975.4L595 975.4L595.7 975.4L596.4 975.4L597.1 975.4L597.8 975.4L598.5 975.4L599.2 975.5L599.9 975.5L600.6 975.5L601.4 975.5L602.1 975.5L602.8 975.6L603.5 975.6L604.2 975.6L604.9 975.7L605.6 975.7L606.3 975.7L607 975.7L607.7 975.8L608.4 975.8L609.1 975.8L609.8 975.9L610.5 975.9L611.2 975.9L611.9 976L612.6 976L613.4 976L614.1 976.1L614.8 976.1L615.5 976.1L616.2 976.1L616.9 976.2L617.6 976.2L618.3 976.2L619 976.2L619.7 976.2L620.4 976.2L621.1 976.2L621.8 976.2L622.5 976.2L623.2 976.2L623.9 976.2L624.6 976.2L625.3 976.2L626.1 976.2L626.8 976.2L627.5 976.2L628.2 976.2L628.9 976.2L629.6 976.2L630.3 976.2L631 976.2L631.7 976.2L632.4 976.2L633.1 976.2L633.8 976.2L634.5 976.2L635.2 976.2L635.9 976.2L636.6 976.2L637.3 976.2L638.1 976.2L638.8 976.2L639.5 976.2L640.2 976.2L640.9 976.2L641.6 976.2L642.3 976.2L643 976.2L643.7 976.2L644.4 976.2L645.1 976.2L645.8 976.2L646.5 976.2L647.2 976.2L647.9 976.2L648.6 976.2L649.3 976.2L650.1 976.2L650.8 976.2L651.5 976.2L652.2 976.2L652.9 976.2L653.6 976.2L654.3 976.2L655 976.2L655.7 976.2L656.4 976.2L657.1 976.2L657.8 976.2L658.5 976.2L659.2 976.2L659.9 976.2L660.6 976.2L661.3 976.2L662 976.2L662.8 976.2L663.5 976.2L664.2 976.2L664.9 976.2L665.6 976.2L666.3 976.2L667 976.2L667.7 976.2L668.4 976.2"/>
<g class="mt"><path d="M103.8 611.9L111.4 626.1L96.2 626.1Z"/><path d="M127.3 612.3L134.9 626.5L119.7 626.5Z"/><path d="M150.9 612.7L158.5 626.9L143.3 626.9Z"/><path d="M174.4 613.1L182 627.3L166.8 627.3Z"/><path d="M197.9 614.7L205.5 628.9L190.3 628.9Z"/><path d="M221.4 616.3L229 630.5L213.8 630.5Z"/><path d="M244.9 618.2L252.5 632.4L237.3 632.4Z"/><path d="M268.5 620.6L276.1 634.8L260.9 634.8Z"/><path d="M292 626.2L299.6 640.4L284.4 640.4Z"/><path d="M315.5 639L323.1 653.2L307.9 653.2Z"/><path d="M339 650.5L346.6 664.7L331.4 664.7Z"/><path d="M362.6 656.5L370.2 670.7L355 670.7Z"/><path d="M386.1 660.5L393.7 674.7L378.5 674.7Z"/><path d="M409.6 666.5L417.2 680.7L402 680.7Z"/><path d="M433.2 678.8L440.8 693L425.6 693Z"/><path d="M456.7 715.1L464.3 729.3L449.1 729.3Z"/><path d="M480.2 772.5L487.8 786.7L472.6 786.7Z"/><path d="M503.7 873.7L511.3 887.9L496.1 887.9Z"/><path d="M527.2 926.7L534.9 940.9L519.6 940.9Z"/><path d="M550.8 962.2L558.4 976.4L543.2 976.4Z"/><path d="M574.3 967.3L581.9 981.5L566.7 981.5Z"/><path d="M597.8 967.5L605.4 981.7L590.2 981.7Z"/><path d="M621.4 968.3L629 982.5L613.8 982.5Z"/><path d="M644.9 968.3L652.5 982.5L637.3 982.5Z"/><path d="M668.4 968.3L676 982.5L660.8 982.5Z"/></g>
<path class="ax" d="M103.8 590.2V1010.3M103.8 1010.3H668.4M95.8 1010.3H103.8M95.8 930.6H103.8M95.8 850.9H103.8M95.8 771.2H103.8M95.8 691.5H103.8M95.8 611.8H103.8M99.8 970.4H103.8M99.8 890.8H103.8M99.8 811H103.8M99.8 731.3H103.8M99.8 651.6H103.8M103.8 1010.3V1018.3M244.9 1010.3V1018.3M386.1 1010.3V1018.3M527.2 1010.3V1018.3M668.4 1010.3V1018.3M174.4 1010.3V1014.3M315.5 1010.3V1014.3M456.7 1010.3V1014.3M597.8 1010.3V1014.3"/>
<g class="tl"><text x="91" y="1014.5" text-anchor="end">0</text><text x="91" y="934.8" text-anchor="end">20</text><text x="91" y="855.1" text-anchor="end">40</text><text x="91" y="775.4" text-anchor="end">60</text><text x="91" y="695.7" text-anchor="end">80</text><text x="91" y="616" text-anchor="end">100</text><text x="103.2" y="1036.1" text-anchor="middle">200</text><text x="244.3" y="1036.1" text-anchor="middle">300</text><text x="385.5" y="1036.1" text-anchor="middle">400</text><text x="526.6" y="1036.1" text-anchor="middle">500</text><text x="667.8" y="1036.1" text-anchor="middle">600</text></g>
<path class="eva" d="M935.2 645L935.9 645L936.6 645L937.3 645L938 645L938.7 645L939.4 645L940.1 645L940.8 645L941.5 645L942.2 645L942.9 645L943.7 645L944.4 645L945.1 645L945.8 645L946.5 645L947.2 645L947.9 645L948.6 645L949.3 645L950 645L950.7 645.1L951.4 645.1L952.1 645.1L952.8 645.1L953.5 645.1L954.2 645.1L954.9 645.1L955.6 645.1L956.3 645.1L957 645.1L957.7 645.1L958.4 645.1L959.1 645.1L959.8 645.1L960.6 645.1L961.3 645.2L962 645.2L962.7 645.2L963.4 645.2L964.1 645.2L964.8 645.2L965.5 645.2L966.2 645.2L966.9 645.2L967.6 645.2L968.3 645.3L969 645.3L969.7 645.3L970.4 645.3L971.1 645.3L971.8 645.3L972.5 645.3L973.2 645.3L973.9 645.4L974.6 645.4L975.3 645.4L976 645.4L976.8 645.4L977.5 645.4L978.2 645.4L978.9 645.5L979.6 645.5L980.3 645.5L981 645.5L981.7 645.5L982.4 645.5L983.1 645.6L983.8 645.6L984.5 645.6L985.2 645.6L985.9 645.6L986.6 645.6L987.3 645.7L988 645.7L988.7 645.7L989.4 645.7L990.1 645.7L990.8 645.8L991.5 645.8L992.2 645.8L992.9 645.8L993.7 645.9L994.4 645.9L995.1 645.9L995.8 645.9L996.5 645.9L997.2 646L997.9 646L998.6 646L999.3 646L1000 646.1L1000.7 646.1L1001.4 646.1L1002.1 646.1L1002.8 646.2L1003.5 646.2L1004.2 646.2L1004.9 646.2L1005.6 646.3L1006.3 646.3L1007 646.4L1007.7 646.4L1008.4 646.5L1009.1 646.6L1009.9 646.8L1010.6 646.9L1011.3 647L1012 647.2L1012.7 647.4L1013.4 647.5L1014.1 647.7L1014.8 647.9L1015.5 648.1L1016.2 648.3L1016.9 648.5L1017.6 648.7L1018.3 649L1019 649.2L1019.7 649.4L1020.4 649.6L1021.1 649.8L1021.8 650L1022.5 650.2L1023.2 650.4L1023.9 650.5L1024.6 650.7L1025.3 650.9L1026 651L1026.8 651.2L1027.5 651.3L1028.2 651.4L1028.9 651.5L1029.6 651.6L1030.3 651.7L1031 651.8L1031.7 651.9L1032.4 652L1033.1 652.1L1033.8 652.2L1034.5 652.2L1035.2 652.3L1035.9 652.4L1036.6 652.5L1037.3 652.5L1038 652.6L1038.7 652.7L1039.4 652.8L1040.1 652.8L1040.8 652.9L1041.5 653L1042.2 653L1043 653.1L1043.7 653.2L1044.4 653.3L1045.1 653.3L1045.8 653.4L1046.5 653.5L1047.2 653.6L1047.9 653.7L1048.6 653.8L1049.3 653.9L1050 654L1050.7 654.1L1051.4 654.2L1052.1 654.3L1052.8 654.4L1053.5 654.5L1054.2 654.6L1054.9 654.7L1055.6 654.8L1056.3 654.9L1057 655.1L1057.7 655.2L1058.4 655.3L1059.1 655.4L1059.9 655.6L1060.6 655.7L1061.3 655.8L1062 656L1062.7 656.1L1063.4 656.2L1064.1 656.4L1064.8 656.5L1065.5 656.7L1066.2 656.8L1066.9 657L1067.6 657.2L1068.3 657.3L1069 657.5L1069.7 657.7L1070.4 657.9L1071.1 658.1L1071.8 658.3L1072.5 658.5L1073.2 658.7L1073.9 658.9L1074.6 659.2L1075.3 659.4L1076 659.7L1076.8 660L1077.5 660.3L1078.2 660.6L1078.9 661L1079.6 661.4L1080.3 661.8L1081 662.2L1081.7 662.6L1082.4 663.1L1083.1 663.6L1083.8 664L1084.5 664.5L1085.2 665L1085.9 665.5L1086.6 666L1087.3 666.6L1088 667.1L1088.7 667.6L1089.4 668.1L1090.1 668.6L1090.8 669.1L1091.5 669.7L1092.2 670.2L1093 670.7L1093.7 671.3L1094.4 671.9L1095.1 672.4L1095.8 673L1096.5 673.6L1097.2 674.2L1097.9 674.8L1098.6 675.5L1099.3 676.1L1100 676.7L1100.7 677.4L1101.4 678.1L1102.1 678.7L1102.8 679.4L1103.5 680.1L1104.2 680.7L1104.9 681.4L1105.6 682.1L1106.3 682.8L1107 683.6L1107.7 684.3L1108.4 685.2L1109.1 686L1109.9 686.9L1110.6 687.9L1111.3 688.8L1112 689.8L1112.7 690.7L1113.4 691.7L1114.1 692.7L1114.8 693.7L1115.5 694.6L1116.2 695.6L1116.9 696.5L1117.6 697.3L1118.3 698.2L1119 699L1119.7 699.8L1120.4 700.5L1121.1 701.1L1121.8 701.7L1122.5 702.2L1123.2 702.7L1123.9 703L1124.6 703.4L1125.3 703.7L1126.1 704L1126.8 704.3L1127.5 704.6L1128.2 704.8L1128.9 704.9L1129.6 705L1130.3 705.1L1131 705.1L1131.7 705L1132.4 704.8L1133.1 704.7L1133.8 704.4L1134.5 704.2L1135.2 704L1135.9 703.8L1136.6 703.6L1137.3 703.3L1138 703.1L1138.7 702.9L1139.4 702.6L1140.1 702.4L1140.8 702.1L1141.5 701.8L1142.2 701.5L1143 701.3L1143.7 701L1144.4 700.7L1145.1 700.4L1145.8 700.1L1146.5 699.8L1147.2 699.5L1147.9 699.1L1148.6 698.8L1149.3 698.5L1150 698.2L1150.7 697.8L1151.4 697.5L1152.1 697.1L1152.8 696.8L1153.5 696.4L1154.2 696L1154.9 695.6L1155.6 695.2L1156.3 694.7L1157 694.2L1157.7 693.8L1158.4 693.3L1159.2 692.8L1159.9 692.3L1160.6 691.7L1161.3 691.2L1162 690.6L1162.7 690L1163.4 689.5L1164.1 688.9L1164.8 688.3L1165.5 687.6L1166.2 687L1166.9 686.4L1167.6 685.7L1168.3 685.1L1169 684.4L1169.7 683.7L1170.4 683L1171.1 682.3L1171.8 681.6L1172.5 680.9L1173.2 680.2L1173.9 679.5L1174.6 678.8L1175.3 678L1176.1 677.1L1176.8 676.2L1177.5 675.3L1178.2 674.2L1178.9 673.2L1179.6 672.1L1180.3 671L1181 669.9L1181.7 668.8L1182.4 667.7L1183.1 666.7L1183.8 665.7L1184.5 664.8L1185.2 663.9L1185.9 663.1L1186.6 662.4L1187.3 661.8L1188 661.3L1188.7 660.9L1189.4 660.5L1190.1 660.2L1190.8 659.9L1191.5 659.5L1192.3 659.2L1193 658.9L1193.7 658.6L1194.4 658.3L1195.1 658.1L1195.8 657.8L1196.5 657.6L1197.2 657.3L1197.9 657.1L1198.6 656.9L1199.3 656.8L1200 656.6L1200.7 656.5L1201.4 656.4L1202.1 656.3L1202.8 656.2L1203.5 656.2L1204.2 656.2L1204.9 656.2L1205.6 656.2L1206.3 656.2L1207 656.3L1207.7 656.3L1208.4 656.3L1209.2 656.4L1209.9 656.4L1210.6 656.5L1211.3 656.6L1212 656.7L1212.7 656.7L1213.4 656.8L1214.1 656.9L1214.8 657.1L1215.5 657.2L1216.2 657.3L1216.9 657.5L1217.6 657.6L1218.3 657.8L1219 657.9L1219.7 658.1L1220.4 658.3L1221.1 658.5L1221.8 658.7L1222.5 658.9L1223.2 659.2L1223.9 659.5L1224.6 660.2L1225.4 661.3L1226.1 662.8L1226.8 664.5L1227.5 666.5L1228.2 668.7L1228.9 671.1L1229.6 673.5L1230.3 676.1L1231 678.6L1231.7 681.2L1232.4 684L1233.1 687.2L1233.8 690.6L1234.5 694.3L1235.2 698.3L1235.9 702.6L1236.6 707.1L1237.3 712L1238 717.2L1238.7 723L1239.4 729.6L1240.1 736.7L1240.8 744.6L1241.5 753L1242.3 762.1L1243 772.9L1243.7 785.6L1244.4 799.2L1245.1 812.5L1245.8 824.6L1246.5 836.2L1247.2 847.6L1247.9 858.7L1248.6 869.7L1249.3 880.3L1250 890.7L1250.7 900.9L1251.4 911.1L1252.1 921.2L1252.8 931.1L1253.5 940.7L1254.2 949.8L1254.9 958.5L1255.6 966.6L1256.3 974.5L1257 983L1257.7 991.5L1258.5 999.2L1259.2 1005.3L1259.9 1009.3L1260.6 1010.3L1261.3 1008.8L1262 1005.5L1262.7 1000.7L1263.4 994.7L1264.1 988L1264.8 980.9L1265.5 973.7L1266.2 966.7L1266.9 958.9L1267.6 950L1268.3 940.2L1269 930L1269.7 919.6L1270.4 909.4L1271.1 899.8L1271.8 891L1272.5 882.9L1273.2 875.2L1273.9 867.8L1274.6 860.5L1275.4 853.4L1276.1 846.1L1276.8 838.8L1277.5 831.2L1278.2 823.2L1278.9 814.6L1279.6 804.5L1280.3 793.8L1281 783.2L1281.7 773.6L1282.4 765.7L1283.1 760.2L1283.8 756L1284.5 752.1L1285.2 748.5L1285.9 745.3L1286.6 742.4L1287.3 739.7L1288 737.3L1288.7 735.1L1289.4 733.2L1290.1 731.4L1290.8 729.8L1291.6 728.3L1292.3 727.1L1293 725.9L1293.7 724.8L1294.4 723.9L1295.1 723L1295.8 722.2L1296.5 721.4L1297.2 720.6L1297.9 719.8L1298.6 718.9L1299.3 718L1300 717L1300.7 716L1301.4 714.8L1302.1 713.4L1302.8 712L1303.5 710.3L1304.2 708.5L1304.9 706.7L1305.6 704.7L1306.3 702.6L1307 700.5L1307.7 698.3L1308.5 696.1L1309.2 693.9L1309.9 691.7L1310.6 689.6L1311.3 687.5L1312 685.4L1312.7 683.4L1313.4 681.5L1314.1 679.6L1314.8 677.6L1315.5 675.6L1316.2 673.7L1316.9 671.8L1317.6 670.1L1318.3 668.5L1319 667.1L1319.7 665.9L1320.4 664.7L1321.1 663.5L1321.8 662.3L1322.5 661.2L1323.2 660.3L1323.9 659.6L1324.7 659.2L1325.4 659L1326.1 659L1326.8 659L1327.5 659L1328.2 659L1328.9 659L1329.6 659L1330.3 659L1331 659L1331.7 659L1332.4 659L1333.1 659L1333.8 659L1334.5 659L1335.2 659.1L1335.9 659.1L1336.6 659.1L1337.3 659.1L1338 659.1L1338.7 659.1L1339.4 659.1L1340.1 659.1L1340.8 659.1L1341.6 659.1L1342.3 659.1L1343 659.2L1343.7 659.2L1344.4 659.2L1345.1 659.2L1345.8 659.2L1346.5 659.2L1347.2 659.2L1347.9 659.2L1348.6 659.3L1349.3 659.3L1350 659.3L1350.7 659.3L1351.4 659.3L1352.1 659.3L1352.8 659.3L1353.5 659.3L1354.2 659.4L1354.9 659.4L1355.6 659.4L1356.3 659.4L1357 659.4L1357.8 659.4L1358.5 659.4L1359.2 659.5L1359.9 659.5L1360.6 659.5L1361.3 659.5L1362 659.5L1362.7 659.5L1363.4 659.6L1364.1 659.6L1364.8 659.6L1365.5 659.6L1366.2 659.6L1366.9 659.6L1367.6 659.6L1368.3 659.7L1369 659.7L1369.7 659.7L1370.4 659.7L1371.1 659.7L1371.8 659.7L1372.5 659.7L1373.2 659.8L1373.9 659.8L1374.7 659.8L1375.4 659.8L1376.1 659.8L1376.8 659.8L1377.5 659.8L1378.2 659.8L1378.9 659.8L1379.6 659.9L1380.3 659.9L1381 659.9L1381.7 659.9L1382.4 659.9L1383.1 659.9L1383.8 659.9L1384.5 659.9L1385.2 659.9L1385.9 659.9L1386.6 660L1387.3 660L1388 660L1388.7 660L1389.4 660L1390.1 660L1390.8 660L1391.6 660L1392.3 660L1393 660L1393.7 660L1394.4 660L1395.1 660L1395.8 660L1396.5 660L1397.2 660L1397.9 660L1398.6 660L1399.3 660L1400 659.9L1400.7 659.8L1401.4 659.7L1402.1 659.5L1402.8 659.3L1403.5 659.2L1404.2 659L1404.9 658.8L1405.6 658.5L1406.3 658.3L1407 658.1L1407.8 657.8L1408.5 657.5L1409.2 657.3L1409.9 657L1410.6 656.8L1411.3 656.5L1412 656.2L1412.7 656L1413.4 655.7L1414.1 655.5L1414.8 655.2L1415.5 655L1416.2 654.8L1416.9 654.6L1417.6 654.5L1418.3 654.3L1419 654.1L1419.7 654L1420.4 653.8L1421.1 653.7L1421.8 653.5L1422.5 653.4L1423.2 653.2L1423.9 653.1L1424.7 652.9L1425.4 652.8L1426.1 652.6L1426.8 652.5L1427.5 652.4L1428.2 652.2L1428.9 652.1L1429.6 651.9L1430.3 651.8L1431 651.7L1431.7 651.5L1432.4 651.4L1433.1 651.3L1433.8 651.2L1434.5 651L1435.2 650.9L1435.9 650.8L1436.6 650.7L1437.3 650.5L1438 650.4L1438.7 650.3L1439.4 650.2L1440.1 650L1440.9 649.9L1441.6 649.8L1442.3 649.7L1443 649.5L1443.7 649.4L1444.4 649.3L1445.1 649.1L1445.8 649L1446.5 648.8L1447.2 648.7L1447.9 648.6L1448.6 648.4L1449.3 648.3L1450 648.2L1450.7 648L1451.4 647.9L1452.1 647.8L1452.8 647.6L1453.5 647.5L1454.2 647.4L1454.9 647.3L1455.6 647.2L1456.3 647.1L1457 647L1457.8 646.9L1458.5 646.8L1459.2 646.8L1459.9 646.7L1460.6 646.6L1461.3 646.6L1462 646.6L1462.7 646.5L1463.4 646.5L1464.1 646.5L1464.8 646.5L1465.5 646.5L1466.2 646.5L1466.9 646.5L1467.6 646.5L1468.3 646.5L1469 646.5L1469.7 646.4L1470.4 646.4L1471.1 646.4L1471.8 646.4L1472.5 646.4L1473.2 646.4L1474 646.4L1474.7 646.4L1475.4 646.4L1476.1 646.4L1476.8 646.4L1477.5 646.4L1478.2 646.4L1478.9 646.4L1479.6 646.3L1480.3 646.3L1481 646.3L1481.7 646.3L1482.4 646.3L1483.1 646.3L1483.8 646.3L1484.5 646.3L1485.2 646.3L1485.9 646.3L1486.6 646.3L1487.3 646.3L1488 646.3L1488.7 646.3L1489.4 646.3L1490.1 646.3L1490.9 646.3L1491.6 646.3L1492.3 646.3L1493 646.3L1493.7 646.3L1494.4 646.3L1495.1 646.3L1495.8 646.3L1496.5 646.3L1497.2 646.3L1497.9 646.3L1498.6 646.3"/>
<path class="ln" stroke-width="1.3" d="M935.2 645L935.9 645L936.6 645L937.3 645L938 645L938.7 645L939.4 645L940.1 645L940.8 645L941.5 645L942.2 645L942.9 645L943.7 645L944.4 645L945.1 645L945.8 645L946.5 645L947.2 645L947.9 645L948.6 645L949.3 645L950 645L950.7 645L951.4 645L952.1 645L952.8 645L953.5 645L954.2 645L954.9 645L955.6 645L956.3 645L957 645L957.7 645L958.4 645L959.1 645L959.8 645L960.6 645L961.3 645L962 645L962.7 645L963.4 645L964.1 645L964.8 645L965.5 645L966.2 645L966.9 645L967.6 645L968.3 645L969 645L969.7 645L970.4 645L971.1 645L971.8 645L972.5 645L973.2 645L973.9 645L974.6 645L975.3 645L976 645L976.8 645L977.5 645L978.2 645L978.9 645L979.6 645L980.3 645L981 645L981.7 645L982.4 645L983.1 645L983.8 645L984.5 645L985.2 645L985.9 645L986.6 645L987.3 645L988 645L988.7 645L989.4 645L990.1 645L990.8 645L991.5 645L992.2 645L992.9 645L993.7 645L994.4 645L995.1 645L995.8 645L996.5 645L997.2 645L997.9 645L998.6 645L999.3 645L1000 645L1000.7 645L1001.4 645L1002.1 645L1002.8 645L1003.5 645L1004.2 645L1004.9 645L1005.6 645L1006.3 645L1007 645L1007.7 645L1008.4 645L1009.1 645L1009.9 645L1010.6 645L1011.3 645L1012 645L1012.7 645L1013.4 645L1014.1 645L1014.8 645L1015.5 645L1016.2 645L1016.9 645L1017.6 645L1018.3 645L1019 645L1019.7 645L1020.4 645L1021.1 645L1021.8 645L1022.5 645L1023.2 645L1023.9 645L1024.6 645L1025.3 645L1026 645L1026.8 645L1027.5 645L1028.2 645L1028.9 645L1029.6 645L1030.3 645L1031 645L1031.7 645L1032.4 645.1L1033.1 645.1L1033.8 645.2L1034.5 645.2L1035.2 645.2L1035.9 645.3L1036.6 645.4L1037.3 645.4L1038 645.5L1038.7 645.6L1039.4 645.7L1040.1 645.7L1040.8 645.8L1041.5 645.9L1042.2 646L1043 646.1L1043.7 646.2L1044.4 646.3L1045.1 646.4L1045.8 646.5L1046.5 646.6L1047.2 646.7L1047.9 646.8L1048.6 646.9L1049.3 647L1050 647.2L1050.7 647.3L1051.4 647.4L1052.1 647.5L1052.8 647.6L1053.5 647.7L1054.2 647.8L1054.9 648L1055.6 648.1L1056.3 648.2L1057 648.4L1057.7 648.6L1058.4 648.7L1059.1 648.9L1059.9 649.1L1060.6 649.3L1061.3 649.5L1062 649.7L1062.7 649.9L1063.4 650.1L1064.1 650.3L1064.8 650.5L1065.5 650.7L1066.2 650.9L1066.9 651.1L1067.6 651.3L1068.3 651.5L1069 651.7L1069.7 651.9L1070.4 652.1L1071.1 652.3L1071.8 652.4L1072.5 652.6L1073.2 652.8L1073.9 652.9L1074.6 653.1L1075.3 653.3L1076 653.4L1076.8 653.5L1077.5 653.7L1078.2 653.8L1078.9 653.9L1079.6 654L1080.3 654.1L1081 654.2L1081.7 654.3L1082.4 654.4L1083.1 654.5L1083.8 654.6L1084.5 654.7L1085.2 654.7L1085.9 654.8L1086.6 654.9L1087.3 655L1088 655.1L1088.7 655.2L1089.4 655.3L1090.1 655.4L1090.8 655.5L1091.5 655.6L1092.2 655.7L1093 655.8L1093.7 655.9L1094.4 656L1095.1 656.2L1095.8 656.3L1096.5 656.5L1097.2 656.6L1097.9 656.8L1098.6 657L1099.3 657.2L1100 657.4L1100.7 657.7L1101.4 658.1L1102.1 658.6L1102.8 659.2L1103.5 659.8L1104.2 660.6L1104.9 661.3L1105.6 662.2L1106.3 663.1L1107 664L1107.7 665L1108.4 666L1109.1 667L1109.9 668L1110.6 669L1111.3 670.1L1112 671.1L1112.7 672.2L1113.4 673.2L1114.1 674.2L1114.8 675.1L1115.5 676.1L1116.2 676.9L1116.9 677.8L1117.6 678.5L1118.3 679.3L1119 679.9L1119.7 680.5L1120.4 680.9L1121.1 681.3L1121.8 681.6L1122.5 681.8L1123.2 681.9L1123.9 682L1124.6 682.1L1125.3 682.1L1126.1 682.2L1126.8 682.3L1127.5 682.3L1128.2 682.4L1128.9 682.5L1129.6 682.5L1130.3 682.6L1131 682.6L1131.7 682.7L1132.4 682.7L1133.1 682.8L1133.8 682.8L1134.5 682.8L1135.2 682.9L1135.9 682.9L1136.6 683L1137.3 683L1138 683L1138.7 683L1139.4 683.1L1140.1 683.1L1140.8 683.1L1141.5 683.1L1142.2 683.1L1143 683.2L1143.7 683.2L1144.4 683.2L1145.1 683.2L1145.8 683.2L1146.5 683.2L1147.2 683.2L1147.9 683.1L1148.6 682.9L1149.3 682.7L1150 682.4L1150.7 682.1L1151.4 681.7L1152.1 681.3L1152.8 680.9L1153.5 680.4L1154.2 679.9L1154.9 679.3L1155.6 678.7L1156.3 678.1L1157 677.5L1157.7 676.9L1158.4 676.2L1159.2 675.5L1159.9 674.8L1160.6 674.1L1161.3 673.4L1162 672.7L1162.7 672.1L1163.4 671.4L1164.1 670.7L1164.8 670L1165.5 669.4L1166.2 668.8L1166.9 668.2L1167.6 667.6L1168.3 667L1169 666.5L1169.7 666L1170.4 665.6L1171.1 665.1L1171.8 664.6L1172.5 664.1L1173.2 663.6L1173.9 663.1L1174.6 662.6L1175.3 662.1L1176.1 661.5L1176.8 661L1177.5 660.5L1178.2 659.9L1178.9 659.4L1179.6 658.9L1180.3 658.4L1181 657.9L1181.7 657.4L1182.4 656.9L1183.1 656.4L1183.8 656L1184.5 655.6L1185.2 655.2L1185.9 654.8L1186.6 654.4L1187.3 654.1L1188 653.8L1188.7 653.5L1189.4 653.3L1190.1 653.1L1190.8 652.9L1191.5 652.8L1192.3 652.7L1193 652.6L1193.7 652.6L1194.4 652.6L1195.1 652.6L1195.8 652.6L1196.5 652.6L1197.2 652.6L1197.9 652.6L1198.6 652.6L1199.3 652.6L1200 652.6L1200.7 652.6L1201.4 652.6L1202.1 652.6L1202.8 652.6L1203.5 652.6L1204.2 652.6L1204.9 652.6L1205.6 652.6L1206.3 652.6L1207 652.6L1207.7 652.6L1208.4 652.6L1209.2 652.6L1209.9 652.6L1210.6 652.6L1211.3 652.6L1212 652.6L1212.7 652.6L1213.4 652.6L1214.1 652.6L1214.8 652.6L1215.5 652.6L1216.2 652.6L1216.9 652.6L1217.6 652.6L1218.3 652.6L1219 652.7L1219.7 652.7L1220.4 652.7L1221.1 652.7L1221.8 652.8L1222.5 652.8L1223.2 652.9L1223.9 652.9L1224.6 653L1225.4 653.1L1226.1 653.1L1226.8 653.2L1227.5 653.3L1228.2 653.4L1228.9 653.5L1229.6 653.6L1230.3 653.7L1231 653.8L1231.7 653.9L1232.4 654L1233.1 654.1L1233.8 654.3L1234.5 654.4L1235.2 654.5L1235.9 654.7L1236.6 654.8L1237.3 655L1238 655.1L1238.7 655.3L1239.4 655.5L1240.1 655.6L1240.8 655.8L1241.5 656.2L1242.3 656.8L1243 657.5L1243.7 658.4L1244.4 659.4L1245.1 660.5L1245.8 661.8L1246.5 663.3L1247.2 664.8L1247.9 666.5L1248.6 668.2L1249.3 670.1L1250 672.1L1250.7 674.1L1251.4 676.2L1252.1 678.4L1252.8 680.7L1253.5 683L1254.2 685.4L1254.9 687.8L1255.6 690.3L1256.3 692.8L1257 695.3L1257.7 697.9L1258.5 700.4L1259.2 703L1259.9 705.5L1260.6 708.1L1261.3 710.6L1262 713.1L1262.7 715.6L1263.4 718L1264.1 720.4L1264.8 723L1265.5 725.7L1266.2 728.7L1266.9 731.8L1267.6 735L1268.3 738.4L1269 741.9L1269.7 745.5L1270.4 749.2L1271.1 753L1271.8 756.9L1272.5 760.7L1273.2 764.6L1273.9 768.6L1274.6 772.5L1275.4 776.4L1276.1 780.2L1276.8 784L1277.5 787.8L1278.2 791.4L1278.9 795L1279.6 798.5L1280.3 801.8L1281 804.9L1281.7 808L1282.4 810.8L1283.1 813.5L1283.8 815.9L1284.5 818.1L1285.2 820.1L1285.9 821.8L1286.6 823.3L1287.3 824.5L1288 825.5L1288.7 826.4L1289.4 827.3L1290.1 828.1L1290.8 828.9L1291.6 829.6L1292.3 830.3L1293 830.9L1293.7 831.5L1294.4 832.1L1295.1 832.6L1295.8 833.1L1296.5 833.6L1297.2 834.1L1297.9 834.5L1298.6 835L1299.3 835.4L1300 835.9L1300.7 836.3L1301.4 836.7L1302.1 837.2L1302.8 837.7L1303.5 838.2L1304.2 838.7L1304.9 839.2L1305.6 839.8L1306.3 840.3L1307 841L1307.7 841.6L1308.5 842.4L1309.2 843.1L1309.9 843.9L1310.6 844.8L1311.3 845.8L1312 847.1L1312.7 848.6L1313.4 850.3L1314.1 852.2L1314.8 854.1L1315.5 856.2L1316.2 858.3L1316.9 860.3L1317.6 862.3L1318.3 864.1L1319 865.8L1319.7 867.3L1320.4 868.6L1321.1 869.5L1321.8 870.1L1322.5 870.3L1323.2 870L1323.9 869L1324.7 867.4L1325.4 865.2L1326.1 862.6L1326.8 859.6L1327.5 856.3L1328.2 852.7L1328.9 848.9L1329.6 845L1330.3 841L1331 837L1331.7 833L1332.4 829.2L1333.1 825.6L1333.8 822.2L1334.5 819.2L1335.2 816.2L1335.9 813.2L1336.6 810.2L1337.3 807.2L1338 804.2L1338.7 801.2L1339.4 798.2L1340.1 795.2L1340.8 792.2L1341.6 789.2L1342.3 786.2L1343 783.3L1343.7 780.3L1344.4 777.3L1345.1 774.3L1345.8 771.3L1346.5 768.4L1347.2 765.4L1347.9 762.4L1348.6 759.5L1349.3 756.5L1350 753.6L1350.7 750.6L1351.4 747.7L1352.1 744.8L1352.8 741.9L1353.5 739L1354.2 736.1L1354.9 733.3L1355.6 730.4L1356.3 727.5L1357 724.7L1357.8 721.9L1358.5 719L1359.2 715.9L1359.9 712.7L1360.6 709.4L1361.3 706L1362 702.6L1362.7 699.1L1363.4 695.6L1364.1 692.2L1364.8 688.8L1365.5 685.5L1366.2 682.3L1366.9 679.2L1367.6 676.4L1368.3 673.6L1369 671.2L1369.7 668.9L1370.4 666.9L1371.1 665.3L1371.8 663.9L1372.5 662.9L1373.2 662.3L1373.9 661.9L1374.7 661.6L1375.4 661.3L1376.1 661.1L1376.8 660.9L1377.5 660.7L1378.2 660.5L1378.9 660.3L1379.6 660.1L1380.3 659.9L1381 659.6L1381.7 659.3L1382.4 658.9L1383.1 658.6L1383.8 658.1L1384.5 657.7L1385.2 657.2L1385.9 656.7L1386.6 656.1L1387.3 655.5L1388 655L1388.7 654.4L1389.4 653.8L1390.1 653.2L1390.8 652.6L1391.6 651.9L1392.3 651.3L1393 650.7L1393.7 650.1L1394.4 649.6L1395.1 649L1395.8 648.4L1396.5 647.9L1397.2 647.4L1397.9 646.9L1398.6 646.5L1399.3 646.1L1400 645.7L1400.7 645.4L1401.4 645.1L1402.1 644.9L1402.8 644.7L1403.5 644.6L1404.2 644.5L1404.9 644.5L1405.6 644.5L1406.3 644.5L1407 644.5L1407.8 644.5L1408.5 644.5L1409.2 644.5L1409.9 644.5L1410.6 644.5L1411.3 644.5L1412 644.5L1412.7 644.5L1413.4 644.5L1414.1 644.5L1414.8 644.5L1415.5 644.5L1416.2 644.5L1416.9 644.5L1417.6 644.5L1418.3 644.5L1419 644.5L1419.7 644.5L1420.4 644.5L1421.1 644.5L1421.8 644.5L1422.5 644.5L1423.2 644.5L1423.9 644.5L1424.7 644.5L1425.4 644.5L1426.1 644.5L1426.8 644.5L1427.5 644.5L1428.2 644.5L1428.9 644.5L1429.6 644.5L1430.3 644.5L1431 644.5L1431.7 644.5L1432.4 644.5L1433.1 644.5L1433.8 644.5L1434.5 644.5L1435.2 644.5L1435.9 644.5L1436.6 644.5L1437.3 644.5L1438 644.5L1438.7 644.5L1439.4 644.5L1440.1 644.5L1440.9 644.5L1441.6 644.5L1442.3 644.5L1443 644.5L1443.7 644.5L1444.4 644.5L1445.1 644.5L1445.8 644.5L1446.5 644.5L1447.2 644.5L1447.9 644.5L1448.6 644.5L1449.3 644.5L1450 644.5L1450.7 644.5L1451.4 644.5L1452.1 644.5L1452.8 644.5L1453.5 644.5L1454.2 644.5L1454.9 644.5L1455.6 644.5L1456.3 644.5L1457 644.5L1457.8 644.5L1458.5 644.5L1459.2 644.5L1459.9 644.5L1460.6 644.5L1461.3 644.5L1462 644.5L1462.7 644.5L1463.4 644.5L1464.1 644.5L1464.8 644.5L1465.5 644.5L1466.2 644.5L1466.9 644.5L1467.6 644.5L1468.3 644.5L1469 644.5L1469.7 644.5L1470.4 644.5L1471.1 644.5L1471.8 644.5L1472.5 644.5L1473.2 644.5L1474 644.5L1474.7 644.5L1475.4 644.5L1476.1 644.5L1476.8 644.5L1477.5 644.5L1478.2 644.5L1478.9 644.5L1479.6 644.5L1480.3 644.5L1481 644.5L1481.7 644.5L1482.4 644.5L1483.1 644.5L1483.8 644.5L1484.5 644.5L1485.2 644.5L1485.9 644.5L1486.6 644.5L1487.3 644.5L1488 644.5L1488.7 644.5L1489.4 644.5L1490.1 644.5L1490.9 644.5L1491.6 644.5L1492.3 644.5L1493 644.5L1493.7 644.5L1494.4 644.5L1495.1 644.5L1495.8 644.5L1496.5 644.5L1497.2 644.5L1497.9 644.5L1498.6 644.5"/>
<g class="ms"><rect x="929.7" y="640" width="11" height="9.9"/><rect x="953.2" y="640" width="11" height="9.9"/><rect x="976.7" y="640" width="11" height="9.9"/><rect x="1000.1" y="640" width="11" height="9.9"/><rect x="1023.6" y="640" width="11" height="9.9"/><rect x="1047.1" y="642.6" width="11" height="9.9"/><rect x="1070.5" y="648.5" width="11" height="9.9"/><rect x="1094" y="652.3" width="11" height="9.9"/><rect x="1117.5" y="677" width="11" height="9.9"/><rect x="1141" y="678.2" width="11" height="9.9"/><rect x="1164.4" y="660.9" width="11" height="9.9"/><rect x="1187.9" y="647.7" width="11" height="9.9"/><rect x="1211.4" y="647.7" width="11" height="9.9"/><rect x="1234.9" y="650.7" width="11" height="9.9"/><rect x="1258.3" y="714.6" width="11" height="9.9"/><rect x="1281.8" y="819.5" width="11" height="9.9"/><rect x="1305.3" y="840.2" width="11" height="9.9"/><rect x="1328.8" y="815.2" width="11" height="9.9"/><rect x="1352.2" y="716.9" width="11" height="9.9"/><rect x="1375.7" y="654.6" width="11" height="9.9"/><rect x="1399.2" y="639.5" width="11" height="9.9"/><rect x="1422.7" y="639.5" width="11" height="9.9"/><rect x="1446.2" y="639.5" width="11" height="9.9"/><rect x="1469.6" y="639.5" width="11" height="9.9"/><rect x="1493.1" y="639.5" width="11" height="9.9"/></g>
<path class="ln" stroke-width="1.3" d="M935.2 645L935.9 645L936.6 645L937.3 645L938 645L938.7 645L939.4 645L940.1 645L940.8 645L941.5 645L942.2 645L942.9 645L943.7 645L944.4 645L945.1 645L945.8 645L946.5 645L947.2 645L947.9 645L948.6 645L949.3 645L950 645L950.7 645L951.4 645L952.1 645L952.8 645L953.5 645L954.2 645L954.9 645L955.6 645L956.3 645L957 645L957.7 645L958.4 645L959.1 645L959.8 645L960.6 645L961.3 645L962 645L962.7 645L963.4 645L964.1 645L964.8 645L965.5 645L966.2 645L966.9 645L967.6 645L968.3 645L969 645L969.7 645L970.4 645L971.1 645L971.8 645L972.5 645L973.2 645L973.9 645L974.6 645L975.3 645L976 645L976.8 645L977.5 645L978.2 645L978.9 645L979.6 645L980.3 645L981 645L981.7 645L982.4 645L983.1 645L983.8 645L984.5 645L985.2 645L985.9 645L986.6 645L987.3 645L988 645L988.7 645L989.4 645L990.1 645L990.8 645L991.5 645L992.2 645L992.9 645L993.7 645L994.4 645L995.1 645L995.8 645L996.5 645L997.2 645L997.9 645L998.6 645L999.3 645L1000 645L1000.7 645L1001.4 645L1002.1 645L1002.8 645L1003.5 645L1004.2 645L1004.9 645L1005.6 645L1006.3 645L1007 645L1007.7 645L1008.4 645L1009.1 645L1009.9 645L1010.6 645L1011.3 645L1012 645L1012.7 645L1013.4 645L1014.1 645L1014.8 645L1015.5 645L1016.2 645L1016.9 645L1017.6 645L1018.3 645L1019 645L1019.7 645L1020.4 645L1021.1 645L1021.8 645L1022.5 645L1023.2 645L1023.9 645L1024.6 645L1025.3 645L1026 645L1026.8 645L1027.5 645L1028.2 645L1028.9 645L1029.6 645L1030.3 645L1031 645L1031.7 645L1032.4 645L1033.1 645L1033.8 645L1034.5 645L1035.2 645L1035.9 645L1036.6 645L1037.3 645L1038 645L1038.7 645L1039.4 645L1040.1 645L1040.8 645L1041.5 645L1042.2 645L1043 645L1043.7 645L1044.4 645L1045.1 645L1045.8 645L1046.5 645L1047.2 645L1047.9 645L1048.6 645L1049.3 645L1050 645L1050.7 645L1051.4 645L1052.1 645L1052.8 645L1053.5 645L1054.2 645L1054.9 645L1055.6 645L1056.3 645L1057 645.1L1057.7 645.1L1058.4 645.1L1059.1 645.1L1059.9 645.1L1060.6 645.2L1061.3 645.2L1062 645.2L1062.7 645.3L1063.4 645.3L1064.1 645.3L1064.8 645.4L1065.5 645.4L1066.2 645.5L1066.9 645.5L1067.6 645.6L1068.3 645.6L1069 645.7L1069.7 645.7L1070.4 645.8L1071.1 645.8L1071.8 645.9L1072.5 646L1073.2 646L1073.9 646.1L1074.6 646.1L1075.3 646.2L1076 646.3L1076.8 646.4L1077.5 646.4L1078.2 646.6L1078.9 646.7L1079.6 646.9L1080.3 647L1081 647.2L1081.7 647.4L1082.4 647.6L1083.1 647.9L1083.8 648.1L1084.5 648.4L1085.2 648.6L1085.9 648.9L1086.6 649.2L1087.3 649.5L1088 649.8L1088.7 650.1L1089.4 650.4L1090.1 650.8L1090.8 651.1L1091.5 651.4L1092.2 651.7L1093 652.1L1093.7 652.4L1094.4 652.8L1095.1 653.1L1095.8 653.4L1096.5 653.8L1097.2 654.1L1097.9 654.4L1098.6 654.8L1099.3 655.1L1100 655.4L1100.7 655.7L1101.4 656L1102.1 656.4L1102.8 656.7L1103.5 657.1L1104.2 657.4L1104.9 657.7L1105.6 658.1L1106.3 658.5L1107 658.8L1107.7 659.2L1108.4 659.6L1109.1 659.9L1109.9 660.3L1110.6 660.7L1111.3 661.1L1112 661.5L1112.7 661.9L1113.4 662.3L1114.1 662.7L1114.8 663.1L1115.5 663.5L1116.2 663.9L1116.9 664.3L1117.6 664.7L1118.3 665.1L1119 665.5L1119.7 666L1120.4 666.4L1121.1 666.8L1121.8 667.2L1122.5 667.6L1123.2 668.1L1123.9 668.5L1124.6 669L1125.3 669.5L1126.1 670L1126.8 670.6L1127.5 671.2L1128.2 671.8L1128.9 672.4L1129.6 673L1130.3 673.6L1131 674.2L1131.7 674.9L1132.4 675.5L1133.1 676.1L1133.8 676.8L1134.5 677.4L1135.2 678L1135.9 678.6L1136.6 679.1L1137.3 679.7L1138 680.2L1138.7 680.7L1139.4 681.2L1140.1 681.6L1140.8 682L1141.5 682.4L1142.2 682.7L1143 683L1143.7 683.3L1144.4 683.4L1145.1 683.6L1145.8 683.7L1146.5 683.7L1147.2 683.7L1147.9 683.6L1148.6 683.6L1149.3 683.5L1150 683.4L1150.7 683.3L1151.4 683.1L1152.1 682.9L1152.8 682.8L1153.5 682.5L1154.2 682.3L1154.9 682.1L1155.6 681.8L1156.3 681.6L1157 681.3L1157.7 681L1158.4 680.7L1159.2 680.4L1159.9 680L1160.6 679.7L1161.3 679.3L1162 679L1162.7 678.6L1163.4 678.3L1164.1 677.9L1164.8 677.5L1165.5 677.2L1166.2 676.8L1166.9 676.4L1167.6 676L1168.3 675.7L1169 675.3L1169.7 674.9L1170.4 674.5L1171.1 674.1L1171.8 673.6L1172.5 673.1L1173.2 672.5L1173.9 671.9L1174.6 671.3L1175.3 670.6L1176.1 669.9L1176.8 669.1L1177.5 668.4L1178.2 667.6L1178.9 666.9L1179.6 666.1L1180.3 665.3L1181 664.5L1181.7 663.8L1182.4 663L1183.1 662.2L1183.8 661.5L1184.5 660.8L1185.2 660.1L1185.9 659.4L1186.6 658.8L1187.3 658.2L1188 657.6L1188.7 657.1L1189.4 656.7L1190.1 656.3L1190.8 655.9L1191.5 655.6L1192.3 655.4L1193 655.2L1193.7 655.2L1194.4 655.1L1195.1 655L1195.8 655L1196.5 654.9L1197.2 654.8L1197.9 654.8L1198.6 654.7L1199.3 654.6L1200 654.6L1200.7 654.5L1201.4 654.5L1202.1 654.4L1202.8 654.4L1203.5 654.3L1204.2 654.3L1204.9 654.3L1205.6 654.2L1206.3 654.2L1207 654.2L1207.7 654.1L1208.4 654.1L1209.2 654.1L1209.9 654L1210.6 654L1211.3 654L1212 654L1212.7 654L1213.4 653.9L1214.1 653.9L1214.8 653.9L1215.5 653.9L1216.2 653.9L1216.9 653.9L1217.6 653.9L1218.3 654L1219 654.1L1219.7 654.2L1220.4 654.4L1221.1 654.6L1221.8 654.8L1222.5 655L1223.2 655.3L1223.9 655.6L1224.6 655.9L1225.4 656.3L1226.1 656.7L1226.8 657.1L1227.5 657.5L1228.2 657.9L1228.9 658.3L1229.6 658.8L1230.3 659.3L1231 659.8L1231.7 660.3L1232.4 660.8L1233.1 661.3L1233.8 661.8L1234.5 662.3L1235.2 662.8L1235.9 663.4L1236.6 663.9L1237.3 664.4L1238 664.9L1238.7 665.5L1239.4 666L1240.1 666.5L1240.8 667L1241.5 667.5L1242.3 668L1243 668.6L1243.7 669.2L1244.4 669.8L1245.1 670.4L1245.8 671L1246.5 671.6L1247.2 672.3L1247.9 673L1248.6 673.6L1249.3 674.3L1250 675L1250.7 675.8L1251.4 676.5L1252.1 677.2L1252.8 678L1253.5 678.7L1254.2 679.5L1254.9 680.3L1255.6 681.1L1256.3 681.9L1257 682.6L1257.7 683.5L1258.5 684.3L1259.2 685.1L1259.9 685.9L1260.6 686.7L1261.3 687.5L1262 688.4L1262.7 689.2L1263.4 690L1264.1 690.8L1264.8 691.7L1265.5 692.5L1266.2 693.2L1266.9 694L1267.6 694.8L1268.3 695.5L1269 696.3L1269.7 697L1270.4 697.8L1271.1 698.6L1271.8 699.3L1272.5 700.1L1273.2 700.9L1273.9 701.7L1274.6 702.5L1275.4 703.3L1276.1 704.2L1276.8 705.1L1277.5 706L1278.2 707L1278.9 708L1279.6 709L1280.3 710L1281 711.1L1281.7 712.3L1282.4 713.5L1283.1 714.7L1283.8 716L1284.5 717.4L1285.2 718.8L1285.9 720.3L1286.6 721.8L1287.3 723.4L1288 725.3L1288.7 727.7L1289.4 730.6L1290.1 734L1290.8 737.8L1291.6 741.9L1292.3 746.4L1293 751.3L1293.7 756.4L1294.4 761.8L1295.1 767.4L1295.8 773.2L1296.5 779.2L1297.2 785.3L1297.9 791.5L1298.6 797.8L1299.3 804.1L1300 810.4L1300.7 816.7L1301.4 823L1302.1 829.1L1302.8 835.2L1303.5 841L1304.2 846.7L1304.9 852.2L1305.6 857.5L1306.3 862.4L1307 867.1L1307.7 871.4L1308.5 875.3L1309.2 878.9L1309.9 882L1310.6 884.6L1311.3 886.8L1312 889L1312.7 891.3L1313.4 893.4L1314.1 895.6L1314.8 897.7L1315.5 899.7L1316.2 901.7L1316.9 903.6L1317.6 905.4L1318.3 907L1319 908.5L1319.7 909.9L1320.4 911.1L1321.1 912.2L1321.8 913L1322.5 913.7L1323.2 914.1L1323.9 914.3L1324.7 914.3L1325.4 913.9L1326.1 913.1L1326.8 912.1L1327.5 910.7L1328.2 909L1328.9 907.1L1329.6 905L1330.3 902.6L1331 900.1L1331.7 897.4L1332.4 894.5L1333.1 891.5L1333.8 888.5L1334.5 885.2L1335.2 880.9L1335.9 875.3L1336.6 868.7L1337.3 861.5L1338 853.7L1338.7 845.7L1339.4 837.7L1340.1 829.9L1340.8 822.6L1341.6 815.9L1342.3 808.8L1343 801.4L1343.7 793.8L1344.4 785.9L1345.1 777.9L1345.8 769.8L1346.5 761.7L1347.2 753.5L1347.9 745.4L1348.6 737.4L1349.3 729.6L1350 722L1350.7 714.7L1351.4 707.7L1352.1 701.1L1352.8 695L1353.5 689.3L1354.2 684.2L1354.9 679.7L1355.6 675.8L1356.3 672.6L1357 670.2L1357.8 668.7L1358.5 667.6L1359.2 666.5L1359.9 665.4L1360.6 664.4L1361.3 663.4L1362 662.4L1362.7 661.5L1363.4 660.7L1364.1 659.8L1364.8 659L1365.5 658.2L1366.2 657.5L1366.9 656.7L1367.6 656.1L1368.3 655.4L1369 654.8L1369.7 654.2L1370.4 653.6L1371.1 653.1L1371.8 652.6L1372.5 652.2L1373.2 651.7L1373.9 651.3L1374.7 650.9L1375.4 650.6L1376.1 650.3L1376.8 650L1377.5 649.7L1378.2 649.5L1378.9 649.3L1379.6 649.1L1380.3 649L1381 648.9L1381.7 648.8L1382.4 648.7L1383.1 648.6L1383.8 648.5L1384.5 648.4L1385.2 648.3L1385.9 648.2L1386.6 648.1L1387.3 648.1L1388 648L1388.7 647.9L1389.4 647.8L1390.1 647.8L1390.8 647.7L1391.6 647.6L1392.3 647.6L1393 647.5L1393.7 647.5L1394.4 647.4L1395.1 647.4L1395.8 647.3L1396.5 647.3L1397.2 647.2L1397.9 647.2L1398.6 647.2L1399.3 647.1L1400 647.1L1400.7 647.1L1401.4 647.1L1402.1 647.1L1402.8 647L1403.5 647L1404.2 647L1404.9 647L1405.6 647L1406.3 647L1407 647L1407.8 647L1408.5 647L1409.2 647L1409.9 647L1410.6 647L1411.3 647L1412 647L1412.7 647L1413.4 647L1414.1 647L1414.8 647L1415.5 647L1416.2 647L1416.9 647L1417.6 647L1418.3 647L1419 647L1419.7 647L1420.4 647L1421.1 647L1421.8 647L1422.5 647L1423.2 647L1423.9 647L1424.7 647L1425.4 647L1426.1 647L1426.8 647L1427.5 647L1428.2 647L1428.9 647L1429.6 647L1430.3 647L1431 647L1431.7 647L1432.4 647L1433.1 647L1433.8 647L1434.5 647L1435.2 647L1435.9 647L1436.6 647L1437.3 647L1438 647L1438.7 647L1439.4 647L1440.1 647L1440.9 647L1441.6 647L1442.3 647L1443 647L1443.7 647L1444.4 647L1445.1 647L1445.8 647L1446.5 647L1447.2 647L1447.9 647L1448.6 647L1449.3 647L1450 647L1450.7 647L1451.4 647L1452.1 647L1452.8 647L1453.5 647L1454.2 647L1454.9 647L1455.6 647L1456.3 647L1457 647L1457.8 647L1458.5 647L1459.2 647L1459.9 647L1460.6 647L1461.3 647L1462 647L1462.7 647L1463.4 647L1464.1 647L1464.8 647L1465.5 647L1466.2 647L1466.9 647L1467.6 647L1468.3 647L1469 647L1469.7 647L1470.4 647L1471.1 647L1471.8 647L1472.5 647L1473.2 647L1474 647L1474.7 647L1475.4 647L1476.1 647L1476.8 647L1477.5 647L1478.2 647L1478.9 647L1479.6 647L1480.3 647L1481 647L1481.7 647L1482.4 647L1483.1 647L1483.8 647L1484.5 647L1485.2 647L1485.9 647L1486.6 647L1487.3 647L1488 647L1488.7 647L1489.4 647L1490.1 647L1490.9 647L1491.6 647L1492.3 647L1493 647L1493.7 647L1494.4 647L1495.1 647L1495.8 647L1496.5 647L1497.2 647L1497.9 647L1498.6 647"/>
<g class="mc"><circle cx="935.2" cy="645" r="6.3"/><circle cx="958.7" cy="645" r="6.3"/><circle cx="982.2" cy="645" r="6.3"/><circle cx="1005.6" cy="645" r="6.3"/><circle cx="1029.1" cy="645" r="6.3"/><circle cx="1052.6" cy="645" r="6.3"/><circle cx="1076" cy="646.3" r="6.3"/><circle cx="1099.5" cy="655.2" r="6.3"/><circle cx="1123" cy="667.9" r="6.3"/><circle cx="1146.5" cy="683.7" r="6.3"/><circle cx="1169.9" cy="674.8" r="6.3"/><circle cx="1193.4" cy="655.2" r="6.3"/><circle cx="1216.9" cy="653.9" r="6.3"/><circle cx="1240.4" cy="666.6" r="6.3"/><circle cx="1263.8" cy="690.6" r="6.3"/><circle cx="1287.3" cy="723.4" r="6.3"/><circle cx="1310.8" cy="885.3" r="6.3"/><circle cx="1334.3" cy="886.4" r="6.3"/><circle cx="1357.8" cy="668.7" r="6.3"/><circle cx="1381.2" cy="648.8" r="6.3"/><circle cx="1404.7" cy="647" r="6.3"/><circle cx="1428.2" cy="647" r="6.3"/><circle cx="1451.7" cy="647" r="6.3"/><circle cx="1475.1" cy="647" r="6.3"/><circle cx="1498.6" cy="647" r="6.3"/></g>
<path class="ln" stroke-width="1.3" d="M935.2 645L935.9 645L936.6 645L937.3 645L938 645L938.7 645L939.4 645L940.1 645L940.8 645L941.5 645L942.2 645L942.9 645L943.7 645L944.4 645L945.1 645L945.8 645L946.5 645L947.2 645L947.9 645L948.6 645L949.3 645L950 645L950.7 645L951.4 645L952.1 645L952.8 645L953.5 645L954.2 645L954.9 645L955.6 645L956.3 645L957 645L957.7 645L958.4 645L959.1 645L959.8 645L960.6 645L961.3 645L962 645L962.7 645L963.4 645L964.1 645L964.8 645L965.5 645L966.2 645L966.9 645L967.6 645L968.3 645L969 645L969.7 645L970.4 645L971.1 645L971.8 645L972.5 645L973.2 645L973.9 645L974.6 645L975.3 645L976 645L976.8 645L977.5 645L978.2 645L978.9 645L979.6 645L980.3 645L981 645L981.7 645L982.4 645L983.1 645L983.8 645L984.5 645L985.2 645L985.9 645L986.6 645L987.3 645L988 645L988.7 645L989.4 645L990.1 645L990.8 645L991.5 645L992.2 645L992.9 645L993.7 645L994.4 645L995.1 645L995.8 645L996.5 645L997.2 645L997.9 645L998.6 645L999.3 645L1000 645L1000.7 645L1001.4 645L1002.1 645L1002.8 645L1003.5 645L1004.2 645L1004.9 645L1005.6 645L1006.3 645L1007 645L1007.7 645L1008.4 645L1009.1 645L1009.9 645L1010.6 645L1011.3 645L1012 645L1012.7 645L1013.4 645L1014.1 645L1014.8 645L1015.5 645L1016.2 645L1016.9 645L1017.6 645L1018.3 645L1019 645L1019.7 645L1020.4 645L1021.1 645L1021.8 645L1022.5 645L1023.2 645L1023.9 645L1024.6 645L1025.3 645L1026 645L1026.8 645L1027.5 645L1028.2 645L1028.9 645L1029.6 645L1030.3 645L1031 645L1031.7 645L1032.4 645L1033.1 645L1033.8 645L1034.5 645L1035.2 645L1035.9 645L1036.6 645L1037.3 645L1038 645L1038.7 645L1039.4 645L1040.1 645L1040.8 645L1041.5 645L1042.2 645L1043 645L1043.7 645L1044.4 645L1045.1 645L1045.8 645L1046.5 645L1047.2 645L1047.9 645L1048.6 645L1049.3 645L1050 645L1050.7 645L1051.4 645L1052.1 645L1052.8 645L1053.5 645L1054.2 645L1054.9 645L1055.6 645L1056.3 645L1057 645L1057.7 645L1058.4 645L1059.1 645L1059.9 645L1060.6 645L1061.3 645L1062 645L1062.7 645L1063.4 645L1064.1 645L1064.8 645L1065.5 645L1066.2 645L1066.9 645L1067.6 645L1068.3 645L1069 645L1069.7 645L1070.4 645L1071.1 645L1071.8 645L1072.5 645L1073.2 645L1073.9 645L1074.6 645L1075.3 645L1076 645L1076.8 645L1077.5 645L1078.2 645L1078.9 645L1079.6 645L1080.3 645L1081 645L1081.7 645L1082.4 645L1083.1 645L1083.8 645L1084.5 645L1085.2 645L1085.9 645L1086.6 645L1087.3 645L1088 645L1088.7 645L1089.4 645L1090.1 645L1090.8 645L1091.5 645L1092.2 645L1093 645L1093.7 645L1094.4 645L1095.1 645L1095.8 645L1096.5 645L1097.2 645L1097.9 645L1098.6 645L1099.3 645L1100 645L1100.7 645L1101.4 645L1102.1 645L1102.8 645L1103.5 645L1104.2 645L1104.9 645.1L1105.6 645.1L1106.3 645.1L1107 645.1L1107.7 645.1L1108.4 645.1L1109.1 645.2L1109.9 645.2L1110.6 645.2L1111.3 645.2L1112 645.3L1112.7 645.3L1113.4 645.3L1114.1 645.4L1114.8 645.4L1115.5 645.4L1116.2 645.4L1116.9 645.5L1117.6 645.5L1118.3 645.5L1119 645.6L1119.7 645.6L1120.4 645.6L1121.1 645.7L1121.8 645.7L1122.5 645.7L1123.2 645.8L1123.9 645.8L1124.6 645.9L1125.3 645.9L1126.1 646L1126.8 646L1127.5 646.1L1128.2 646.2L1128.9 646.2L1129.6 646.3L1130.3 646.4L1131 646.5L1131.7 646.6L1132.4 646.6L1133.1 646.7L1133.8 646.8L1134.5 646.9L1135.2 647L1135.9 647.1L1136.6 647.1L1137.3 647.2L1138 647.3L1138.7 647.4L1139.4 647.4L1140.1 647.5L1140.8 647.6L1141.5 647.6L1142.2 647.7L1143 647.7L1143.7 647.7L1144.4 647.8L1145.1 647.8L1145.8 647.8L1146.5 647.8L1147.2 647.8L1147.9 647.8L1148.6 647.8L1149.3 647.8L1150 647.7L1150.7 647.7L1151.4 647.7L1152.1 647.6L1152.8 647.6L1153.5 647.6L1154.2 647.5L1154.9 647.5L1155.6 647.4L1156.3 647.4L1157 647.3L1157.7 647.2L1158.4 647.2L1159.2 647.1L1159.9 647.1L1160.6 647L1161.3 646.9L1162 646.9L1162.7 646.8L1163.4 646.8L1164.1 646.7L1164.8 646.6L1165.5 646.6L1166.2 646.5L1166.9 646.5L1167.6 646.4L1168.3 646.4L1169 646.3L1169.7 646.3L1170.4 646.2L1171.1 646.2L1171.8 646.2L1172.5 646.1L1173.2 646.1L1173.9 646L1174.6 646L1175.3 645.9L1176.1 645.9L1176.8 645.8L1177.5 645.8L1178.2 645.7L1178.9 645.7L1179.6 645.6L1180.3 645.6L1181 645.5L1181.7 645.5L1182.4 645.4L1183.1 645.4L1183.8 645.3L1184.5 645.3L1185.2 645.2L1185.9 645.2L1186.6 645.2L1187.3 645.1L1188 645.1L1188.7 645.1L1189.4 645.1L1190.1 645L1190.8 645L1191.5 645L1192.3 645L1193 645L1193.7 645L1194.4 645L1195.1 645L1195.8 645.1L1196.5 645.2L1197.2 645.2L1197.9 645.3L1198.6 645.4L1199.3 645.5L1200 645.6L1200.7 645.8L1201.4 645.9L1202.1 646L1202.8 646.2L1203.5 646.3L1204.2 646.5L1204.9 646.6L1205.6 646.8L1206.3 646.9L1207 647L1207.7 647.2L1208.4 647.3L1209.2 647.5L1209.9 647.6L1210.6 647.7L1211.3 647.8L1212 647.9L1212.7 648L1213.4 648.1L1214.1 648.2L1214.8 648.2L1215.5 648.3L1216.2 648.3L1216.9 648.3L1217.6 648.3L1218.3 648.3L1219 648.2L1219.7 648.2L1220.4 648.1L1221.1 648.1L1221.8 648L1222.5 647.9L1223.2 647.8L1223.9 647.7L1224.6 647.6L1225.4 647.5L1226.1 647.4L1226.8 647.2L1227.5 647.1L1228.2 647L1228.9 646.9L1229.6 646.7L1230.3 646.6L1231 646.5L1231.7 646.4L1232.4 646.3L1233.1 646.1L1233.8 646L1234.5 645.9L1235.2 645.9L1235.9 645.8L1236.6 645.7L1237.3 645.6L1238 645.6L1238.7 645.5L1239.4 645.5L1240.1 645.5L1240.8 645.5L1241.5 645.5L1242.3 645.6L1243 645.6L1243.7 645.7L1244.4 645.7L1245.1 645.8L1245.8 645.9L1246.5 646L1247.2 646.1L1247.9 646.3L1248.6 646.4L1249.3 646.5L1250 646.7L1250.7 646.8L1251.4 647L1252.1 647.2L1252.8 647.4L1253.5 647.5L1254.2 647.7L1254.9 647.9L1255.6 648.1L1256.3 648.3L1257 648.5L1257.7 648.8L1258.5 649L1259.2 649.2L1259.9 649.4L1260.6 649.6L1261.3 649.8L1262 650L1262.7 650.2L1263.4 650.5L1264.1 650.7L1264.8 650.9L1265.5 651.1L1266.2 651.4L1266.9 651.7L1267.6 651.9L1268.3 652.2L1269 652.5L1269.7 652.9L1270.4 653.2L1271.1 653.5L1271.8 653.9L1272.5 654.2L1273.2 654.6L1273.9 654.9L1274.6 655.3L1275.4 655.7L1276.1 656L1276.8 656.4L1277.5 656.8L1278.2 657.2L1278.9 657.6L1279.6 657.9L1280.3 658.3L1281 658.7L1281.7 659.1L1282.4 659.4L1283.1 659.8L1283.8 660.1L1284.5 660.5L1285.2 660.8L1285.9 661.2L1286.6 661.5L1287.3 661.8L1288 662.1L1288.7 662.4L1289.4 662.7L1290.1 663L1290.8 663.3L1291.6 663.5L1292.3 663.8L1293 664.1L1293.7 664.4L1294.4 664.6L1295.1 664.9L1295.8 665.1L1296.5 665.4L1297.2 665.7L1297.9 665.9L1298.6 666.2L1299.3 666.4L1300 666.7L1300.7 667L1301.4 667.2L1302.1 667.5L1302.8 667.8L1303.5 668.1L1304.2 668.3L1304.9 668.6L1305.6 668.9L1306.3 669.2L1307 669.5L1307.7 669.8L1308.5 670.1L1309.2 670.4L1309.9 670.8L1310.6 671.1L1311.3 671.4L1312 671.8L1312.7 672.1L1313.4 672.3L1314.1 672.7L1314.8 673L1315.5 673.4L1316.2 673.8L1316.9 674.3L1317.6 674.9L1318.3 675.6L1319 677L1319.7 679.6L1320.4 682.8L1321.1 686.4L1321.8 689.9L1322.5 692.7L1323.2 694.6L1323.9 695.1L1324.7 693.9L1325.4 691.5L1326.1 688.1L1326.8 684.4L1327.5 680.8L1328.2 677.7L1328.9 675.6L1329.6 674.1L1330.3 672.8L1331 671.6L1331.7 670.6L1332.4 669.7L1333.1 668.9L1333.8 668.2L1334.5 667.8L1335.2 667.4L1335.9 667L1336.6 666.6L1337.3 666.3L1338 665.9L1338.7 665.6L1339.4 665.4L1340.1 665.1L1340.8 664.8L1341.6 664.6L1342.3 664.4L1343 664.2L1343.7 664L1344.4 663.8L1345.1 663.6L1345.8 663.4L1346.5 663.3L1347.2 663.1L1347.9 662.9L1348.6 662.8L1349.3 662.6L1350 662.5L1350.7 662.3L1351.4 662.1L1352.1 661.9L1352.8 661.7L1353.5 661.5L1354.2 661.3L1354.9 661.1L1355.6 660.8L1356.3 660.6L1357 660.3L1357.8 660L1358.5 659.7L1359.2 659.4L1359.9 659L1360.6 658.6L1361.3 658.1L1362 657.7L1362.7 657.2L1363.4 656.7L1364.1 656.2L1364.8 655.7L1365.5 655.2L1366.2 654.7L1366.9 654.1L1367.6 653.6L1368.3 653.1L1369 652.5L1369.7 652L1370.4 651.5L1371.1 651L1371.8 650.5L1372.5 650L1373.2 649.5L1373.9 649.1L1374.7 648.7L1375.4 648.3L1376.1 647.9L1376.8 647.6L1377.5 647.3L1378.2 647L1378.9 646.8L1379.6 646.6L1380.3 646.4L1381 646.3L1381.7 646.2L1382.4 646.2L1383.1 646.1L1383.8 646L1384.5 646L1385.2 645.9L1385.9 645.8L1386.6 645.8L1387.3 645.7L1388 645.7L1388.7 645.6L1389.4 645.6L1390.1 645.5L1390.8 645.5L1391.6 645.4L1392.3 645.4L1393 645.3L1393.7 645.3L1394.4 645.3L1395.1 645.2L1395.8 645.2L1396.5 645.2L1397.2 645.1L1397.9 645.1L1398.6 645.1L1399.3 645.1L1400 645.1L1400.7 645L1401.4 645L1402.1 645L1402.8 645L1403.5 645L1404.2 645L1404.9 645L1405.6 645L1406.3 645L1407 645L1407.8 645L1408.5 645L1409.2 645L1409.9 645L1410.6 645L1411.3 645L1412 645L1412.7 645L1413.4 645L1414.1 645L1414.8 645L1415.5 645L1416.2 645L1416.9 645L1417.6 645L1418.3 645L1419 645L1419.7 645L1420.4 645L1421.1 645L1421.8 645L1422.5 645L1423.2 645L1423.9 645L1424.7 645L1425.4 645L1426.1 645L1426.8 645L1427.5 645L1428.2 645L1428.9 645L1429.6 645L1430.3 645L1431 645L1431.7 645L1432.4 645L1433.1 645L1433.8 645L1434.5 645L1435.2 645L1435.9 645L1436.6 645L1437.3 645L1438 645L1438.7 645L1439.4 645L1440.1 645L1440.9 645L1441.6 645L1442.3 645L1443 645L1443.7 645L1444.4 645L1445.1 645L1445.8 645L1446.5 645L1447.2 645L1447.9 645L1448.6 645L1449.3 645L1450 645L1450.7 645L1451.4 645L1452.1 645L1452.8 645L1453.5 645L1454.2 645L1454.9 645L1455.6 645L1456.3 645L1457 645L1457.8 645L1458.5 645L1459.2 645L1459.9 645L1460.6 645L1461.3 645L1462 645L1462.7 645L1463.4 645L1464.1 645L1464.8 645L1465.5 645L1466.2 645L1466.9 645L1467.6 645L1468.3 645L1469 645L1469.7 645L1470.4 645L1471.1 645L1471.8 645L1472.5 645L1473.2 645L1474 645L1474.7 645L1475.4 645L1476.1 645L1476.8 645L1477.5 645L1478.2 645L1478.9 645L1479.6 645L1480.3 645L1481 645L1481.7 645L1482.4 645L1483.1 645L1483.8 645L1484.5 645L1485.2 645L1485.9 645L1486.6 645L1487.3 645L1488 645L1488.7 645L1489.4 645L1490.1 645L1490.9 645L1491.6 645L1492.3 645L1493 645L1493.7 645L1494.4 645L1495.1 645L1495.8 645L1496.5 645L1497.2 645L1497.9 645L1498.6 645"/>
<g class="mt"><path d="M935.2 637.3L942.6 651.1L927.8 651.1Z"/><path d="M958.7 637.3L966.1 651.1L951.3 651.1Z"/><path d="M982.2 637.3L989.6 651.1L974.8 651.1Z"/><path d="M1005.6 637.3L1013 651.1L998.2 651.1Z"/><path d="M1029.1 637.3L1036.5 651.1L1021.7 651.1Z"/><path d="M1052.6 637.3L1060 651.1L1045.2 651.1Z"/><path d="M1076 637.3L1083.5 651.1L1068.6 651.1Z"/><path d="M1099.5 637.3L1106.9 651.1L1092.1 651.1Z"/><path d="M1123 638.1L1130.4 651.9L1115.6 651.9Z"/><path d="M1146.5 640.1L1153.9 653.9L1139.1 653.9Z"/><path d="M1169.9 638.6L1177.3 652.4L1162.5 652.4Z"/><path d="M1193.4 637.3L1200.8 651.1L1186 651.1Z"/><path d="M1216.9 640.6L1224.3 654.4L1209.5 654.4Z"/><path d="M1240.4 637.8L1247.8 651.6L1233 651.6Z"/><path d="M1263.8 642.9L1271.2 656.7L1256.4 656.7Z"/><path d="M1287.3 654.1L1294.7 667.9L1279.9 667.9Z"/><path d="M1310.8 663.5L1318.2 677.3L1303.4 677.3Z"/><path d="M1334.3 660.2L1341.7 674L1326.9 674Z"/><path d="M1357.8 652.3L1365.2 666.1L1350.3 666.1Z"/><path d="M1381.2 638.6L1388.6 652.4L1373.8 652.4Z"/><path d="M1404.7 637.3L1412.1 651.1L1397.3 651.1Z"/><path d="M1428.2 637.3L1435.6 651.1L1420.8 651.1Z"/><path d="M1451.7 637.3L1459.1 651.1L1444.2 651.1Z"/><path d="M1475.1 637.3L1482.5 651.1L1467.7 651.1Z"/><path d="M1498.6 637.3L1506 651.1L1491.2 651.1Z"/></g>
<path class="ax" d="M935.2 605.9V1026.3M935.2 1026.3H1498.6M927.2 1001.4H935.2M927.2 950.5H935.2M927.2 899.6H935.2M927.2 848.7H935.2M927.2 797.8H935.2M927.2 746.8H935.2M927.2 695.9H935.2M927.2 645H935.2M931.2 976H935.2M931.2 925.1H935.2M931.2 874.1H935.2M931.2 823.2H935.2M931.2 772.3H935.2M931.2 721.4H935.2M931.2 670.5H935.2M931.2 619.5H935.2M935.2 1026.3V1034.3M1076 1026.3V1034.3M1216.9 1026.3V1034.3M1357.8 1026.3V1034.3M1498.6 1026.3V1034.3M1005.6 1026.3V1030.3M1146.5 1026.3V1030.3M1287.3 1026.3V1030.3M1428.2 1026.3V1030.3"/>
<g class="tl"><text x="921" y="1006.9" text-anchor="end">-14</text><text x="921" y="956" text-anchor="end">-12</text><text x="921" y="905.1" text-anchor="end">-10</text><text x="921" y="854.2" text-anchor="end">-8</text><text x="921" y="803.3" text-anchor="end">-6</text><text x="921" y="752.3" text-anchor="end">-4</text><text x="921" y="701.4" text-anchor="end">-2</text><text x="921" y="650.5" text-anchor="end">0</text><text x="934.6" y="1052.1" text-anchor="middle">200</text><text x="1075.5" y="1052.1" text-anchor="middle">300</text><text x="1216.3" y="1052.1" text-anchor="middle">400</text><text x="1357.2" y="1052.1" text-anchor="middle">500</text><text x="1498" y="1052.1" text-anchor="middle">600</text></g>
<g class="tt">
<text x="384.9" y="511.4" text-anchor="middle">Temperature [°C]</text>
<text x="1216.5" y="511.4" text-anchor="middle">Temperature [°C]</text>
<text x="385.5" y="1067" text-anchor="middle">Temperature (°C)</text>
<text x="1215.8" y="1083.4" text-anchor="middle">Temperature (°C)</text>
<text transform="translate(37 209) rotate(-90)" text-anchor="middle">Weight %</text>
<text transform="translate(37 792) rotate(-90)" text-anchor="middle">Weight %</text>
<text transform="translate(873.9 244.6) rotate(-90)" text-anchor="middle">Deriv. Weight % [%/°C]</text>
<text transform="translate(873.9 813.7) rotate(-90)" text-anchor="middle" font-size="19.3">Deriv. weight % [%/°C]</text>
</g>
<g class="pl">
<text x="384.2" y="45.1" text-anchor="middle">A</text>
<text x="1215.3" y="45" text-anchor="middle">B</text>
<text x="383.9" y="598.4" text-anchor="middle">C</text>
<text x="1215.2" y="618.6" text-anchor="middle">D</text>
</g>
<path d="M693.7 1139.2H760.4" stroke="#000" stroke-width="3.2" fill="none"/>
<path d="M695.5 1174.3H758.6M695.5 1210.5H758.6M695.5 1245.6H758.6" stroke="#222" stroke-width="1.5" fill="none"/>
<circle cx="727.2" cy="1174.3" r="7.7" fill="#000"/>
<rect x="721.2" y="1204.1" width="12" height="13" fill="#fff" stroke="#000" stroke-width="1.4"/>
<path d="M727.2 1234.3L736.3 1250.7L718.1 1250.7Z" fill="#000"/>
<g font-size="28.6" fill="#111">
<text x="765.6" y="1148.9" letter-spacing="1.6">EVA</text>
<text x="765.6" y="1183.9" letter-spacing="0.3">15% BC med</text>
<text x="765.6" y="1219.9" letter-spacing="0.3">20% BC med</text>
<text x="765.6" y="1255.1" letter-spacing="0.3">40% BC med</text>
</g>
</svg>
</body></html>
